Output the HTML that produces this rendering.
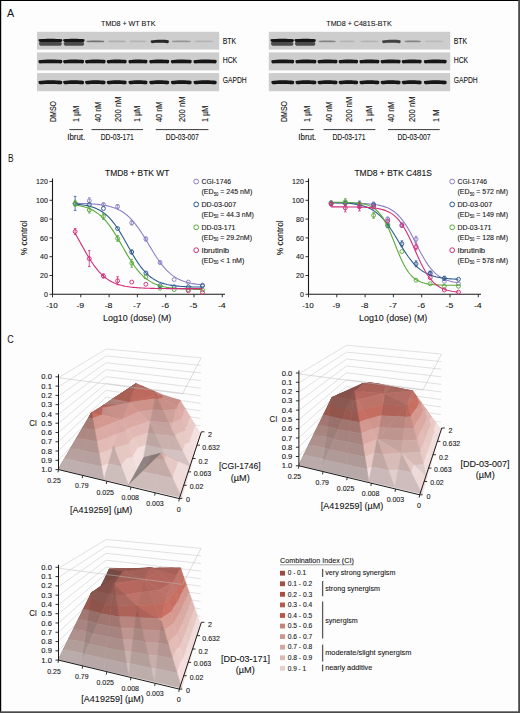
<!DOCTYPE html>
<html><head><meta charset="utf-8"><style>
html,body{margin:0;padding:0;background:#fff;}
svg{display:block;font-family:"Liberation Sans",sans-serif;}
text{fill:#151515;stroke:#151515;stroke-width:0.1px;}
</style></head><body>
<svg width="520" height="713" viewBox="0 0 520 713">
<defs><filter id="bl" x="-20%" y="-100%" width="140%" height="300%"><feGaussianBlur stdDeviation="0.6"/></filter><filter id="bl2" x="-20%" y="-100%" width="140%" height="300%"><feGaussianBlur stdDeviation="1.0"/></filter></defs>
<rect x="0" y="0" width="520" height="713" fill="#fdfdfd"/>
<text x="7.00" y="16.70" font-size="11.8" textLength="7.20" lengthAdjust="spacingAndGlyphs" style="stroke-width:0">A</text>
<text x="7.90" y="161.70" font-size="11.8" textLength="5.60" lengthAdjust="spacingAndGlyphs" style="stroke-width:0">B</text>
<text x="7.30" y="343.20" font-size="11.8" textLength="6.50" lengthAdjust="spacingAndGlyphs" style="stroke-width:0">C</text>
<g>
<rect x="37" y="31.8" width="182.2" height="17.8" fill="#cdcdcd"/>
<rect x="37" y="52.4" width="182.2" height="18.0" fill="#cdcdcd"/>
<rect x="37" y="73.1" width="182.2" height="18.1" fill="#cdcdcd"/>
<path d="M39.30 42.34C44.82 41.50 55.88 41.50 61.40 42.34C62.20 43.60 61.70 45.70 60.40 45.70C54.77 45.70 45.93 45.70 40.30 45.70C38.80 44.86 38.70 43.18 39.30 42.34Z" fill="#3c3c3c" opacity="0.90" filter="url(#bl)"/>
<path d="M38.80 39.18C44.57 38.50 56.12 38.50 61.90 39.18C62.70 40.20 62.20 41.90 60.90 41.90C54.97 41.90 45.73 41.90 39.80 41.90C38.30 41.22 38.20 39.86 38.80 39.18Z" fill="#141414" opacity="1.00" filter="url(#bl)"/>
<path d="M64.00 42.34C68.92 41.50 78.78 41.50 83.70 42.34C84.50 43.60 84.00 45.70 82.70 45.70C77.79 45.70 69.91 45.70 65.00 45.70C63.50 44.86 63.40 43.18 64.00 42.34Z" fill="#3c3c3c" opacity="0.90" filter="url(#bl)"/>
<path d="M63.50 39.18C68.67 38.50 79.03 38.50 84.20 39.18C85.00 40.20 84.50 41.90 83.20 41.90C77.99 41.90 69.71 41.90 64.50 41.90C63.00 41.22 62.90 39.86 63.50 39.18Z" fill="#141414" opacity="1.00" filter="url(#bl)"/>
<path d="M86.80 40.76C91.10 40.40 99.70 40.40 104.00 40.76C104.80 41.30 104.30 42.20 103.00 42.20C98.84 42.20 91.96 42.20 87.80 42.20C86.30 41.84 86.20 41.12 86.80 40.76Z" fill="#555555" opacity="0.75" filter="url(#bl)"/>
<path d="M108.10 40.76C112.40 40.40 121.00 40.40 125.30 40.76C126.10 41.30 125.60 42.20 124.30 42.20C120.14 42.20 113.26 42.20 109.10 42.20C107.60 41.84 107.50 41.12 108.10 40.76Z" fill="#555555" opacity="0.25" filter="url(#bl)"/>
<path d="M129.80 40.76C133.88 40.40 142.03 40.40 146.10 40.76C146.90 41.30 146.40 42.20 145.10 42.20C141.21 42.20 134.69 42.20 130.80 42.20C129.30 41.84 129.20 41.12 129.80 40.76Z" fill="#555555" opacity="0.20" filter="url(#bl)"/>
<path d="M151.00 40.47C155.38 39.60 164.12 39.60 168.50 40.22C169.30 41.40 168.80 43.20 167.50 43.20C163.25 42.70 156.25 42.70 152.00 43.20C150.50 42.48 150.40 41.04 151.00 40.47Z" fill="#161616" opacity="0.90" filter="url(#bl)"/>
<path d="M172.20 40.76C176.72 40.40 185.78 40.40 190.30 40.76C191.10 41.30 190.60 42.20 189.30 42.20C184.87 42.20 177.63 42.20 173.20 42.20C171.70 41.84 171.60 41.12 172.20 40.76Z" fill="#555555" opacity="0.45" filter="url(#bl)"/>
<path d="M194.80 40.76C199.35 40.40 208.45 40.40 213.00 40.76C213.80 41.30 213.30 42.20 212.00 42.20C207.54 42.20 200.26 42.20 195.80 42.20C194.30 41.84 194.20 41.12 194.80 40.76Z" fill="#555555" opacity="0.20" filter="url(#bl)"/>
<path d="M38.80 60.20C44.57 59.30 56.12 59.30 61.90 60.10C62.70 61.40 62.20 63.50 60.90 63.50C54.97 63.30 45.73 63.30 39.80 63.50C38.30 62.66 38.20 60.98 38.80 60.20Z" fill="#121212" opacity="1.00" filter="url(#bl)"/>
<path d="M38.80 81.03C44.57 80.10 56.12 80.10 61.90 80.88C62.70 82.20 62.20 84.30 60.90 84.30C54.97 84.00 45.73 84.00 39.80 84.30C38.30 83.46 38.20 81.78 38.80 81.03Z" fill="#151515" opacity="1.00" filter="url(#bl)"/>
<path d="M63.50 60.20C68.55 59.30 78.65 59.30 83.70 60.10C84.50 61.40 84.00 63.50 82.70 63.50C77.64 63.30 69.56 63.30 64.50 63.50C63.00 62.66 62.90 60.98 63.50 60.20Z" fill="#121212" opacity="1.00" filter="url(#bl)"/>
<path d="M63.50 81.03C68.55 80.10 78.65 80.10 83.70 80.88C84.50 82.20 84.00 84.30 82.70 84.30C77.64 84.00 69.56 84.00 64.50 84.30C63.00 83.46 62.90 81.78 63.50 81.03Z" fill="#151515" opacity="1.00" filter="url(#bl)"/>
<path d="M85.40 60.20C90.35 59.30 100.25 59.30 105.20 60.10C106.00 61.40 105.50 63.50 104.20 63.50C99.26 63.30 91.34 63.30 86.40 63.50C84.90 62.66 84.80 60.98 85.40 60.20Z" fill="#121212" opacity="1.00" filter="url(#bl)"/>
<path d="M85.40 81.03C90.35 80.10 100.25 80.10 105.20 80.88C106.00 82.20 105.50 84.30 104.20 84.30C99.26 84.00 91.34 84.00 86.40 84.30C84.90 83.46 84.80 81.78 85.40 81.03Z" fill="#151515" opacity="1.00" filter="url(#bl)"/>
<path d="M107.10 60.20C111.90 59.30 121.50 59.30 126.30 60.10C127.10 61.40 126.60 63.50 125.30 63.50C120.54 63.30 112.86 63.30 108.10 63.50C106.60 62.66 106.50 60.98 107.10 60.20Z" fill="#121212" opacity="1.00" filter="url(#bl)"/>
<path d="M107.10 81.03C111.90 80.10 121.50 80.10 126.30 80.88C127.10 82.20 126.60 84.30 125.30 84.30C120.54 84.00 112.86 84.00 108.10 84.30C106.60 83.46 106.50 81.78 107.10 81.03Z" fill="#151515" opacity="1.00" filter="url(#bl)"/>
<path d="M128.80 60.20C133.38 59.30 142.53 59.30 147.10 60.10C147.90 61.40 147.40 63.50 146.10 63.50C141.61 63.30 134.29 63.30 129.80 63.50C128.30 62.66 128.20 60.98 128.80 60.20Z" fill="#121212" opacity="1.00" filter="url(#bl)"/>
<path d="M128.80 81.03C133.38 80.10 142.53 80.10 147.10 80.88C147.90 82.20 147.40 84.30 146.10 84.30C141.61 84.00 134.29 84.00 129.80 84.30C128.30 83.46 128.20 81.78 128.80 81.03Z" fill="#151515" opacity="1.00" filter="url(#bl)"/>
<path d="M149.60 60.20C154.40 59.30 164.00 59.30 168.80 60.10C169.60 61.40 169.10 63.50 167.80 63.50C163.04 63.30 155.36 63.30 150.60 63.50C149.10 62.66 149.00 60.98 149.60 60.20Z" fill="#121212" opacity="1.00" filter="url(#bl)"/>
<path d="M149.60 81.03C154.40 80.10 164.00 80.10 168.80 80.88C169.60 82.20 169.10 84.30 167.80 84.30C163.04 84.00 155.36 84.00 150.60 84.30C149.10 83.46 149.00 81.78 149.60 81.03Z" fill="#151515" opacity="1.00" filter="url(#bl)"/>
<path d="M171.20 60.20C176.22 59.30 186.28 59.30 191.30 60.10C192.10 61.40 191.60 63.50 190.30 63.50C185.27 63.30 177.23 63.30 172.20 63.50C170.70 62.66 170.60 60.98 171.20 60.20Z" fill="#121212" opacity="1.00" filter="url(#bl)"/>
<path d="M171.20 81.03C176.22 80.10 186.28 80.10 191.30 80.88C192.10 82.20 191.60 84.30 190.30 84.30C185.27 84.00 177.23 84.00 172.20 84.30C170.70 83.46 170.60 81.78 171.20 81.03Z" fill="#151515" opacity="1.00" filter="url(#bl)"/>
<path d="M193.80 60.20C199.43 59.30 210.68 59.30 216.30 60.10C217.10 61.40 216.60 63.50 215.30 63.50C209.55 63.30 200.55 63.30 194.80 63.50C193.30 62.66 193.20 60.98 193.80 60.20Z" fill="#121212" opacity="1.00" filter="url(#bl)"/>
<path d="M193.80 81.03C199.43 80.10 210.68 80.10 216.30 80.88C217.10 82.20 216.60 84.30 215.30 84.30C209.55 84.00 200.55 84.00 194.80 84.30C193.30 83.46 193.20 81.78 193.80 81.03Z" fill="#151515" opacity="1.00" filter="url(#bl)"/>
<text x="222.70" y="43.60" font-size="8.2" textLength="13.50" lengthAdjust="spacingAndGlyphs" >BTK</text>
<text x="222.70" y="63.40" font-size="8.2" textLength="14.50" lengthAdjust="spacingAndGlyphs" >HCK</text>
<text x="222.70" y="83.40" font-size="8.2" textLength="24.00" lengthAdjust="spacingAndGlyphs" >GAPDH</text>
<text x="101.10" y="26.30" font-size="8.0" textLength="54.30" lengthAdjust="spacingAndGlyphs" >TMD8 + WT BTK</text>
<text x="55.70" y="122.00" font-size="8.4" textLength="21.00" lengthAdjust="spacingAndGlyphs" transform="rotate(-90 55.70 122.00)" >DMSO</text>
<text x="79.00" y="122.00" font-size="8.4" textLength="16.30" lengthAdjust="spacingAndGlyphs" transform="rotate(-90 79.00 122.00)" >1 µM</text>
<text x="100.70" y="122.00" font-size="8.4" textLength="20.50" lengthAdjust="spacingAndGlyphs" transform="rotate(-90 100.70 122.00)" >40 nM</text>
<text x="121.00" y="122.00" font-size="8.4" textLength="25.50" lengthAdjust="spacingAndGlyphs" transform="rotate(-90 121.00 122.00)" >200 nM</text>
<text x="140.30" y="122.00" font-size="8.4" textLength="16.30" lengthAdjust="spacingAndGlyphs" transform="rotate(-90 140.30 122.00)" >1 µM</text>
<text x="162.20" y="122.00" font-size="8.4" textLength="20.50" lengthAdjust="spacingAndGlyphs" transform="rotate(-90 162.20 122.00)" >40 nM</text>
<text x="184.80" y="122.00" font-size="8.4" textLength="25.50" lengthAdjust="spacingAndGlyphs" transform="rotate(-90 184.80 122.00)" >200 nM</text>
<text x="208.00" y="122.00" font-size="8.4" textLength="16.30" lengthAdjust="spacingAndGlyphs" transform="rotate(-90 208.00 122.00)" >1 µM</text>
<rect x="268.8" y="31.8" width="181.4" height="17.8" fill="#cdcdcd"/>
<rect x="268.8" y="52.4" width="181.4" height="18.0" fill="#cdcdcd"/>
<rect x="268.8" y="73.1" width="181.4" height="18.1" fill="#cdcdcd"/>
<path d="M271.30 42.34C276.73 41.50 287.57 41.50 293.00 42.34C293.80 43.60 293.30 45.70 292.00 45.70C286.49 45.70 277.81 45.70 272.30 45.70C270.80 44.86 270.70 43.18 271.30 42.34Z" fill="#3c3c3c" opacity="0.90" filter="url(#bl)"/>
<path d="M270.80 39.18C276.48 38.50 287.82 38.50 293.50 39.18C294.30 40.20 293.80 41.90 292.50 41.90C286.69 41.90 277.61 41.90 271.80 41.90C270.30 41.22 270.20 39.86 270.80 39.18Z" fill="#141414" opacity="1.00" filter="url(#bl)"/>
<path d="M295.30 42.34C300.20 41.50 310.00 41.50 314.90 42.34C315.70 43.60 315.20 45.70 313.90 45.70C309.02 45.70 301.18 45.70 296.30 45.70C294.80 44.86 294.70 43.18 295.30 42.34Z" fill="#3c3c3c" opacity="0.90" filter="url(#bl)"/>
<path d="M294.80 39.18C299.95 38.50 310.25 38.50 315.40 39.18C316.20 40.20 315.70 41.90 314.40 41.90C309.22 41.90 300.98 41.90 295.80 41.90C294.30 41.22 294.20 39.86 294.80 39.18Z" fill="#141414" opacity="1.00" filter="url(#bl)"/>
<path d="M318.90 40.76C322.97 40.40 331.12 40.40 335.20 40.76C336.00 41.30 335.50 42.20 334.20 42.20C330.31 42.20 323.79 42.20 319.90 42.20C318.40 41.84 318.30 41.12 318.90 40.76Z" fill="#555555" opacity="0.60" filter="url(#bl)"/>
<path d="M340.00 40.76C343.60 40.40 350.80 40.40 354.40 40.76C355.20 41.30 354.70 42.20 353.40 42.20C350.08 42.20 344.32 42.20 341.00 42.20C339.50 41.84 339.40 41.12 340.00 40.76Z" fill="#555555" opacity="0.20" filter="url(#bl)"/>
<path d="M360.80 40.76C365.10 40.40 373.70 40.40 378.00 40.76C378.80 41.30 378.30 42.20 377.00 42.20C372.84 42.20 365.96 42.20 361.80 42.20C360.30 41.84 360.20 41.12 360.80 40.76Z" fill="#555555" opacity="0.20" filter="url(#bl)"/>
<path d="M382.40 40.47C386.88 39.60 395.82 39.60 400.30 40.22C401.10 41.40 400.60 43.20 399.30 43.20C394.93 42.70 387.77 42.70 383.40 43.20C381.90 42.48 381.80 41.04 382.40 40.47Z" fill="#161616" opacity="0.75" filter="url(#bl)"/>
<path d="M405.00 40.76C408.82 40.40 416.48 40.40 420.30 40.76C421.10 41.30 420.60 42.20 419.30 42.20C415.71 42.20 409.59 42.20 406.00 42.20C404.50 41.84 404.40 41.12 405.00 40.76Z" fill="#555555" opacity="0.60" filter="url(#bl)"/>
<path d="M425.20 40.76C429.65 40.40 438.55 40.40 443.00 40.76C443.80 41.30 443.30 42.20 442.00 42.20C437.66 42.20 430.54 42.20 426.20 42.20C424.70 41.84 424.60 41.12 425.20 40.76Z" fill="#555555" opacity="0.15" filter="url(#bl)"/>
<path d="M271.70 60.20C277.23 59.30 288.27 59.30 293.80 60.10C294.60 61.40 294.10 63.50 292.80 63.50C287.17 63.30 278.33 63.30 272.70 63.50C271.20 62.66 271.10 60.98 271.70 60.20Z" fill="#121212" opacity="1.00" filter="url(#bl)"/>
<path d="M271.70 81.03C277.23 80.10 288.27 80.10 293.80 80.88C294.60 82.20 294.10 84.30 292.80 84.30C287.17 84.00 278.33 84.00 272.70 84.30C271.20 83.46 271.10 81.78 271.70 81.03Z" fill="#151515" opacity="1.00" filter="url(#bl)"/>
<path d="M295.80 60.20C300.85 59.30 310.95 59.30 316.00 60.10C316.80 61.40 316.30 63.50 315.00 63.50C309.94 63.30 301.86 63.30 296.80 63.50C295.30 62.66 295.20 60.98 295.80 60.20Z" fill="#121212" opacity="1.00" filter="url(#bl)"/>
<path d="M295.80 81.03C300.85 80.10 310.95 80.10 316.00 80.88C316.80 82.20 316.30 84.30 315.00 84.30C309.94 84.00 301.86 84.00 296.80 84.30C295.30 83.46 295.20 81.78 295.80 81.03Z" fill="#151515" opacity="1.00" filter="url(#bl)"/>
<path d="M317.90 60.20C322.70 59.30 332.30 59.30 337.10 60.10C337.90 61.40 337.40 63.50 336.10 63.50C331.34 63.30 323.66 63.30 318.90 63.50C317.40 62.66 317.30 60.98 317.90 60.20Z" fill="#121212" opacity="1.00" filter="url(#bl)"/>
<path d="M317.90 81.03C322.70 80.10 332.30 80.10 337.10 80.88C337.90 82.20 337.40 84.30 336.10 84.30C331.34 84.00 323.66 84.00 318.90 84.30C317.40 83.46 317.30 81.78 317.90 81.03Z" fill="#151515" opacity="1.00" filter="url(#bl)"/>
<path d="M339.00 60.20C343.68 59.30 353.02 59.30 357.70 60.10C358.50 61.40 358.00 63.50 356.70 63.50C352.09 63.30 344.61 63.30 340.00 63.50C338.50 62.66 338.40 60.98 339.00 60.20Z" fill="#121212" opacity="1.00" filter="url(#bl)"/>
<path d="M339.00 81.03C343.68 80.10 353.02 80.10 357.70 80.88C358.50 82.20 358.00 84.30 356.70 84.30C352.09 84.00 344.61 84.00 340.00 84.30C338.50 83.46 338.40 81.78 339.00 81.03Z" fill="#151515" opacity="1.00" filter="url(#bl)"/>
<path d="M359.80 60.20C364.60 59.30 374.20 59.30 379.00 60.10C379.80 61.40 379.30 63.50 378.00 63.50C373.24 63.30 365.56 63.30 360.80 63.50C359.30 62.66 359.20 60.98 359.80 60.20Z" fill="#121212" opacity="1.00" filter="url(#bl)"/>
<path d="M359.80 81.03C364.60 80.10 374.20 80.10 379.00 80.88C379.80 82.20 379.30 84.30 378.00 84.30C373.24 84.00 365.56 84.00 360.80 84.30C359.30 83.46 359.20 81.78 359.80 81.03Z" fill="#151515" opacity="1.00" filter="url(#bl)"/>
<path d="M381.00 60.20C385.80 59.30 395.40 59.30 400.20 60.10C401.00 61.40 400.50 63.50 399.20 63.50C394.44 63.30 386.76 63.30 382.00 63.50C380.50 62.66 380.40 60.98 381.00 60.20Z" fill="#121212" opacity="1.00" filter="url(#bl)"/>
<path d="M381.00 81.03C385.80 80.10 395.40 80.10 400.20 80.88C401.00 82.20 400.50 84.30 399.20 84.30C394.44 84.00 386.76 84.00 382.00 84.30C380.50 83.46 380.40 81.78 381.00 81.03Z" fill="#151515" opacity="1.00" filter="url(#bl)"/>
<path d="M402.10 60.20C406.90 59.30 416.50 59.30 421.30 60.10C422.10 61.40 421.60 63.50 420.30 63.50C415.54 63.30 407.86 63.30 403.10 63.50C401.60 62.66 401.50 60.98 402.10 60.20Z" fill="#121212" opacity="1.00" filter="url(#bl)"/>
<path d="M402.10 81.03C406.90 80.10 416.50 80.10 421.30 80.88C422.10 82.20 421.60 84.30 420.30 84.30C415.54 84.00 407.86 84.00 403.10 84.30C401.60 83.46 401.50 81.78 402.10 81.03Z" fill="#151515" opacity="1.00" filter="url(#bl)"/>
<path d="M424.20 60.20C429.73 59.30 440.77 59.30 446.30 60.10C447.10 61.40 446.60 63.50 445.30 63.50C439.67 63.30 430.83 63.30 425.20 63.50C423.70 62.66 423.60 60.98 424.20 60.20Z" fill="#121212" opacity="1.00" filter="url(#bl)"/>
<path d="M424.20 81.03C429.73 80.10 440.77 80.10 446.30 80.88C447.10 82.20 446.60 84.30 445.30 84.30C439.67 84.00 430.83 84.00 425.20 84.30C423.70 83.46 423.60 81.78 424.20 81.03Z" fill="#151515" opacity="1.00" filter="url(#bl)"/>
<text x="453.70" y="43.60" font-size="8.2" textLength="13.50" lengthAdjust="spacingAndGlyphs" >BTK</text>
<text x="453.70" y="63.40" font-size="8.2" textLength="14.50" lengthAdjust="spacingAndGlyphs" >HCK</text>
<text x="453.70" y="83.40" font-size="8.2" textLength="24.00" lengthAdjust="spacingAndGlyphs" >GAPDH</text>
<text x="326.30" y="26.30" font-size="8.0" textLength="65.40" lengthAdjust="spacingAndGlyphs" >TMD8 + C481S-BTK</text>
<text x="286.80" y="122.00" font-size="8.4" textLength="21.00" lengthAdjust="spacingAndGlyphs" transform="rotate(-90 286.80 122.00)" >DMSO</text>
<text x="310.30" y="122.00" font-size="8.4" textLength="16.30" lengthAdjust="spacingAndGlyphs" transform="rotate(-90 310.30 122.00)" >1 µM</text>
<text x="332.20" y="122.00" font-size="8.4" textLength="20.50" lengthAdjust="spacingAndGlyphs" transform="rotate(-90 332.20 122.00)" >40 nM</text>
<text x="351.90" y="122.00" font-size="8.4" textLength="25.50" lengthAdjust="spacingAndGlyphs" transform="rotate(-90 351.90 122.00)" >200 nM</text>
<text x="371.50" y="122.00" font-size="8.4" textLength="16.30" lengthAdjust="spacingAndGlyphs" transform="rotate(-90 371.50 122.00)" >1 µM</text>
<text x="394.20" y="122.00" font-size="8.4" textLength="20.50" lengthAdjust="spacingAndGlyphs" transform="rotate(-90 394.20 122.00)" >40 nM</text>
<text x="415.30" y="122.00" font-size="8.4" textLength="25.50" lengthAdjust="spacingAndGlyphs" transform="rotate(-90 415.30 122.00)" >200 nM</text>
<text x="438.80" y="122.00" font-size="8.4" textLength="12.50" lengthAdjust="spacingAndGlyphs" transform="rotate(-90 438.80 122.00)" >1 M</text>
<line x1="69.4" y1="129.6" x2="82.9" y2="129.6" stroke="#222" stroke-width="0.9"/>
<text x="76.20" y="140.30" font-size="8.2" text-anchor="middle" textLength="18.00" lengthAdjust="spacingAndGlyphs" >Ibrut.</text>
<line x1="91.5" y1="129.6" x2="143.0" y2="129.6" stroke="#222" stroke-width="0.9"/>
<text x="117.20" y="140.30" font-size="8.2" text-anchor="middle" textLength="33.00" lengthAdjust="spacingAndGlyphs" >DD-03-171</text>
<line x1="155.8" y1="129.6" x2="208.4" y2="129.6" stroke="#222" stroke-width="0.9"/>
<text x="182.30" y="140.30" font-size="8.2" text-anchor="middle" textLength="33.00" lengthAdjust="spacingAndGlyphs" >DD-03-007</text>
<line x1="300.4" y1="129.6" x2="313.6" y2="129.6" stroke="#222" stroke-width="0.9"/>
<text x="307.30" y="140.30" font-size="8.2" text-anchor="middle" textLength="18.00" lengthAdjust="spacingAndGlyphs" >Ibrut.</text>
<line x1="323.5" y1="129.6" x2="375.4" y2="129.6" stroke="#222" stroke-width="0.9"/>
<text x="348.90" y="140.30" font-size="8.2" text-anchor="middle" textLength="33.00" lengthAdjust="spacingAndGlyphs" >DD-03-171</text>
<line x1="388.0" y1="129.6" x2="439.7" y2="129.6" stroke="#222" stroke-width="0.9"/>
<text x="413.90" y="140.30" font-size="8.2" text-anchor="middle" textLength="33.00" lengthAdjust="spacingAndGlyphs" >DD-03-007</text>
</g>
<path d="M52.5 178.6 V294.3 H225.0" fill="none" stroke="#1a1a1a" stroke-width="1.1"/>
<line x1="49.5" y1="294.3" x2="52.5" y2="294.3" stroke="#1a1a1a" stroke-width="0.9"/>
<text x="47.80" y="297.00" font-size="7.4" text-anchor="end" textLength="3.90" lengthAdjust="spacingAndGlyphs" >0</text>
<line x1="49.5" y1="275.5" x2="52.5" y2="275.5" stroke="#1a1a1a" stroke-width="0.9"/>
<text x="47.80" y="278.20" font-size="7.4" text-anchor="end" textLength="7.80" lengthAdjust="spacingAndGlyphs" >20</text>
<line x1="49.5" y1="256.7" x2="52.5" y2="256.7" stroke="#1a1a1a" stroke-width="0.9"/>
<text x="47.80" y="259.40" font-size="7.4" text-anchor="end" textLength="7.80" lengthAdjust="spacingAndGlyphs" >40</text>
<line x1="49.5" y1="237.9" x2="52.5" y2="237.9" stroke="#1a1a1a" stroke-width="0.9"/>
<text x="47.80" y="240.60" font-size="7.4" text-anchor="end" textLength="7.80" lengthAdjust="spacingAndGlyphs" >60</text>
<line x1="49.5" y1="219.1" x2="52.5" y2="219.1" stroke="#1a1a1a" stroke-width="0.9"/>
<text x="47.80" y="221.80" font-size="7.4" text-anchor="end" textLength="7.80" lengthAdjust="spacingAndGlyphs" >80</text>
<line x1="49.5" y1="200.3" x2="52.5" y2="200.3" stroke="#1a1a1a" stroke-width="0.9"/>
<text x="47.80" y="203.00" font-size="7.4" text-anchor="end" textLength="11.70" lengthAdjust="spacingAndGlyphs" >100</text>
<line x1="49.5" y1="181.5" x2="52.5" y2="181.5" stroke="#1a1a1a" stroke-width="0.9"/>
<text x="47.80" y="184.20" font-size="7.4" text-anchor="end" textLength="11.70" lengthAdjust="spacingAndGlyphs" >120</text>
<line x1="52.5" y1="294.3" x2="52.5" y2="297.3" stroke="#1a1a1a" stroke-width="0.9"/>
<text x="52.00" y="308.00" font-size="7.4" text-anchor="middle" textLength="11.70" lengthAdjust="spacingAndGlyphs" >-10</text>
<line x1="80.8" y1="294.3" x2="80.8" y2="297.3" stroke="#1a1a1a" stroke-width="0.9"/>
<text x="80.30" y="308.00" font-size="7.4" text-anchor="middle" textLength="7.80" lengthAdjust="spacingAndGlyphs" >-9</text>
<line x1="109.1" y1="294.3" x2="109.1" y2="297.3" stroke="#1a1a1a" stroke-width="0.9"/>
<text x="108.60" y="308.00" font-size="7.4" text-anchor="middle" textLength="7.80" lengthAdjust="spacingAndGlyphs" >-8</text>
<line x1="137.4" y1="294.3" x2="137.4" y2="297.3" stroke="#1a1a1a" stroke-width="0.9"/>
<text x="136.90" y="308.00" font-size="7.4" text-anchor="middle" textLength="7.80" lengthAdjust="spacingAndGlyphs" >-7</text>
<line x1="165.7" y1="294.3" x2="165.7" y2="297.3" stroke="#1a1a1a" stroke-width="0.9"/>
<text x="165.20" y="308.00" font-size="7.4" text-anchor="middle" textLength="7.80" lengthAdjust="spacingAndGlyphs" >-6</text>
<line x1="194.0" y1="294.3" x2="194.0" y2="297.3" stroke="#1a1a1a" stroke-width="0.9"/>
<text x="193.50" y="308.00" font-size="7.4" text-anchor="middle" textLength="7.80" lengthAdjust="spacingAndGlyphs" >-5</text>
<line x1="222.3" y1="294.3" x2="222.3" y2="297.3" stroke="#1a1a1a" stroke-width="0.9"/>
<text x="221.80" y="308.00" font-size="7.4" text-anchor="middle" textLength="7.80" lengthAdjust="spacingAndGlyphs" >-4</text>
<text x="103.00" y="320.90" font-size="8.6" textLength="68.30" lengthAdjust="spacingAndGlyphs" >Log10 (dose) (M)</text>
<text x="26.80" y="237.80" font-size="8.6" text-anchor="middle" textLength="35.00" lengthAdjust="spacingAndGlyphs" transform="rotate(-90 26.80 237.80)" >% control</text>
<text x="137.20" y="175.60" font-size="8.6" text-anchor="middle" textLength="64.40" lengthAdjust="spacingAndGlyphs" >TMD8 + BTK WT</text>
<path d="M75.14 203.33L76.75 203.36L78.36 203.39L79.98 203.43L81.59 203.47L83.20 203.52L84.81 203.57L86.42 203.64L88.04 203.71L89.65 203.79L91.26 203.88L92.87 203.99L94.48 204.11L96.10 204.25L97.71 204.40L99.32 204.58L100.93 204.78L102.54 205.01L104.16 205.27L105.77 205.56L107.38 205.89L108.99 206.26L110.60 206.68L112.22 207.16L113.83 207.69L115.44 208.29L117.05 208.97L118.66 209.72L120.28 210.56L121.89 211.50L123.50 212.54L125.11 213.69L126.72 214.96L128.34 216.35L129.95 217.88L131.56 219.53L133.17 221.33L134.78 223.26L136.40 225.32L138.01 227.52L139.62 229.83L141.23 232.26L142.85 234.78L144.46 237.38L146.07 240.04L147.68 242.73L149.29 245.44L150.91 248.15L152.52 250.82L154.13 253.44L155.74 255.98L157.35 258.44L158.97 260.79L160.58 263.02L162.19 265.12L163.80 267.09L165.41 268.92L167.03 270.62L168.64 272.18L170.25 273.61L171.86 274.92L173.47 276.10L175.09 277.17L176.70 278.14L178.31 279.01L179.92 279.79L181.53 280.48L183.15 281.10L184.76 281.66L186.37 282.15L187.98 282.58L189.59 282.97L191.21 283.31L192.82 283.61L194.43 283.88L196.04 284.12L197.65 284.32L199.27 284.51L200.88 284.67L202.49 284.81" fill="none" stroke="#8b7fc4" stroke-width="1.1"/>
<circle cx="75.14" cy="204.06" r="1.95" fill="none" stroke="#8b7fc4" stroke-width="0.95"/>
<path d="M89.29 197.77V203.77M87.99 197.77h2.6M87.99 203.77h2.6" stroke="#8b7fc4" stroke-width="0.8" fill="none"/>
<circle cx="89.29" cy="200.77" r="1.95" fill="none" stroke="#8b7fc4" stroke-width="0.95"/>
<path d="M103.44 203.12V206.12M102.14 203.12h2.6M102.14 206.12h2.6" stroke="#8b7fc4" stroke-width="0.8" fill="none"/>
<circle cx="103.44" cy="204.62" r="1.95" fill="none" stroke="#8b7fc4" stroke-width="0.95"/>
<path d="M117.59 204.50V208.50M116.29 204.50h2.6M116.29 208.50h2.6" stroke="#8b7fc4" stroke-width="0.8" fill="none"/>
<circle cx="117.59" cy="206.50" r="1.95" fill="none" stroke="#8b7fc4" stroke-width="0.95"/>
<path d="M131.74 220.86V224.86M130.44 220.86h2.6M130.44 224.86h2.6" stroke="#8b7fc4" stroke-width="0.8" fill="none"/>
<circle cx="131.74" cy="222.86" r="1.95" fill="none" stroke="#8b7fc4" stroke-width="0.95"/>
<path d="M145.89 237.03V241.03M144.59 237.03h2.6M144.59 241.03h2.6" stroke="#8b7fc4" stroke-width="0.8" fill="none"/>
<circle cx="145.89" cy="239.03" r="1.95" fill="none" stroke="#8b7fc4" stroke-width="0.95"/>
<path d="M160.04 261.03V264.03M158.74 261.03h2.6M158.74 264.03h2.6" stroke="#8b7fc4" stroke-width="0.8" fill="none"/>
<circle cx="160.04" cy="262.53" r="1.95" fill="none" stroke="#8b7fc4" stroke-width="0.95"/>
<circle cx="174.19" cy="279.54" r="1.95" fill="none" stroke="#8b7fc4" stroke-width="0.95"/>
<circle cx="188.34" cy="282.08" r="1.95" fill="none" stroke="#8b7fc4" stroke-width="0.95"/>
<circle cx="202.49" cy="284.99" r="1.95" fill="none" stroke="#8b7fc4" stroke-width="0.95"/>
<path d="M75.14 204.07L76.75 204.21L78.36 204.37L79.98 204.55L81.59 204.75L83.20 204.99L84.81 205.26L86.42 205.57L88.04 205.91L89.65 206.31L91.26 206.76L92.87 207.27L94.48 207.85L96.10 208.51L97.71 209.24L99.32 210.07L100.93 211.00L102.54 212.04L104.16 213.20L105.77 214.49L107.38 215.91L108.99 217.48L110.60 219.20L112.22 221.06L113.83 223.08L115.44 225.26L117.05 227.57L118.66 230.03L120.28 232.61L121.89 235.30L123.50 238.08L125.11 240.92L126.72 243.80L128.34 246.70L129.95 249.58L131.56 252.42L133.17 255.19L134.78 257.88L136.40 260.45L138.01 262.90L139.62 265.21L141.23 267.38L142.85 269.39L144.46 271.25L146.07 272.96L147.68 274.52L149.29 275.94L150.91 277.22L152.52 278.38L154.13 279.41L155.74 280.34L157.35 281.16L158.97 281.89L160.58 282.55L162.19 283.12L163.80 283.63L165.41 284.08L167.03 284.47L168.64 284.82L170.25 285.12L171.86 285.39L173.47 285.63L175.09 285.83L176.70 286.01L178.31 286.17L179.92 286.31L181.53 286.43L183.15 286.53L184.76 286.62L186.37 286.70L187.98 286.77L189.59 286.83L191.21 286.89L192.82 286.93L194.43 286.97L196.04 287.01L197.65 287.04L199.27 287.07L200.88 287.09L202.49 287.11" fill="none" stroke="#2d5a8e" stroke-width="1.1"/>
<path d="M75.14 196.40V210.40M73.84 196.40h2.6M73.84 210.40h2.6" stroke="#2d5a8e" stroke-width="0.8" fill="none"/>
<circle cx="75.14" cy="203.40" r="1.95" fill="none" stroke="#2d5a8e" stroke-width="0.95"/>
<circle cx="89.29" cy="204.62" r="1.95" fill="none" stroke="#2d5a8e" stroke-width="0.95"/>
<circle cx="103.44" cy="208.48" r="1.95" fill="none" stroke="#2d5a8e" stroke-width="0.95"/>
<circle cx="117.59" cy="228.50" r="1.95" fill="none" stroke="#2d5a8e" stroke-width="0.95"/>
<path d="M131.74 250.00V254.00M130.44 250.00h2.6M130.44 254.00h2.6" stroke="#2d5a8e" stroke-width="0.8" fill="none"/>
<circle cx="131.74" cy="252.00" r="1.95" fill="none" stroke="#2d5a8e" stroke-width="0.95"/>
<circle cx="145.89" cy="272.96" r="1.95" fill="none" stroke="#2d5a8e" stroke-width="0.95"/>
<circle cx="160.04" cy="285.75" r="1.95" fill="none" stroke="#2d5a8e" stroke-width="0.95"/>
<circle cx="174.19" cy="286.78" r="1.95" fill="none" stroke="#2d5a8e" stroke-width="0.95"/>
<circle cx="188.34" cy="286.78" r="1.95" fill="none" stroke="#2d5a8e" stroke-width="0.95"/>
<circle cx="202.49" cy="285.84" r="1.95" fill="none" stroke="#2d5a8e" stroke-width="0.95"/>
<path d="M75.14 204.93L76.75 205.18L78.36 205.46L79.98 205.78L81.59 206.14L83.20 206.54L84.81 207.00L86.42 207.52L88.04 208.10L89.65 208.75L91.26 209.48L92.87 210.30L94.48 211.21L96.10 212.22L97.71 213.35L99.32 214.59L100.93 215.96L102.54 217.46L104.16 219.10L105.77 220.88L107.38 222.80L108.99 224.86L110.60 227.07L112.22 229.40L113.83 231.86L115.44 234.43L117.05 237.10L118.66 239.84L120.28 242.63L121.89 245.46L123.50 248.29L125.11 251.11L126.72 253.89L128.34 256.60L129.95 259.24L131.56 261.77L133.17 264.18L134.78 266.47L136.40 268.62L138.01 270.64L139.62 272.51L141.23 274.24L142.85 275.82L144.46 277.28L146.07 278.60L147.68 279.80L149.29 280.88L150.91 281.86L152.52 282.73L154.13 283.52L155.74 284.22L157.35 284.84L158.97 285.40L160.58 285.89L162.19 286.33L163.80 286.72L165.41 287.06L167.03 287.37L168.64 287.64L170.25 287.87L171.86 288.08L173.47 288.27L175.09 288.43L176.70 288.57L178.31 288.69L179.92 288.80L181.53 288.90L183.15 288.99L184.76 289.06L186.37 289.13L187.98 289.19L189.59 289.24L191.21 289.28L192.82 289.32L194.43 289.35L196.04 289.38L197.65 289.41L199.27 289.43L200.88 289.45L202.49 289.47" fill="none" stroke="#5aaa3c" stroke-width="1.1"/>
<path d="M75.14 200.40V206.40M73.84 200.40h2.6M73.84 206.40h2.6" stroke="#5aaa3c" stroke-width="0.8" fill="none"/>
<circle cx="75.14" cy="203.40" r="1.95" fill="none" stroke="#5aaa3c" stroke-width="0.95"/>
<path d="M89.29 206.98V212.98M87.99 206.98h2.6M87.99 212.98h2.6" stroke="#5aaa3c" stroke-width="0.8" fill="none"/>
<circle cx="89.29" cy="209.98" r="1.95" fill="none" stroke="#5aaa3c" stroke-width="0.95"/>
<path d="M103.44 213.47V219.47M102.14 213.47h2.6M102.14 219.47h2.6" stroke="#5aaa3c" stroke-width="0.8" fill="none"/>
<circle cx="103.44" cy="216.47" r="1.95" fill="none" stroke="#5aaa3c" stroke-width="0.95"/>
<path d="M117.59 235.46V241.46M116.29 235.46h2.6M116.29 241.46h2.6" stroke="#5aaa3c" stroke-width="0.8" fill="none"/>
<circle cx="117.59" cy="238.46" r="1.95" fill="none" stroke="#5aaa3c" stroke-width="0.95"/>
<path d="M131.74 259.28V267.28M130.44 259.28h2.6M130.44 267.28h2.6" stroke="#5aaa3c" stroke-width="0.8" fill="none"/>
<circle cx="131.74" cy="263.28" r="1.95" fill="none" stroke="#5aaa3c" stroke-width="0.95"/>
<circle cx="145.89" cy="277.00" r="1.95" fill="none" stroke="#5aaa3c" stroke-width="0.95"/>
<circle cx="160.04" cy="288.28" r="1.95" fill="none" stroke="#5aaa3c" stroke-width="0.95"/>
<circle cx="174.19" cy="289.60" r="1.95" fill="none" stroke="#5aaa3c" stroke-width="0.95"/>
<circle cx="188.34" cy="289.60" r="1.95" fill="none" stroke="#5aaa3c" stroke-width="0.95"/>
<circle cx="202.49" cy="289.98" r="1.95" fill="none" stroke="#5aaa3c" stroke-width="0.95"/>
<path d="M75.14 233.52L76.75 236.28L78.36 239.11L79.98 241.98L81.59 244.88L83.20 247.77L84.81 250.63L86.42 253.44L88.04 256.18L89.65 258.83L91.26 261.36L92.87 263.77L94.48 266.05L96.10 268.18L97.71 270.17L99.32 272.02L100.93 273.72L102.54 275.28L104.16 276.70L105.77 277.99L107.38 279.16L108.99 280.22L110.60 281.17L112.22 282.02L113.83 282.78L115.44 283.46L117.05 284.07L118.66 284.61L120.28 285.08L121.89 285.51L123.50 285.88L125.11 286.22L126.72 286.51L128.34 286.77L129.95 287.00L131.56 287.20L133.17 287.37L134.78 287.53L136.40 287.67L138.01 287.79L139.62 287.89L141.23 287.99L142.85 288.07L144.46 288.14L146.07 288.21L147.68 288.26L149.29 288.31L150.91 288.35L152.52 288.39L154.13 288.42L155.74 288.45L157.35 288.48L158.97 288.50L160.58 288.52L162.19 288.54L163.80 288.55L165.41 288.57L167.03 288.58L168.64 288.59L170.25 288.60L171.86 288.60L173.47 288.61L175.09 288.62L176.70 288.62L178.31 288.63L179.92 288.63L181.53 288.63L183.15 288.64L184.76 288.64L186.37 288.64L187.98 288.64L189.59 288.65L191.21 288.65L192.82 288.65L194.43 288.65L196.04 288.65L197.65 288.65L199.27 288.65L200.88 288.65L202.49 288.66" fill="none" stroke="#cf2d7a" stroke-width="1.1"/>
<path d="M75.14 228.51V234.51M73.84 228.51h2.6M73.84 234.51h2.6" stroke="#cf2d7a" stroke-width="0.8" fill="none"/>
<circle cx="75.14" cy="231.51" r="1.95" fill="none" stroke="#cf2d7a" stroke-width="0.95"/>
<path d="M89.29 250.58V266.58M87.99 250.58h2.6M87.99 266.58h2.6" stroke="#cf2d7a" stroke-width="0.8" fill="none"/>
<circle cx="89.29" cy="258.58" r="1.95" fill="none" stroke="#cf2d7a" stroke-width="0.95"/>
<path d="M103.44 273.97V277.97M102.14 273.97h2.6M102.14 277.97h2.6" stroke="#cf2d7a" stroke-width="0.8" fill="none"/>
<circle cx="103.44" cy="275.97" r="1.95" fill="none" stroke="#cf2d7a" stroke-width="0.95"/>
<path d="M117.59 276.76V284.76M116.29 276.76h2.6M116.29 284.76h2.6" stroke="#cf2d7a" stroke-width="0.8" fill="none"/>
<circle cx="117.59" cy="280.76" r="1.95" fill="none" stroke="#cf2d7a" stroke-width="0.95"/>
<circle cx="131.74" cy="282.08" r="1.95" fill="none" stroke="#cf2d7a" stroke-width="0.95"/>
<circle cx="145.89" cy="284.24" r="1.95" fill="none" stroke="#cf2d7a" stroke-width="0.95"/>
<circle cx="188.34" cy="290.73" r="1.95" fill="none" stroke="#cf2d7a" stroke-width="0.95"/>
<circle cx="202.49" cy="292.42" r="1.95" fill="none" stroke="#cf2d7a" stroke-width="0.95"/>
<circle cx="196.2" cy="181.5" r="2.4" fill="none" stroke="#8b7fc4" stroke-width="1"/>
<text x="201.50" y="184.10" font-size="7.3" textLength="29.50" lengthAdjust="spacingAndGlyphs" >CGI-1746</text>
<text x="201.50" y="193.80" font-size="7.3" textLength="12.10" lengthAdjust="spacingAndGlyphs" >(ED</text>
<text x="213.70" y="195.50" font-size="5.0" textLength="4.60" lengthAdjust="spacingAndGlyphs" >50</text>
<text x="220.20" y="193.80" font-size="7.3" textLength="32.10" lengthAdjust="spacingAndGlyphs" >= 245 nM)</text>
<circle cx="196.2" cy="204.4" r="2.4" fill="none" stroke="#2d5a8e" stroke-width="1"/>
<text x="201.50" y="207.00" font-size="7.3" textLength="34.70" lengthAdjust="spacingAndGlyphs" >DD-03-007</text>
<text x="201.50" y="216.70" font-size="7.3" textLength="12.10" lengthAdjust="spacingAndGlyphs" >(ED</text>
<text x="213.70" y="218.40" font-size="5.0" textLength="4.60" lengthAdjust="spacingAndGlyphs" >50</text>
<text x="220.20" y="216.70" font-size="7.3" textLength="33.60" lengthAdjust="spacingAndGlyphs" >= 44.3 nM)</text>
<circle cx="196.2" cy="227.3" r="2.4" fill="none" stroke="#5aaa3c" stroke-width="1"/>
<text x="201.50" y="229.90" font-size="7.3" textLength="33.90" lengthAdjust="spacingAndGlyphs" >DD-03-171</text>
<text x="201.50" y="239.60" font-size="7.3" textLength="12.10" lengthAdjust="spacingAndGlyphs" >(ED</text>
<text x="213.70" y="241.30" font-size="5.0" textLength="4.60" lengthAdjust="spacingAndGlyphs" >50</text>
<text x="220.20" y="239.60" font-size="7.3" textLength="31.80" lengthAdjust="spacingAndGlyphs" >= 29.2nM)</text>
<circle cx="196.2" cy="250.2" r="2.4" fill="none" stroke="#cf2d7a" stroke-width="1"/>
<text x="201.50" y="252.80" font-size="7.3" textLength="27.70" lengthAdjust="spacingAndGlyphs" >Ibrutinib</text>
<text x="201.50" y="262.50" font-size="7.3" textLength="12.10" lengthAdjust="spacingAndGlyphs" >(ED</text>
<text x="213.70" y="264.20" font-size="5.0" textLength="4.60" lengthAdjust="spacingAndGlyphs" >50</text>
<text x="220.20" y="262.50" font-size="7.3" textLength="24.10" lengthAdjust="spacingAndGlyphs" >&lt; 1 nM)</text>
<path d="M308.5 178.6 V294.3 H481.0" fill="none" stroke="#1a1a1a" stroke-width="1.1"/>
<line x1="305.5" y1="294.3" x2="308.5" y2="294.3" stroke="#1a1a1a" stroke-width="0.9"/>
<text x="303.80" y="297.00" font-size="7.4" text-anchor="end" textLength="3.90" lengthAdjust="spacingAndGlyphs" >0</text>
<line x1="305.5" y1="275.5" x2="308.5" y2="275.5" stroke="#1a1a1a" stroke-width="0.9"/>
<text x="303.80" y="278.20" font-size="7.4" text-anchor="end" textLength="7.80" lengthAdjust="spacingAndGlyphs" >20</text>
<line x1="305.5" y1="256.7" x2="308.5" y2="256.7" stroke="#1a1a1a" stroke-width="0.9"/>
<text x="303.80" y="259.40" font-size="7.4" text-anchor="end" textLength="7.80" lengthAdjust="spacingAndGlyphs" >40</text>
<line x1="305.5" y1="237.9" x2="308.5" y2="237.9" stroke="#1a1a1a" stroke-width="0.9"/>
<text x="303.80" y="240.60" font-size="7.4" text-anchor="end" textLength="7.80" lengthAdjust="spacingAndGlyphs" >60</text>
<line x1="305.5" y1="219.1" x2="308.5" y2="219.1" stroke="#1a1a1a" stroke-width="0.9"/>
<text x="303.80" y="221.80" font-size="7.4" text-anchor="end" textLength="7.80" lengthAdjust="spacingAndGlyphs" >80</text>
<line x1="305.5" y1="200.3" x2="308.5" y2="200.3" stroke="#1a1a1a" stroke-width="0.9"/>
<text x="303.80" y="203.00" font-size="7.4" text-anchor="end" textLength="11.70" lengthAdjust="spacingAndGlyphs" >100</text>
<line x1="305.5" y1="181.5" x2="308.5" y2="181.5" stroke="#1a1a1a" stroke-width="0.9"/>
<text x="303.80" y="184.20" font-size="7.4" text-anchor="end" textLength="11.70" lengthAdjust="spacingAndGlyphs" >120</text>
<line x1="308.5" y1="294.3" x2="308.5" y2="297.3" stroke="#1a1a1a" stroke-width="0.9"/>
<text x="308.00" y="308.00" font-size="7.4" text-anchor="middle" textLength="11.70" lengthAdjust="spacingAndGlyphs" >-10</text>
<line x1="336.8" y1="294.3" x2="336.8" y2="297.3" stroke="#1a1a1a" stroke-width="0.9"/>
<text x="336.30" y="308.00" font-size="7.4" text-anchor="middle" textLength="7.80" lengthAdjust="spacingAndGlyphs" >-9</text>
<line x1="365.1" y1="294.3" x2="365.1" y2="297.3" stroke="#1a1a1a" stroke-width="0.9"/>
<text x="364.60" y="308.00" font-size="7.4" text-anchor="middle" textLength="7.80" lengthAdjust="spacingAndGlyphs" >-8</text>
<line x1="393.4" y1="294.3" x2="393.4" y2="297.3" stroke="#1a1a1a" stroke-width="0.9"/>
<text x="392.90" y="308.00" font-size="7.4" text-anchor="middle" textLength="7.80" lengthAdjust="spacingAndGlyphs" >-7</text>
<line x1="421.7" y1="294.3" x2="421.7" y2="297.3" stroke="#1a1a1a" stroke-width="0.9"/>
<text x="421.20" y="308.00" font-size="7.4" text-anchor="middle" textLength="7.80" lengthAdjust="spacingAndGlyphs" >-6</text>
<line x1="450.0" y1="294.3" x2="450.0" y2="297.3" stroke="#1a1a1a" stroke-width="0.9"/>
<text x="449.50" y="308.00" font-size="7.4" text-anchor="middle" textLength="7.80" lengthAdjust="spacingAndGlyphs" >-5</text>
<line x1="478.3" y1="294.3" x2="478.3" y2="297.3" stroke="#1a1a1a" stroke-width="0.9"/>
<text x="477.80" y="308.00" font-size="7.4" text-anchor="middle" textLength="7.80" lengthAdjust="spacingAndGlyphs" >-4</text>
<text x="359.00" y="320.90" font-size="8.6" textLength="68.30" lengthAdjust="spacingAndGlyphs" >Log10 (dose) (M)</text>
<text x="282.80" y="237.80" font-size="8.6" text-anchor="middle" textLength="35.00" lengthAdjust="spacingAndGlyphs" transform="rotate(-90 282.80 237.80)" >% control</text>
<text x="393.20" y="175.60" font-size="8.6" text-anchor="middle" textLength="77.50" lengthAdjust="spacingAndGlyphs" >TMD8 + BTK C481S</text>
<path d="M331.14 203.14L332.75 203.14L334.36 203.15L335.98 203.15L337.59 203.16L339.20 203.16L340.81 203.17L342.42 203.18L344.04 203.19L345.65 203.20L347.26 203.22L348.87 203.23L350.48 203.25L352.10 203.28L353.71 203.30L355.32 203.33L356.93 203.37L358.54 203.41L360.16 203.46L361.77 203.52L363.38 203.59L364.99 203.67L366.60 203.76L368.22 203.87L369.83 204.00L371.44 204.15L373.05 204.32L374.66 204.52L376.28 204.75L377.89 205.02L379.50 205.34L381.11 205.71L382.72 206.13L384.34 206.62L385.95 207.19L387.56 207.84L389.17 208.59L390.78 209.45L392.40 210.43L394.01 211.55L395.62 212.81L397.23 214.24L398.85 215.83L400.46 217.61L402.07 219.58L403.68 221.74L405.29 224.09L406.91 226.62L408.52 229.33L410.13 232.19L411.74 235.18L413.35 238.27L414.97 241.42L416.58 244.60L418.19 247.77L419.80 250.88L421.41 253.91L423.03 256.81L424.64 259.57L426.25 262.17L427.86 264.58L429.47 266.80L431.09 268.84L432.70 270.68L434.31 272.33L435.92 273.81L437.53 275.13L439.15 276.29L440.76 277.32L442.37 278.22L443.98 279.00L445.59 279.69L447.21 280.28L448.82 280.79L450.43 281.24L452.04 281.62L453.65 281.96L455.27 282.24L456.88 282.49L458.49 282.70" fill="none" stroke="#8b7fc4" stroke-width="1.1"/>
<path d="M331.14 201.12V205.12M329.84 201.12h2.6M329.84 205.12h2.6" stroke="#8b7fc4" stroke-width="0.8" fill="none"/>
<circle cx="331.14" cy="203.12" r="1.95" fill="none" stroke="#8b7fc4" stroke-width="0.95"/>
<path d="M345.29 201.12V205.12M343.99 201.12h2.6M343.99 205.12h2.6" stroke="#8b7fc4" stroke-width="0.8" fill="none"/>
<circle cx="345.29" cy="203.12" r="1.95" fill="none" stroke="#8b7fc4" stroke-width="0.95"/>
<path d="M359.44 202.06V206.06M358.14 202.06h2.6M358.14 206.06h2.6" stroke="#8b7fc4" stroke-width="0.8" fill="none"/>
<circle cx="359.44" cy="204.06" r="1.95" fill="none" stroke="#8b7fc4" stroke-width="0.95"/>
<path d="M373.59 202.06V206.06M372.29 202.06h2.6M372.29 206.06h2.6" stroke="#8b7fc4" stroke-width="0.8" fill="none"/>
<circle cx="373.59" cy="204.06" r="1.95" fill="none" stroke="#8b7fc4" stroke-width="0.95"/>
<path d="M387.74 217.10V221.10M386.44 217.10h2.6M386.44 221.10h2.6" stroke="#8b7fc4" stroke-width="0.8" fill="none"/>
<circle cx="387.74" cy="219.10" r="1.95" fill="none" stroke="#8b7fc4" stroke-width="0.95"/>
<path d="M401.89 222.74V226.74M400.59 222.74h2.6M400.59 226.74h2.6" stroke="#8b7fc4" stroke-width="0.8" fill="none"/>
<circle cx="401.89" cy="224.74" r="1.95" fill="none" stroke="#8b7fc4" stroke-width="0.95"/>
<path d="M416.04 236.22V242.22M414.74 236.22h2.6M414.74 242.22h2.6" stroke="#8b7fc4" stroke-width="0.8" fill="none"/>
<circle cx="416.04" cy="239.22" r="1.95" fill="none" stroke="#8b7fc4" stroke-width="0.95"/>
<path d="M430.19 270.96V274.96M428.89 270.96h2.6M428.89 274.96h2.6" stroke="#8b7fc4" stroke-width="0.8" fill="none"/>
<circle cx="430.19" cy="272.96" r="1.95" fill="none" stroke="#8b7fc4" stroke-width="0.95"/>
<circle cx="444.34" cy="281.33" r="1.95" fill="none" stroke="#8b7fc4" stroke-width="0.95"/>
<circle cx="458.49" cy="283.77" r="1.95" fill="none" stroke="#8b7fc4" stroke-width="0.95"/>
<path d="M331.14 202.43L332.75 202.47L334.36 202.51L335.98 202.56L337.59 202.61L339.20 202.68L340.81 202.75L342.42 202.83L344.04 202.93L345.65 203.04L347.26 203.17L348.87 203.31L350.48 203.47L352.10 203.66L353.71 203.87L355.32 204.12L356.93 204.40L358.54 204.71L360.16 205.07L361.77 205.48L363.38 205.94L364.99 206.47L366.60 207.06L368.22 207.73L369.83 208.49L371.44 209.33L373.05 210.28L374.66 211.33L376.28 212.50L377.89 213.80L379.50 215.22L381.11 216.79L382.72 218.49L384.34 220.33L385.95 222.32L387.56 224.44L389.17 226.69L390.78 229.05L392.40 231.52L394.01 234.07L395.62 236.68L397.23 239.34L398.85 242.00L400.46 244.66L402.07 247.29L403.68 249.85L405.29 252.34L406.91 254.73L408.52 257.00L410.13 259.15L411.74 261.16L413.35 263.04L414.97 264.77L416.58 266.36L418.19 267.82L419.80 269.14L421.41 270.34L423.03 271.42L424.64 272.39L426.25 273.25L427.86 274.02L429.47 274.71L431.09 275.32L432.70 275.86L434.31 276.34L435.92 276.76L437.53 277.13L439.15 277.45L440.76 277.74L442.37 277.99L443.98 278.21L445.59 278.40L447.21 278.57L448.82 278.72L450.43 278.84L452.04 278.96L453.65 279.06L455.27 279.14L456.88 279.22L458.49 279.28" fill="none" stroke="#2d5a8e" stroke-width="1.1"/>
<path d="M331.14 201.12V205.12M329.84 201.12h2.6M329.84 205.12h2.6" stroke="#2d5a8e" stroke-width="0.8" fill="none"/>
<circle cx="331.14" cy="203.12" r="1.95" fill="none" stroke="#2d5a8e" stroke-width="0.95"/>
<path d="M345.29 201.12V205.12M343.99 201.12h2.6M343.99 205.12h2.6" stroke="#2d5a8e" stroke-width="0.8" fill="none"/>
<circle cx="345.29" cy="203.12" r="1.95" fill="none" stroke="#2d5a8e" stroke-width="0.95"/>
<path d="M359.44 201.06V207.06M358.14 201.06h2.6M358.14 207.06h2.6" stroke="#2d5a8e" stroke-width="0.8" fill="none"/>
<circle cx="359.44" cy="204.06" r="1.95" fill="none" stroke="#2d5a8e" stroke-width="0.95"/>
<circle cx="373.59" cy="205.00" r="1.95" fill="none" stroke="#2d5a8e" stroke-width="0.95"/>
<path d="M387.74 223.68V227.68M386.44 223.68h2.6M386.44 227.68h2.6" stroke="#2d5a8e" stroke-width="0.8" fill="none"/>
<circle cx="387.74" cy="225.68" r="1.95" fill="none" stroke="#2d5a8e" stroke-width="0.95"/>
<path d="M401.89 240.82V246.82M400.59 240.82h2.6M400.59 246.82h2.6" stroke="#2d5a8e" stroke-width="0.8" fill="none"/>
<circle cx="401.89" cy="243.82" r="1.95" fill="none" stroke="#2d5a8e" stroke-width="0.95"/>
<path d="M416.04 260.84V266.84M414.74 260.84h2.6M414.74 266.84h2.6" stroke="#2d5a8e" stroke-width="0.8" fill="none"/>
<circle cx="416.04" cy="263.84" r="1.95" fill="none" stroke="#2d5a8e" stroke-width="0.95"/>
<path d="M430.19 271.62V275.62M428.89 271.62h2.6M428.89 275.62h2.6" stroke="#2d5a8e" stroke-width="0.8" fill="none"/>
<circle cx="430.19" cy="273.62" r="1.95" fill="none" stroke="#2d5a8e" stroke-width="0.95"/>
<path d="M444.34 276.32V280.32M443.04 276.32h2.6M443.04 280.32h2.6" stroke="#2d5a8e" stroke-width="0.8" fill="none"/>
<circle cx="444.34" cy="278.32" r="1.95" fill="none" stroke="#2d5a8e" stroke-width="0.95"/>
<circle cx="458.49" cy="279.26" r="1.95" fill="none" stroke="#2d5a8e" stroke-width="0.95"/>
<path d="M331.14 202.22L332.75 202.22L334.36 202.23L335.98 202.24L337.59 202.26L339.20 202.27L340.81 202.29L342.42 202.32L344.04 202.35L345.65 202.39L347.26 202.43L348.87 202.48L350.48 202.55L352.10 202.63L353.71 202.73L355.32 202.85L356.93 202.99L358.54 203.16L360.16 203.37L361.77 203.63L363.38 203.94L364.99 204.31L366.60 204.76L368.22 205.30L369.83 205.94L371.44 206.72L373.05 207.64L374.66 208.73L376.28 210.02L377.89 211.54L379.50 213.30L381.11 215.33L382.72 217.66L384.34 220.29L385.95 223.24L387.56 226.48L389.17 229.99L390.78 233.75L392.40 237.68L394.01 241.73L395.62 245.82L397.23 249.87L398.85 253.80L400.46 257.56L402.07 261.07L403.68 264.31L405.29 267.26L406.91 269.89L408.52 272.22L410.13 274.25L411.74 276.01L413.35 277.53L414.97 278.82L416.58 279.91L418.19 280.83L419.80 281.61L421.41 282.25L423.03 282.79L424.64 283.24L426.25 283.61L427.86 283.92L429.47 284.18L431.09 284.39L432.70 284.56L434.31 284.70L435.92 284.82L437.53 284.92L439.15 285.00L440.76 285.07L442.37 285.12L443.98 285.16L445.59 285.20L447.21 285.23L448.82 285.26L450.43 285.28L452.04 285.29L453.65 285.31L455.27 285.32L456.88 285.33L458.49 285.33" fill="none" stroke="#5aaa3c" stroke-width="1.1"/>
<circle cx="331.14" cy="203.12" r="1.95" fill="none" stroke="#5aaa3c" stroke-width="0.95"/>
<path d="M345.29 198.71V204.71M343.99 198.71h2.6M343.99 204.71h2.6" stroke="#5aaa3c" stroke-width="0.8" fill="none"/>
<circle cx="345.29" cy="201.71" r="1.95" fill="none" stroke="#5aaa3c" stroke-width="0.95"/>
<circle cx="359.44" cy="204.06" r="1.95" fill="none" stroke="#5aaa3c" stroke-width="0.95"/>
<path d="M373.59 212.34V218.34M372.29 212.34h2.6M372.29 218.34h2.6" stroke="#5aaa3c" stroke-width="0.8" fill="none"/>
<circle cx="373.59" cy="215.34" r="1.95" fill="none" stroke="#5aaa3c" stroke-width="0.95"/>
<circle cx="387.74" cy="224.74" r="1.95" fill="none" stroke="#5aaa3c" stroke-width="0.95"/>
<circle cx="401.89" cy="251.53" r="1.95" fill="none" stroke="#5aaa3c" stroke-width="0.95"/>
<circle cx="416.04" cy="280.20" r="1.95" fill="none" stroke="#5aaa3c" stroke-width="0.95"/>
<circle cx="430.19" cy="283.77" r="1.95" fill="none" stroke="#5aaa3c" stroke-width="0.95"/>
<circle cx="444.34" cy="286.31" r="1.95" fill="none" stroke="#5aaa3c" stroke-width="0.95"/>
<circle cx="458.49" cy="286.31" r="1.95" fill="none" stroke="#5aaa3c" stroke-width="0.95"/>
<path d="M331.14 206.89L332.75 206.89L334.36 206.90L335.98 206.90L337.59 206.90L339.20 206.91L340.81 206.91L342.42 206.92L344.04 206.93L345.65 206.94L347.26 206.95L348.87 206.96L350.48 206.97L352.10 206.99L353.71 207.01L355.32 207.04L356.93 207.07L358.54 207.10L360.16 207.14L361.77 207.19L363.38 207.25L364.99 207.32L366.60 207.40L368.22 207.49L369.83 207.60L371.44 207.74L373.05 207.90L374.66 208.08L376.28 208.30L377.89 208.56L379.50 208.87L381.11 209.22L382.72 209.65L384.34 210.14L385.95 210.72L387.56 211.40L389.17 212.19L390.78 213.10L392.40 214.16L394.01 215.38L395.62 216.78L397.23 218.37L398.85 220.18L400.46 222.21L402.07 224.47L403.68 226.98L405.29 229.73L406.91 232.70L408.52 235.88L410.13 239.24L411.74 242.75L413.35 246.36L414.97 250.02L416.58 253.67L418.19 257.27L419.80 260.77L421.41 264.12L423.03 267.29L424.64 270.25L426.25 272.97L427.86 275.46L429.47 277.71L431.09 279.73L432.70 281.52L434.31 283.10L435.92 284.48L437.53 285.69L439.15 286.74L440.76 287.64L442.37 288.42L443.98 289.09L445.59 289.67L447.21 290.16L448.82 290.57L450.43 290.93L452.04 291.23L453.65 291.49L455.27 291.70L456.88 291.89L458.49 292.04" fill="none" stroke="#cf2d7a" stroke-width="1.1"/>
<path d="M331.14 202.06V206.06M329.84 202.06h2.6M329.84 206.06h2.6" stroke="#cf2d7a" stroke-width="0.8" fill="none"/>
<circle cx="331.14" cy="204.06" r="1.95" fill="none" stroke="#cf2d7a" stroke-width="0.95"/>
<path d="M345.29 203.82V211.82M343.99 203.82h2.6M343.99 211.82h2.6" stroke="#cf2d7a" stroke-width="0.8" fill="none"/>
<circle cx="345.29" cy="207.82" r="1.95" fill="none" stroke="#cf2d7a" stroke-width="0.95"/>
<path d="M359.44 202.88V210.88M358.14 202.88h2.6M358.14 210.88h2.6" stroke="#cf2d7a" stroke-width="0.8" fill="none"/>
<circle cx="359.44" cy="206.88" r="1.95" fill="none" stroke="#cf2d7a" stroke-width="0.95"/>
<circle cx="373.59" cy="206.88" r="1.95" fill="none" stroke="#cf2d7a" stroke-width="0.95"/>
<circle cx="387.74" cy="220.98" r="1.95" fill="none" stroke="#cf2d7a" stroke-width="0.95"/>
<circle cx="401.89" cy="225.68" r="1.95" fill="none" stroke="#cf2d7a" stroke-width="0.95"/>
<path d="M416.04 243.92V249.92M414.74 243.92h2.6M414.74 249.92h2.6" stroke="#cf2d7a" stroke-width="0.8" fill="none"/>
<circle cx="416.04" cy="246.92" r="1.95" fill="none" stroke="#cf2d7a" stroke-width="0.95"/>
<circle cx="430.19" cy="277.66" r="1.95" fill="none" stroke="#cf2d7a" stroke-width="0.95"/>
<circle cx="444.34" cy="289.98" r="1.95" fill="none" stroke="#cf2d7a" stroke-width="0.95"/>
<circle cx="458.49" cy="292.14" r="1.95" fill="none" stroke="#cf2d7a" stroke-width="0.95"/>
<circle cx="452.2" cy="181.5" r="2.4" fill="none" stroke="#8b7fc4" stroke-width="1"/>
<text x="457.50" y="184.10" font-size="7.3" textLength="29.50" lengthAdjust="spacingAndGlyphs" >CGI-1746</text>
<text x="457.50" y="193.80" font-size="7.3" textLength="12.10" lengthAdjust="spacingAndGlyphs" >(ED</text>
<text x="469.70" y="195.50" font-size="5.0" textLength="4.60" lengthAdjust="spacingAndGlyphs" >50</text>
<text x="476.20" y="193.80" font-size="7.3" textLength="31.80" lengthAdjust="spacingAndGlyphs" >= 572 nM)</text>
<circle cx="452.2" cy="204.4" r="2.4" fill="none" stroke="#2d5a8e" stroke-width="1"/>
<text x="457.50" y="207.00" font-size="7.3" textLength="34.70" lengthAdjust="spacingAndGlyphs" >DD-03-007</text>
<text x="457.50" y="216.70" font-size="7.3" textLength="12.10" lengthAdjust="spacingAndGlyphs" >(ED</text>
<text x="469.70" y="218.40" font-size="5.0" textLength="4.60" lengthAdjust="spacingAndGlyphs" >50</text>
<text x="476.20" y="216.70" font-size="7.3" textLength="31.80" lengthAdjust="spacingAndGlyphs" >= 149 nM)</text>
<circle cx="452.2" cy="227.3" r="2.4" fill="none" stroke="#5aaa3c" stroke-width="1"/>
<text x="457.50" y="229.90" font-size="7.3" textLength="33.90" lengthAdjust="spacingAndGlyphs" >DD-03-171</text>
<text x="457.50" y="239.60" font-size="7.3" textLength="12.10" lengthAdjust="spacingAndGlyphs" >(ED</text>
<text x="469.70" y="241.30" font-size="5.0" textLength="4.60" lengthAdjust="spacingAndGlyphs" >50</text>
<text x="476.20" y="239.60" font-size="7.3" textLength="31.80" lengthAdjust="spacingAndGlyphs" >= 128 nM)</text>
<circle cx="452.2" cy="250.2" r="2.4" fill="none" stroke="#cf2d7a" stroke-width="1"/>
<text x="457.50" y="252.80" font-size="7.3" textLength="27.70" lengthAdjust="spacingAndGlyphs" >Ibrutinib</text>
<text x="457.50" y="262.50" font-size="7.3" textLength="12.10" lengthAdjust="spacingAndGlyphs" >(ED</text>
<text x="469.70" y="264.20" font-size="5.0" textLength="4.60" lengthAdjust="spacingAndGlyphs" >50</text>
<text x="476.20" y="262.50" font-size="7.3" textLength="31.80" lengthAdjust="spacingAndGlyphs" >= 578 nM)</text>
<path d="M58.55 377.75L106.25 349.01L201.10 357.83M58.53 386.92L106.22 355.91L201.03 365.42M58.52 396.08L106.19 362.81L200.96 373.01M58.50 405.23L106.16 369.70L200.89 380.59M58.48 414.38L106.13 376.58L200.82 388.16M58.46 423.52L106.10 383.46L200.75 395.73M58.45 432.64L106.07 390.34L200.68 403.29M58.43 441.76L106.04 397.21L200.61 410.84M58.41 450.87L106.01 404.07L200.54 418.39M58.39 459.98L105.98 410.93L200.47 425.93M58.38 469.07L105.95 417.79L200.40 433.47" fill="none" stroke="#c4c4c4" stroke-width="0.5"/>
<polygon points="116.85,396.74 123.58,392.73 123.58,392.73 115.49,398.52" fill="#785a56" stroke="#785a56" stroke-width="0.6" stroke-linejoin="round"/>
<polygon points="123.58,392.73 123.58,392.73 117.64,398.88 112.18,402.83 115.49,398.52" fill="#7b6360" stroke="#7b6360" stroke-width="0.6" stroke-linejoin="round"/>
<polygon points="117.64,398.88 111.77,404.95 109.01,406.97 112.18,402.83" fill="#7f6b68" stroke="#7f6b68" stroke-width="0.6" stroke-linejoin="round"/>
<polygon points="111.77,404.95 105.98,410.93 109.01,406.97" fill="#827371" stroke="#827371" stroke-width="0.6" stroke-linejoin="round"/>
<polygon points="105.98,410.93 105.98,410.93 105.98,410.93" fill="#877d7c" stroke="#877d7c" stroke-width="0.6" stroke-linejoin="round"/>
<polygon points="114.64,399.37 116.85,396.74 115.49,398.52" fill="#785a56" stroke="#785a56" stroke-width="0.6" stroke-linejoin="round"/>
<polygon points="109.18,405.89 114.64,399.37 115.49,398.52 112.18,402.83" fill="#7b6360" stroke="#7b6360" stroke-width="0.6" stroke-linejoin="round"/>
<polygon points="103.78,412.33 109.18,405.89 112.18,402.83 109.01,406.97" fill="#7f6b68" stroke="#7f6b68" stroke-width="0.6" stroke-linejoin="round"/>
<polygon points="98.45,418.69 103.78,412.33 109.01,406.97 105.98,410.93" fill="#827371" stroke="#827371" stroke-width="0.6" stroke-linejoin="round"/>
<polygon points="98.45,418.69 98.45,418.69 105.98,410.93 105.98,410.93" fill="#877d7c" stroke="#877d7c" stroke-width="0.6" stroke-linejoin="round"/>
<polygon points="135.98,383.64 137.99,385.18 133.35,385.57" fill="#85554f" stroke="#85554f" stroke-width="0.6" stroke-linejoin="round"/>
<polygon points="137.99,385.18 141.81,388.09 141.81,388.09 128.33,389.25 133.35,385.57" fill="#8a5149" stroke="#8a5149" stroke-width="0.6" stroke-linejoin="round"/>
<polygon points="141.81,388.09 141.81,388.09 123.58,392.73 128.33,389.25" fill="#916b66" stroke="#916b66" stroke-width="0.6" stroke-linejoin="round"/>
<polygon points="123.58,392.73 123.58,392.73 123.58,392.73" fill="#957773" stroke="#957773" stroke-width="0.6" stroke-linejoin="round"/>
<polygon points="131.35,386.81 135.98,383.64 133.35,385.57" fill="#774e48" stroke="#774e48" stroke-width="0.6" stroke-linejoin="round"/>
<polygon points="122.23,393.05 131.35,386.81 133.35,385.57 128.33,389.25" fill="#7b4a43" stroke="#7b4a43" stroke-width="0.6" stroke-linejoin="round"/>
<polygon points="116.85,396.74 122.23,393.05 128.33,389.25 123.58,392.73" fill="#81615c" stroke="#81615c" stroke-width="0.6" stroke-linejoin="round"/>
<polygon points="123.58,392.73 123.58,392.73 123.58,392.73" fill="#856b67" stroke="#856b67" stroke-width="0.6" stroke-linejoin="round"/>
<polygon points="135.98,383.64 142.31,386.34 137.99,385.18" fill="#a0635b" stroke="#a0635b" stroke-width="0.6" stroke-linejoin="round"/>
<polygon points="142.31,386.34 154.66,391.61 141.81,388.09 141.81,388.09 137.99,385.18" fill="#a65e54" stroke="#a65e54" stroke-width="0.6" stroke-linejoin="round"/>
<polygon points="154.66,391.61 160.67,394.17 141.81,388.09 141.81,388.09" fill="#af7f79" stroke="#af7f79" stroke-width="0.6" stroke-linejoin="round"/>
<polygon points="155.75,394.58 162.93,396.31 158.00,394.39" fill="#ac6156" stroke="#ac6156" stroke-width="0.6" stroke-linejoin="round"/>
<polygon points="162.93,396.31 180.27,400.49 160.67,394.17 158.00,394.39" fill="#b6837d" stroke="#b6837d" stroke-width="0.6" stroke-linejoin="round"/>
<polygon points="180.27,400.49 180.27,400.49 180.27,400.49" fill="#bb938d" stroke="#bb938d" stroke-width="0.6" stroke-linejoin="round"/>
<polygon points="109.36,401.19 116.85,396.74 114.64,399.37 106.92,405.10" fill="#785a56" stroke="#785a56" stroke-width="0.6" stroke-linejoin="round"/>
<polygon points="114.64,399.37 109.18,405.89 103.98,409.81 106.92,405.10" fill="#7b6360" stroke="#7b6360" stroke-width="0.6" stroke-linejoin="round"/>
<polygon points="109.18,405.89 103.78,412.33 101.16,414.34 103.98,409.81" fill="#7f6b68" stroke="#7f6b68" stroke-width="0.6" stroke-linejoin="round"/>
<polygon points="103.78,412.33 98.45,418.69 101.16,414.34" fill="#827371" stroke="#827371" stroke-width="0.6" stroke-linejoin="round"/>
<polygon points="98.45,418.69 98.45,418.69 98.45,418.69" fill="#877d7c" stroke="#877d7c" stroke-width="0.6" stroke-linejoin="round"/>
<polygon points="135.98,383.64 144.87,388.56 142.31,386.34" fill="#ae6b62" stroke="#ae6b62" stroke-width="0.6" stroke-linejoin="round"/>
<polygon points="144.87,388.56 155.75,394.58 158.00,394.39 154.66,391.61 142.31,386.34" fill="#b5655a" stroke="#b5655a" stroke-width="0.6" stroke-linejoin="round"/>
<polygon points="158.00,394.39 160.67,394.17 154.66,391.61" fill="#c08a83" stroke="#c08a83" stroke-width="0.6" stroke-linejoin="round"/>
<polygon points="105.23,406.79 109.36,401.19 106.92,405.10" fill="#785a56" stroke="#785a56" stroke-width="0.6" stroke-linejoin="round"/>
<polygon points="100.12,413.71 105.23,406.79 106.92,405.10 103.98,409.81" fill="#7b6360" stroke="#7b6360" stroke-width="0.6" stroke-linejoin="round"/>
<polygon points="95.08,420.55 100.12,413.71 103.98,409.81 101.16,414.34" fill="#7f6b68" stroke="#7f6b68" stroke-width="0.6" stroke-linejoin="round"/>
<polygon points="90.09,427.31 95.08,420.55 101.16,414.34 98.45,418.69" fill="#827371" stroke="#827371" stroke-width="0.6" stroke-linejoin="round"/>
<polygon points="90.09,427.31 90.09,427.31 98.45,418.69 98.45,418.69" fill="#877d7c" stroke="#877d7c" stroke-width="0.6" stroke-linejoin="round"/>
<polygon points="128.34,388.68 135.98,383.64 131.35,386.81" fill="#774e48" stroke="#774e48" stroke-width="0.6" stroke-linejoin="round"/>
<polygon points="112.58,399.06 128.34,388.68 131.35,386.81 122.23,393.05" fill="#7b4a43" stroke="#7b4a43" stroke-width="0.6" stroke-linejoin="round"/>
<polygon points="109.36,401.19 112.58,399.06 122.23,393.05 116.85,396.74" fill="#81615c" stroke="#81615c" stroke-width="0.6" stroke-linejoin="round"/>
<polygon points="176.32,406.75 177.51,408.07 180.27,400.49 180.27,400.49" fill="#d59890" stroke="#d59890" stroke-width="0.6" stroke-linejoin="round"/>
<polygon points="177.51,408.07 183.39,414.59 185.23,408.62 180.27,400.49 180.27,400.49" fill="#dbaaa4" stroke="#dbaaa4" stroke-width="0.6" stroke-linejoin="round"/>
<polygon points="183.39,414.59 189.16,420.99 190.24,416.83 185.23,408.62" fill="#e3bab5" stroke="#e3bab5" stroke-width="0.6" stroke-linejoin="round"/>
<polygon points="189.16,420.99 194.83,427.29 195.30,425.11 190.24,416.83" fill="#e9cbc6" stroke="#e9cbc6" stroke-width="0.6" stroke-linejoin="round"/>
<polygon points="194.83,427.29 200.40,433.47 195.30,425.11" fill="#f3dfdd" stroke="#f3dfdd" stroke-width="0.6" stroke-linejoin="round"/>
<polygon points="155.75,394.58 162.52,398.58 162.93,396.31" fill="#bc695d" stroke="#bc695d" stroke-width="0.6" stroke-linejoin="round"/>
<polygon points="162.52,398.58 176.32,406.75 180.27,400.49 162.93,396.31" fill="#c78f87" stroke="#c78f87" stroke-width="0.6" stroke-linejoin="round"/>
<polygon points="180.27,400.49 180.27,400.49 180.27,400.49" fill="#cda09a" stroke="#cda09a" stroke-width="0.6" stroke-linejoin="round"/>
<polygon points="144.87,388.56 135.98,383.64 133.85,389.71" fill="#b66f66" stroke="#b66f66" stroke-width="0.6" stroke-linejoin="round"/>
<polygon points="129.34,402.56 155.75,394.58 144.87,388.56 133.85,389.71" fill="#bd695d" stroke="#bd695d" stroke-width="0.6" stroke-linejoin="round"/>
<polygon points="129.34,402.56 129.34,402.56 129.34,402.56" fill="#c89088" stroke="#c89088" stroke-width="0.6" stroke-linejoin="round"/>
<polygon points="133.85,389.71 135.98,383.64 128.34,388.68" fill="#a2655d" stroke="#a2655d" stroke-width="0.6" stroke-linejoin="round"/>
<polygon points="129.34,402.56 129.34,402.56 133.85,389.71 128.34,388.68 112.58,399.06" fill="#a86055" stroke="#a86055" stroke-width="0.6" stroke-linejoin="round"/>
<polygon points="109.36,401.19 129.34,402.56 129.34,402.56 112.58,399.06" fill="#b2817a" stroke="#b2817a" stroke-width="0.6" stroke-linejoin="round"/>
<polygon points="176.32,406.75 177.31,408.46 177.51,408.07" fill="#d69990" stroke="#d69990" stroke-width="0.6" stroke-linejoin="round"/>
<polygon points="177.31,408.46 182.30,417.07 183.39,414.59 177.51,408.07" fill="#dcaba5" stroke="#dcaba5" stroke-width="0.6" stroke-linejoin="round"/>
<polygon points="182.30,417.07 187.33,425.75 189.16,420.99 183.39,414.59" fill="#e3bbb5" stroke="#e3bbb5" stroke-width="0.6" stroke-linejoin="round"/>
<polygon points="187.33,425.75 192.40,434.51 194.83,427.29 189.16,420.99" fill="#eacbc7" stroke="#eacbc7" stroke-width="0.6" stroke-linejoin="round"/>
<polygon points="192.40,434.51 197.53,443.35 200.40,433.47 194.83,427.29" fill="#f4e0de" stroke="#f4e0de" stroke-width="0.6" stroke-linejoin="round"/>
<polygon points="100.96,407.01 103.87,404.99 100.68,407.54" fill="#724640" stroke="#724640" stroke-width="0.6" stroke-linejoin="round"/>
<polygon points="103.87,404.99 109.36,401.19 105.23,406.79 97.87,412.78 100.68,407.54" fill="#785a56" stroke="#785a56" stroke-width="0.6" stroke-linejoin="round"/>
<polygon points="105.23,406.79 100.12,413.71 95.18,417.81 97.87,412.78" fill="#7b6360" stroke="#7b6360" stroke-width="0.6" stroke-linejoin="round"/>
<polygon points="100.12,413.71 95.08,420.55 92.58,422.65 95.18,417.81" fill="#7f6b68" stroke="#7f6b68" stroke-width="0.6" stroke-linejoin="round"/>
<polygon points="95.08,420.55 90.09,427.31 92.58,422.65" fill="#827371" stroke="#827371" stroke-width="0.6" stroke-linejoin="round"/>
<polygon points="90.09,427.31 90.09,427.31 90.09,427.31" fill="#877d7c" stroke="#877d7c" stroke-width="0.6" stroke-linejoin="round"/>
<polygon points="129.34,402.56 129.34,402.56 154.92,398.82 155.75,394.58" fill="#c26c5f" stroke="#c26c5f" stroke-width="0.6" stroke-linejoin="round"/>
<polygon points="129.34,402.56 138.65,411.95 152.77,409.73 154.92,398.82 129.34,402.56" fill="#ce938b" stroke="#ce938b" stroke-width="0.6" stroke-linejoin="round"/>
<polygon points="138.65,411.95 148.14,421.52 150.52,421.12 152.77,409.73" fill="#d4a59f" stroke="#d4a59f" stroke-width="0.6" stroke-linejoin="round"/>
<polygon points="148.14,421.52 150.06,423.45 150.52,421.12" fill="#dbb4af" stroke="#dbb4af" stroke-width="0.6" stroke-linejoin="round"/>
<polygon points="162.52,398.58 155.75,394.58 157.82,399.09" fill="#be695d" stroke="#be695d" stroke-width="0.6" stroke-linejoin="round"/>
<polygon points="175.81,409.30 176.32,406.75 162.52,398.58 157.82,399.09 163.18,410.77" fill="#c99088" stroke="#c99088" stroke-width="0.6" stroke-linejoin="round"/>
<polygon points="173.17,422.54 175.81,409.30 163.18,410.77 168.83,423.09" fill="#cfa19b" stroke="#cfa19b" stroke-width="0.6" stroke-linejoin="round"/>
<polygon points="171.78,429.51 173.17,422.54 168.83,423.09" fill="#d6b0ab" stroke="#d6b0ab" stroke-width="0.6" stroke-linejoin="round"/>
<polygon points="100.51,407.76 100.96,407.01 100.68,407.54" fill="#724640" stroke="#724640" stroke-width="0.6" stroke-linejoin="round"/>
<polygon points="96.04,415.27 100.51,407.76 100.68,407.54 97.87,412.78" fill="#785a56" stroke="#785a56" stroke-width="0.6" stroke-linejoin="round"/>
<polygon points="91.61,422.70 96.04,415.27 97.87,412.78 95.18,417.81" fill="#7b6360" stroke="#7b6360" stroke-width="0.6" stroke-linejoin="round"/>
<polygon points="87.23,430.06 91.61,422.70 95.18,417.81 92.58,422.65" fill="#7f6b68" stroke="#7f6b68" stroke-width="0.6" stroke-linejoin="round"/>
<polygon points="82.89,437.34 87.23,430.06 92.58,422.65 90.09,427.31 90.09,427.31" fill="#827371" stroke="#827371" stroke-width="0.6" stroke-linejoin="round"/>
<polygon points="80.74,440.95 82.89,437.34 90.09,427.31 90.09,427.31" fill="#877d7c" stroke="#877d7c" stroke-width="0.6" stroke-linejoin="round"/>
<polygon points="100.96,407.01 129.34,402.56 129.34,402.56 103.87,404.99" fill="#a35d53" stroke="#a35d53" stroke-width="0.6" stroke-linejoin="round"/>
<polygon points="129.34,402.56 129.34,402.56 109.36,401.19 103.87,404.99" fill="#ad7d77" stroke="#ad7d77" stroke-width="0.6" stroke-linejoin="round"/>
<polygon points="157.82,399.09 155.75,394.58 154.92,398.82" fill="#ae6257" stroke="#ae6257" stroke-width="0.6" stroke-linejoin="round"/>
<polygon points="163.18,410.77 157.82,399.09 154.92,398.82 152.77,409.73" fill="#b8857e" stroke="#b8857e" stroke-width="0.6" stroke-linejoin="round"/>
<polygon points="168.83,423.09 163.18,410.77 152.77,409.73 150.52,421.12" fill="#bd948f" stroke="#bd948f" stroke-width="0.6" stroke-linejoin="round"/>
<polygon points="150.06,423.45 171.78,429.51 168.83,423.09 150.52,421.12" fill="#c4a19d" stroke="#c4a19d" stroke-width="0.6" stroke-linejoin="round"/>
<polygon points="177.31,408.46 176.32,406.75 177.12,408.86" fill="#d69990" stroke="#d69990" stroke-width="0.6" stroke-linejoin="round"/>
<polygon points="182.30,417.07 177.31,408.46 177.12,408.86 181.18,419.62" fill="#dcaba5" stroke="#dcaba5" stroke-width="0.6" stroke-linejoin="round"/>
<polygon points="187.33,425.75 182.30,417.07 181.18,419.62 185.39,430.79" fill="#e3bbb5" stroke="#e3bbb5" stroke-width="0.6" stroke-linejoin="round"/>
<polygon points="192.40,434.51 187.33,425.75 185.39,430.79 189.76,442.39" fill="#eacbc7" stroke="#eacbc7" stroke-width="0.6" stroke-linejoin="round"/>
<polygon points="194.30,454.44 197.53,443.35 192.40,434.51 189.76,442.39" fill="#f4e0de" stroke="#f4e0de" stroke-width="0.6" stroke-linejoin="round"/>
<polygon points="129.34,402.56 129.34,402.56 129.34,402.56" fill="#c86e61" stroke="#c86e61" stroke-width="0.6" stroke-linejoin="round"/>
<polygon points="121.92,419.54 121.92,419.54 138.65,411.95 129.34,402.56" fill="#d3978f" stroke="#d3978f" stroke-width="0.6" stroke-linejoin="round"/>
<polygon points="121.92,419.54 145.52,422.82 148.14,421.52 138.65,411.95 121.92,419.54" fill="#daa9a3" stroke="#daa9a3" stroke-width="0.6" stroke-linejoin="round"/>
<polygon points="145.52,422.82 150.06,423.45 148.14,421.52" fill="#e1b9b4" stroke="#e1b9b4" stroke-width="0.6" stroke-linejoin="round"/>
<polygon points="177.12,408.86 176.32,406.75 175.81,409.30" fill="#d4978f" stroke="#d4978f" stroke-width="0.6" stroke-linejoin="round"/>
<polygon points="181.18,419.62 177.12,408.86 175.81,409.30 173.17,422.54" fill="#daaaa3" stroke="#daaaa3" stroke-width="0.6" stroke-linejoin="round"/>
<polygon points="171.78,429.51 176.21,434.41 185.39,430.79 181.18,419.62 173.17,422.54" fill="#e1b9b4" stroke="#e1b9b4" stroke-width="0.6" stroke-linejoin="round"/>
<polygon points="176.21,434.41 185.18,444.34 189.76,442.39 185.39,430.79" fill="#e8cac5" stroke="#e8cac5" stroke-width="0.6" stroke-linejoin="round"/>
<polygon points="185.18,444.34 194.30,454.44 189.76,442.39" fill="#f2dedc" stroke="#f2dedc" stroke-width="0.6" stroke-linejoin="round"/>
<polygon points="100.96,407.01 102.83,408.12 129.34,402.56 129.34,402.56" fill="#be6a5e" stroke="#be6a5e" stroke-width="0.6" stroke-linejoin="round"/>
<polygon points="102.83,408.12 121.92,419.54 129.34,402.56 129.34,402.56" fill="#c99089" stroke="#c99089" stroke-width="0.6" stroke-linejoin="round"/>
<polygon points="121.92,419.54 121.92,419.54 121.92,419.54" fill="#cfa29c" stroke="#cfa29c" stroke-width="0.6" stroke-linejoin="round"/>
<polygon points="91.51,412.68 100.96,407.01 100.51,407.76 90.34,415.73" fill="#724640" stroke="#724640" stroke-width="0.6" stroke-linejoin="round"/>
<polygon points="100.51,407.76 96.04,415.27 88.08,421.68 90.34,415.73" fill="#785a56" stroke="#785a56" stroke-width="0.6" stroke-linejoin="round"/>
<polygon points="96.04,415.27 91.61,422.70 85.89,427.42 88.08,421.68" fill="#7b6360" stroke="#7b6360" stroke-width="0.6" stroke-linejoin="round"/>
<polygon points="91.61,422.70 87.23,430.06 83.78,432.97 85.89,427.42" fill="#7f6b68" stroke="#7f6b68" stroke-width="0.6" stroke-linejoin="round"/>
<polygon points="87.23,430.06 82.89,437.34 81.74,438.33 83.78,432.97" fill="#827371" stroke="#827371" stroke-width="0.6" stroke-linejoin="round"/>
<polygon points="82.89,437.34 80.74,440.95 81.74,438.33" fill="#877d7c" stroke="#877d7c" stroke-width="0.6" stroke-linejoin="round"/>
<polygon points="121.92,419.54 121.92,419.54 121.92,419.54" fill="#d4978f" stroke="#d4978f" stroke-width="0.6" stroke-linejoin="round"/>
<polygon points="121.92,419.54 127.27,428.90 145.52,422.82" fill="#daaaa3" stroke="#daaaa3" stroke-width="0.6" stroke-linejoin="round"/>
<polygon points="127.27,428.90 132.68,438.36 148.31,432.80 150.06,423.45 145.52,422.82" fill="#e2b9b4" stroke="#e2b9b4" stroke-width="0.6" stroke-linejoin="round"/>
<polygon points="132.68,438.36 138.15,447.92 146.04,444.92 148.31,432.80" fill="#e8cac5" stroke="#e8cac5" stroke-width="0.6" stroke-linejoin="round"/>
<polygon points="138.15,447.92 143.67,457.57 146.04,444.92" fill="#f2dedc" stroke="#f2dedc" stroke-width="0.6" stroke-linejoin="round"/>
<polygon points="170.66,436.02 171.78,429.51 150.06,423.45 155.07,434.36" fill="#c5a39e" stroke="#c5a39e" stroke-width="0.6" stroke-linejoin="round"/>
<polygon points="168.34,449.58 170.66,436.02 155.07,434.36 161.71,448.82" fill="#cbb1ad" stroke="#cbb1ad" stroke-width="0.6" stroke-linejoin="round"/>
<polygon points="166.63,459.53 168.34,449.58 161.71,448.82" fill="#d3c2c1" stroke="#d3c2c1" stroke-width="0.6" stroke-linejoin="round"/>
<polygon points="89.53,416.74 91.51,412.68 90.34,415.73" fill="#724640" stroke="#724640" stroke-width="0.6" stroke-linejoin="round"/>
<polygon points="85.60,424.79 89.53,416.74 90.34,415.73 88.08,421.68" fill="#785a56" stroke="#785a56" stroke-width="0.6" stroke-linejoin="round"/>
<polygon points="81.71,432.77 85.60,424.79 88.08,421.68 85.89,427.42" fill="#7b6360" stroke="#7b6360" stroke-width="0.6" stroke-linejoin="round"/>
<polygon points="77.85,440.68 81.71,432.77 85.89,427.42 83.78,432.97" fill="#7f6b68" stroke="#7f6b68" stroke-width="0.6" stroke-linejoin="round"/>
<polygon points="74.03,448.51 77.85,440.68 83.78,432.97 81.74,438.33" fill="#827371" stroke="#827371" stroke-width="0.6" stroke-linejoin="round"/>
<polygon points="70.24,456.28 74.03,448.51 81.74,438.33 80.74,440.95" fill="#877d7c" stroke="#877d7c" stroke-width="0.6" stroke-linejoin="round"/>
<polygon points="91.51,412.68 101.92,415.03 102.83,408.12 100.96,407.01" fill="#b9675c" stroke="#b9675c" stroke-width="0.6" stroke-linejoin="round"/>
<polygon points="101.92,415.03 121.92,419.54 102.83,408.12" fill="#c48d85" stroke="#c48d85" stroke-width="0.6" stroke-linejoin="round"/>
<polygon points="121.92,419.54 121.92,419.54 121.92,419.54" fill="#ca9e98" stroke="#ca9e98" stroke-width="0.6" stroke-linejoin="round"/>
<polygon points="155.07,434.36 150.06,423.45 148.31,432.80" fill="#b89894" stroke="#b89894" stroke-width="0.6" stroke-linejoin="round"/>
<polygon points="161.71,448.82 155.07,434.36 148.31,432.80 146.04,444.92" fill="#bda5a2" stroke="#bda5a2" stroke-width="0.6" stroke-linejoin="round"/>
<polygon points="143.67,457.57 166.63,459.53 161.71,448.82 146.04,444.92" fill="#c5b5b3" stroke="#c5b5b3" stroke-width="0.6" stroke-linejoin="round"/>
<polygon points="176.21,434.41 171.78,429.51 175.31,436.51" fill="#e1b8b3" stroke="#e1b8b3" stroke-width="0.6" stroke-linejoin="round"/>
<polygon points="185.18,444.34 176.21,434.41 175.31,436.51 182.72,451.23" fill="#e7c9c4" stroke="#e7c9c4" stroke-width="0.6" stroke-linejoin="round"/>
<polygon points="190.65,466.98 194.30,454.44 185.18,444.34 182.72,451.23" fill="#f1dddb" stroke="#f1dddb" stroke-width="0.6" stroke-linejoin="round"/>
<polygon points="175.31,436.51 171.78,429.51 170.66,436.02" fill="#c5a39e" stroke="#c5a39e" stroke-width="0.6" stroke-linejoin="round"/>
<polygon points="182.72,451.23 175.31,436.51 170.66,436.02 168.34,449.58" fill="#cbb1ad" stroke="#cbb1ad" stroke-width="0.6" stroke-linejoin="round"/>
<polygon points="166.63,459.53 190.65,466.98 182.72,451.23 168.34,449.58" fill="#d3c2c1" stroke="#d3c2c1" stroke-width="0.6" stroke-linejoin="round"/>
<polygon points="91.51,412.68 94.78,417.62 101.92,415.03" fill="#ca6f62" stroke="#ca6f62" stroke-width="0.6" stroke-linejoin="round"/>
<polygon points="94.78,417.62 101.39,427.59 121.92,419.54 121.92,419.54 101.92,415.03" fill="#d69991" stroke="#d69991" stroke-width="0.6" stroke-linejoin="round"/>
<polygon points="101.39,427.59 108.09,437.70 117.38,433.77 121.92,419.54 121.92,419.54" fill="#ddaba5" stroke="#ddaba5" stroke-width="0.6" stroke-linejoin="round"/>
<polygon points="108.09,437.70 113.52,445.88 117.38,433.77" fill="#e4bbb6" stroke="#e4bbb6" stroke-width="0.6" stroke-linejoin="round"/>
<polygon points="121.92,419.54 121.92,419.54 121.92,419.54" fill="#d69990" stroke="#d69990" stroke-width="0.6" stroke-linejoin="round"/>
<polygon points="127.27,428.90 121.92,419.54 125.36,431.49" fill="#dcaba5" stroke="#dcaba5" stroke-width="0.6" stroke-linejoin="round"/>
<polygon points="132.68,438.36 127.27,428.90 125.36,431.49 128.95,443.96" fill="#e3bbb5" stroke="#e3bbb5" stroke-width="0.6" stroke-linejoin="round"/>
<polygon points="138.15,447.92 132.68,438.36 128.95,443.96 132.69,456.96" fill="#eacbc7" stroke="#eacbc7" stroke-width="0.6" stroke-linejoin="round"/>
<polygon points="136.59,470.54 143.67,457.57 138.15,447.92 132.69,456.96" fill="#f4e0de" stroke="#f4e0de" stroke-width="0.6" stroke-linejoin="round"/>
<polygon points="88.60,417.63 91.51,412.68 89.53,416.74" fill="#724640" stroke="#724640" stroke-width="0.6" stroke-linejoin="round"/>
<polygon points="82.72,427.63 88.60,417.63 89.53,416.74 85.60,424.79" fill="#785a56" stroke="#785a56" stroke-width="0.6" stroke-linejoin="round"/>
<polygon points="76.76,437.78 82.72,427.63 85.60,424.79 81.71,432.77" fill="#7b6360" stroke="#7b6360" stroke-width="0.6" stroke-linejoin="round"/>
<polygon points="70.72,448.06 76.76,437.78 81.71,432.77 77.85,440.68" fill="#7f6b68" stroke="#7f6b68" stroke-width="0.6" stroke-linejoin="round"/>
<polygon points="64.59,458.49 70.72,448.06 77.85,440.68 74.03,448.51" fill="#827371" stroke="#827371" stroke-width="0.6" stroke-linejoin="round"/>
<polygon points="58.38,469.07 64.59,458.49 74.03,448.51 70.24,456.28" fill="#877d7c" stroke="#877d7c" stroke-width="0.6" stroke-linejoin="round"/>
<polygon points="121.92,419.54 121.92,419.54 121.92,419.54" fill="#d2968e" stroke="#d2968e" stroke-width="0.6" stroke-linejoin="round"/>
<polygon points="125.36,431.49 121.92,419.54 117.38,433.77" fill="#d8a8a2" stroke="#d8a8a2" stroke-width="0.6" stroke-linejoin="round"/>
<polygon points="113.52,445.88 115.57,448.08 128.95,443.96 125.36,431.49 117.38,433.77" fill="#dfb7b2" stroke="#dfb7b2" stroke-width="0.6" stroke-linejoin="round"/>
<polygon points="115.57,448.08 125.97,459.19 132.69,456.96 128.95,443.96" fill="#e6c8c3" stroke="#e6c8c3" stroke-width="0.6" stroke-linejoin="round"/>
<polygon points="125.97,459.19 136.59,470.54 132.69,456.96" fill="#efdcda" stroke="#efdcda" stroke-width="0.6" stroke-linejoin="round"/>
<polygon points="161.08,453.24 162.20,454.51 157.96,454.02" fill="#a38884" stroke="#a38884" stroke-width="0.6" stroke-linejoin="round"/>
<polygon points="162.20,454.51 164.86,457.53 150.54,455.86 157.96,454.02" fill="#a89390" stroke="#a89390" stroke-width="0.6" stroke-linejoin="round"/>
<polygon points="164.86,457.53 166.63,459.53 143.67,457.57 150.54,455.86" fill="#aea1a0" stroke="#aea1a0" stroke-width="0.6" stroke-linejoin="round"/>
<polygon points="156.91,456.19 161.08,453.24 157.96,454.02" fill="#85706d" stroke="#85706d" stroke-width="0.6" stroke-linejoin="round"/>
<polygon points="146.64,463.44 156.91,456.19 157.96,454.02 150.54,455.86" fill="#887976" stroke="#887976" stroke-width="0.6" stroke-linejoin="round"/>
<polygon points="136.59,470.54 146.64,463.44 150.54,455.86 143.67,457.57" fill="#8e8382" stroke="#8e8382" stroke-width="0.6" stroke-linejoin="round"/>
<polygon points="90.57,417.96 91.51,412.68 88.60,417.63" fill="#9f5b51" stroke="#9f5b51" stroke-width="0.6" stroke-linejoin="round"/>
<polygon points="88.66,428.71 90.57,417.96 88.60,417.63 82.72,427.63" fill="#a87a74" stroke="#a87a74" stroke-width="0.6" stroke-linejoin="round"/>
<polygon points="86.72,439.70 88.66,428.71 82.72,427.63 76.76,437.78" fill="#ad8883" stroke="#ad8883" stroke-width="0.6" stroke-linejoin="round"/>
<polygon points="84.72,450.94 86.72,439.70 76.76,437.78 70.72,448.06" fill="#b29490" stroke="#b29490" stroke-width="0.6" stroke-linejoin="round"/>
<polygon points="82.68,462.45 84.72,450.94 70.72,448.06 64.59,458.49" fill="#b7a09d" stroke="#b7a09d" stroke-width="0.6" stroke-linejoin="round"/>
<polygon points="58.38,469.07 80.59,474.23 82.68,462.45 64.59,458.49" fill="#bfafae" stroke="#bfafae" stroke-width="0.6" stroke-linejoin="round"/>
<polygon points="161.08,453.24 166.19,455.61 162.20,454.51" fill="#af918d" stroke="#af918d" stroke-width="0.6" stroke-linejoin="round"/>
<polygon points="166.19,455.61 178.64,461.40 164.86,457.53 162.20,454.51" fill="#b49d9a" stroke="#b49d9a" stroke-width="0.6" stroke-linejoin="round"/>
<polygon points="178.64,461.40 190.65,466.98 166.63,459.53 164.86,457.53" fill="#bbacab" stroke="#bbacab" stroke-width="0.6" stroke-linejoin="round"/>
<polygon points="94.78,417.62 91.51,412.68 92.55,418.30" fill="#c96f62" stroke="#c96f62" stroke-width="0.6" stroke-linejoin="round"/>
<polygon points="101.39,427.59 94.78,417.62 92.55,418.30 94.69,429.80" fill="#d59890" stroke="#d59890" stroke-width="0.6" stroke-linejoin="round"/>
<polygon points="108.09,437.70 101.39,427.59 94.69,429.80 96.89,441.66" fill="#dbaaa4" stroke="#dbaaa4" stroke-width="0.6" stroke-linejoin="round"/>
<polygon points="112.70,448.77 113.52,445.88 108.09,437.70 96.89,441.66 99.16,453.92" fill="#e3bab5" stroke="#e3bab5" stroke-width="0.6" stroke-linejoin="round"/>
<polygon points="108.45,463.75 112.70,448.77 99.16,453.92 101.51,466.57" fill="#e9cbc6" stroke="#e9cbc6" stroke-width="0.6" stroke-linejoin="round"/>
<polygon points="103.94,479.65 108.45,463.75 101.51,466.57" fill="#f3dfdd" stroke="#f3dfdd" stroke-width="0.6" stroke-linejoin="round"/>
<polygon points="92.55,418.30 91.51,412.68 90.57,417.96" fill="#9f5b51" stroke="#9f5b51" stroke-width="0.6" stroke-linejoin="round"/>
<polygon points="94.69,429.80 92.55,418.30 90.57,417.96 88.66,428.71" fill="#a87a74" stroke="#a87a74" stroke-width="0.6" stroke-linejoin="round"/>
<polygon points="96.89,441.66 94.69,429.80 88.66,428.71 86.72,439.70" fill="#ad8883" stroke="#ad8883" stroke-width="0.6" stroke-linejoin="round"/>
<polygon points="99.16,453.92 96.89,441.66 86.72,439.70 84.72,450.94" fill="#b29490" stroke="#b29490" stroke-width="0.6" stroke-linejoin="round"/>
<polygon points="101.51,466.57 99.16,453.92 84.72,450.94 82.68,462.45" fill="#b7a09d" stroke="#b7a09d" stroke-width="0.6" stroke-linejoin="round"/>
<polygon points="80.59,474.23 103.94,479.65 101.51,466.57 82.68,462.45" fill="#bfafae" stroke="#bfafae" stroke-width="0.6" stroke-linejoin="round"/>
<polygon points="115.57,448.08 113.52,445.88 114.77,449.18" fill="#dfb7b2" stroke="#dfb7b2" stroke-width="0.6" stroke-linejoin="round"/>
<polygon points="125.97,459.19 115.57,448.08 114.77,449.18 121.35,466.51" fill="#e5c7c3" stroke="#e5c7c3" stroke-width="0.6" stroke-linejoin="round"/>
<polygon points="128.51,485.35 136.59,470.54 125.97,459.19 121.35,466.51" fill="#efdbd9" stroke="#efdbd9" stroke-width="0.6" stroke-linejoin="round"/>
<polygon points="161.08,453.24 165.23,457.82 166.19,455.61" fill="#e0b8b3" stroke="#e0b8b3" stroke-width="0.6" stroke-linejoin="round"/>
<polygon points="165.23,457.82 175.76,469.43 178.64,461.40 166.19,455.61" fill="#e6c8c4" stroke="#e6c8c4" stroke-width="0.6" stroke-linejoin="round"/>
<polygon points="175.76,469.43 186.50,481.27 190.65,466.98 178.64,461.40" fill="#f0dcdb" stroke="#f0dcdb" stroke-width="0.6" stroke-linejoin="round"/>
<polygon points="114.77,449.18 113.52,445.88 112.70,448.77" fill="#c09e9a" stroke="#c09e9a" stroke-width="0.6" stroke-linejoin="round"/>
<polygon points="121.35,466.51 114.77,449.18 112.70,448.77 108.45,463.75" fill="#c5aca8" stroke="#c5aca8" stroke-width="0.6" stroke-linejoin="round"/>
<polygon points="103.94,479.65 128.51,485.35 121.35,466.51 108.45,463.75" fill="#cdbdbb" stroke="#cdbdbb" stroke-width="0.6" stroke-linejoin="round"/>
<polygon points="155.85,458.40 161.08,453.24 156.91,456.19" fill="#85706d" stroke="#85706d" stroke-width="0.6" stroke-linejoin="round"/>
<polygon points="142.42,471.64 155.85,458.40 156.91,456.19 146.64,463.44" fill="#887976" stroke="#887976" stroke-width="0.6" stroke-linejoin="round"/>
<polygon points="128.51,485.35 142.42,471.64 146.64,463.44 136.59,470.54" fill="#8e8382" stroke="#8e8382" stroke-width="0.6" stroke-linejoin="round"/>
<polygon points="160.03,459.24 161.08,453.24 155.85,458.40" fill="#bf9e99" stroke="#bf9e99" stroke-width="0.6" stroke-linejoin="round"/>
<polygon points="157.30,474.83 160.03,459.24 155.85,458.40 142.42,471.64" fill="#c4aba8" stroke="#c4aba8" stroke-width="0.6" stroke-linejoin="round"/>
<polygon points="128.51,485.35 154.40,491.36 157.30,474.83 142.42,471.64" fill="#cdbcba" stroke="#cdbcba" stroke-width="0.6" stroke-linejoin="round"/>
<polygon points="165.23,457.82 161.08,453.24 164.25,460.07" fill="#e0b8b3" stroke="#e0b8b3" stroke-width="0.6" stroke-linejoin="round"/>
<polygon points="175.76,469.43 165.23,457.82 164.25,460.07 172.63,478.13" fill="#e6c8c4" stroke="#e6c8c4" stroke-width="0.6" stroke-linejoin="round"/>
<polygon points="181.71,497.70 186.50,481.27 175.76,469.43 172.63,478.13" fill="#f0dcdb" stroke="#f0dcdb" stroke-width="0.6" stroke-linejoin="round"/>
<polygon points="164.25,460.07 161.08,453.24 160.03,459.24" fill="#bf9e99" stroke="#bf9e99" stroke-width="0.6" stroke-linejoin="round"/>
<polygon points="172.63,478.13 164.25,460.07 160.03,459.24 157.30,474.83" fill="#c4aba8" stroke="#c4aba8" stroke-width="0.6" stroke-linejoin="round"/>
<polygon points="154.40,491.36 181.71,497.70 172.63,478.13 157.30,474.83" fill="#cdbcba" stroke="#cdbcba" stroke-width="0.6" stroke-linejoin="round"/>
<path d="M58.55 377.75L182.58 393.88L201.10 357.83" fill="none" stroke="#bdbdbd" stroke-width="0.5"/>
<path d="M58.50 374.30L58.50 469.60L179.30 498.60L201.40 431.80" fill="none" stroke="#1a1a1a" stroke-width="1.0"/>
<line x1="55.50" y1="376.80" x2="58.50" y2="376.80" stroke="#1a1a1a" stroke-width="0.9"/>
<text x="51.90" y="379.40" font-size="7.3" text-anchor="end" textLength="10.60" lengthAdjust="spacingAndGlyphs" >0.0</text>
<line x1="55.50" y1="386.08" x2="58.50" y2="386.08" stroke="#1a1a1a" stroke-width="0.9"/>
<text x="51.90" y="388.68" font-size="7.3" text-anchor="end" textLength="10.60" lengthAdjust="spacingAndGlyphs" >0.1</text>
<line x1="55.50" y1="395.36" x2="58.50" y2="395.36" stroke="#1a1a1a" stroke-width="0.9"/>
<text x="51.90" y="397.96" font-size="7.3" text-anchor="end" textLength="10.60" lengthAdjust="spacingAndGlyphs" >0.2</text>
<line x1="55.50" y1="404.64" x2="58.50" y2="404.64" stroke="#1a1a1a" stroke-width="0.9"/>
<text x="51.90" y="407.24" font-size="7.3" text-anchor="end" textLength="10.60" lengthAdjust="spacingAndGlyphs" >0.3</text>
<line x1="55.50" y1="413.92" x2="58.50" y2="413.92" stroke="#1a1a1a" stroke-width="0.9"/>
<text x="51.90" y="416.52" font-size="7.3" text-anchor="end" textLength="10.60" lengthAdjust="spacingAndGlyphs" >0.4</text>
<line x1="55.50" y1="423.20" x2="58.50" y2="423.20" stroke="#1a1a1a" stroke-width="0.9"/>
<text x="51.90" y="425.80" font-size="7.3" text-anchor="end" textLength="10.60" lengthAdjust="spacingAndGlyphs" >0.5</text>
<line x1="55.50" y1="432.48" x2="58.50" y2="432.48" stroke="#1a1a1a" stroke-width="0.9"/>
<text x="51.90" y="435.08" font-size="7.3" text-anchor="end" textLength="10.60" lengthAdjust="spacingAndGlyphs" >0.6</text>
<line x1="55.50" y1="441.76" x2="58.50" y2="441.76" stroke="#1a1a1a" stroke-width="0.9"/>
<text x="51.90" y="444.36" font-size="7.3" text-anchor="end" textLength="10.60" lengthAdjust="spacingAndGlyphs" >0.7</text>
<line x1="55.50" y1="451.04" x2="58.50" y2="451.04" stroke="#1a1a1a" stroke-width="0.9"/>
<text x="51.90" y="453.64" font-size="7.3" text-anchor="end" textLength="10.60" lengthAdjust="spacingAndGlyphs" >0.8</text>
<line x1="55.50" y1="460.32" x2="58.50" y2="460.32" stroke="#1a1a1a" stroke-width="0.9"/>
<text x="51.90" y="462.92" font-size="7.3" text-anchor="end" textLength="10.60" lengthAdjust="spacingAndGlyphs" >0.9</text>
<line x1="55.50" y1="469.60" x2="58.50" y2="469.60" stroke="#1a1a1a" stroke-width="0.9"/>
<text x="51.90" y="472.20" font-size="7.3" text-anchor="end" textLength="10.60" lengthAdjust="spacingAndGlyphs" >1.0</text>
<text x="33.10" y="425.80" font-size="8.6" text-anchor="middle" textLength="7.80" lengthAdjust="spacingAndGlyphs" >CI</text>
<line x1="58.50" y1="469.60" x2="58.00" y2="472.40" stroke="#1a1a1a" stroke-width="0.9"/>
<text x="54.00" y="483.00" font-size="7.8" text-anchor="middle" textLength="13.50" lengthAdjust="spacingAndGlyphs" >0.25</text>
<line x1="82.66" y1="475.40" x2="82.16" y2="478.20" stroke="#1a1a1a" stroke-width="0.9"/>
<text x="81.80" y="488.40" font-size="7.8" text-anchor="middle" textLength="13.50" lengthAdjust="spacingAndGlyphs" >0.79</text>
<line x1="106.82" y1="481.20" x2="106.32" y2="484.00" stroke="#1a1a1a" stroke-width="0.9"/>
<text x="105.20" y="494.60" font-size="7.8" text-anchor="middle" textLength="17.50" lengthAdjust="spacingAndGlyphs" >0.025</text>
<line x1="130.98" y1="487.00" x2="130.48" y2="489.80" stroke="#1a1a1a" stroke-width="0.9"/>
<text x="130.20" y="500.00" font-size="7.8" text-anchor="middle" textLength="17.50" lengthAdjust="spacingAndGlyphs" >0.008</text>
<line x1="155.14" y1="492.80" x2="154.64" y2="495.60" stroke="#1a1a1a" stroke-width="0.9"/>
<text x="155.00" y="505.90" font-size="7.8" text-anchor="middle" textLength="17.50" lengthAdjust="spacingAndGlyphs" >0.003</text>
<line x1="179.30" y1="498.60" x2="178.80" y2="501.40" stroke="#1a1a1a" stroke-width="0.9"/>
<text x="178.70" y="511.80" font-size="7.8" text-anchor="middle" textLength="4.00" lengthAdjust="spacingAndGlyphs" >0</text>
<line x1="179.30" y1="498.60" x2="182.30" y2="498.60" stroke="#1a1a1a" stroke-width="0.9"/>
<text x="186.00" y="502.40" font-size="7.8" textLength="4.00" lengthAdjust="spacingAndGlyphs" >0</text>
<line x1="183.72" y1="485.24" x2="186.72" y2="485.24" stroke="#1a1a1a" stroke-width="0.9"/>
<text x="189.80" y="489.00" font-size="7.8" textLength="13.50" lengthAdjust="spacingAndGlyphs" >0.02</text>
<line x1="188.14" y1="471.88" x2="191.14" y2="471.88" stroke="#1a1a1a" stroke-width="0.9"/>
<text x="193.70" y="475.80" font-size="7.8" textLength="17.50" lengthAdjust="spacingAndGlyphs" >0.063</text>
<line x1="192.56" y1="458.52" x2="195.56" y2="458.52" stroke="#1a1a1a" stroke-width="0.9"/>
<text x="198.50" y="463.60" font-size="7.8" textLength="9.50" lengthAdjust="spacingAndGlyphs" >0.2</text>
<line x1="196.98" y1="445.16" x2="199.98" y2="445.16" stroke="#1a1a1a" stroke-width="0.9"/>
<text x="202.30" y="450.10" font-size="7.8" textLength="17.50" lengthAdjust="spacingAndGlyphs" >0.632</text>
<line x1="201.40" y1="431.80" x2="204.40" y2="431.80" stroke="#1a1a1a" stroke-width="0.9"/>
<text x="208.00" y="436.60" font-size="7.8" textLength="4.00" lengthAdjust="spacingAndGlyphs" >2</text>
<text x="101.20" y="513.10" font-size="8.8" text-anchor="middle" textLength="62.30" lengthAdjust="spacingAndGlyphs" >[A419259] (µM)</text>
<text x="239.85" y="469.40" font-size="8.8" text-anchor="middle" textLength="41.70" lengthAdjust="spacingAndGlyphs" >[CGI-1746]</text>
<text x="240.30" y="481.00" font-size="8.8" text-anchor="middle" textLength="19.00" lengthAdjust="spacingAndGlyphs" >(µM)</text>
<path d="M298.95 373.95L346.65 345.21L441.50 354.03M298.93 383.12L346.62 352.11L441.43 361.62M298.92 392.28L346.59 359.01L441.36 369.21M298.90 401.43L346.56 365.90L441.29 376.79M298.88 410.58L346.53 372.78L441.22 384.36M298.86 419.72L346.50 379.66L441.15 391.93M298.85 428.84L346.47 386.54L441.08 399.49M298.83 437.96L346.44 393.41L441.01 407.04M298.81 447.07L346.41 400.27L440.94 414.59M298.79 456.18L346.38 407.13L440.87 422.13M298.78 465.27L346.35 413.99L440.80 429.67" fill="none" stroke="#c4c4c4" stroke-width="0.5"/>
<polygon points="357.27,388.51 357.27,388.51 357.27,388.51" fill="#724640" stroke="#724640" stroke-width="0.6" stroke-linejoin="round"/>
<polygon points="357.27,388.51 363.98,388.93 363.98,388.93 354.40,393.42" fill="#785a56" stroke="#785a56" stroke-width="0.6" stroke-linejoin="round"/>
<polygon points="363.98,388.93 363.98,388.93 358.04,395.08 351.63,398.16 354.40,393.42" fill="#7b6360" stroke="#7b6360" stroke-width="0.6" stroke-linejoin="round"/>
<polygon points="358.04,395.08 352.17,401.15 348.96,402.72 351.63,398.16" fill="#7f6b68" stroke="#7f6b68" stroke-width="0.6" stroke-linejoin="round"/>
<polygon points="352.17,401.15 346.38,407.13 348.96,402.72" fill="#827371" stroke="#827371" stroke-width="0.6" stroke-linejoin="round"/>
<polygon points="346.38,407.13 346.38,407.13 346.38,407.13" fill="#877d7c" stroke="#877d7c" stroke-width="0.6" stroke-linejoin="round"/>
<polygon points="357.27,388.51 357.27,388.51 357.27,388.51" fill="#724640" stroke="#724640" stroke-width="0.6" stroke-linejoin="round"/>
<polygon points="352.59,395.21 357.27,388.51 354.40,393.42" fill="#785a56" stroke="#785a56" stroke-width="0.6" stroke-linejoin="round"/>
<polygon points="347.96,401.84 352.59,395.21 354.40,393.42 351.63,398.16" fill="#7b6360" stroke="#7b6360" stroke-width="0.6" stroke-linejoin="round"/>
<polygon points="343.38,408.40 347.96,401.84 351.63,398.16 348.96,402.72" fill="#7f6b68" stroke="#7f6b68" stroke-width="0.6" stroke-linejoin="round"/>
<polygon points="338.85,414.89 343.38,408.40 348.96,402.72 346.38,407.13" fill="#827371" stroke="#827371" stroke-width="0.6" stroke-linejoin="round"/>
<polygon points="338.85,414.89 338.85,414.89 346.38,407.13 346.38,407.13" fill="#877d7c" stroke="#877d7c" stroke-width="0.6" stroke-linejoin="round"/>
<polygon points="376.36,383.60 376.36,383.60 376.36,383.60" fill="#8e5a53" stroke="#8e5a53" stroke-width="0.6" stroke-linejoin="round"/>
<polygon points="376.36,383.60 380.31,386.49 369.95,386.37" fill="#93564d" stroke="#93564d" stroke-width="0.6" stroke-linejoin="round"/>
<polygon points="380.31,386.49 382.18,387.86 363.98,388.93 369.95,386.37" fill="#9c726c" stroke="#9c726c" stroke-width="0.6" stroke-linejoin="round"/>
<polygon points="363.98,388.93 363.98,388.93 363.98,388.93" fill="#a07f7a" stroke="#a07f7a" stroke-width="0.6" stroke-linejoin="round"/>
<polygon points="376.36,383.60 376.36,383.60 376.36,383.60" fill="#895750" stroke="#895750" stroke-width="0.6" stroke-linejoin="round"/>
<polygon points="357.27,388.51 376.36,383.60 369.95,386.37 357.27,388.51" fill="#8d534a" stroke="#8d534a" stroke-width="0.6" stroke-linejoin="round"/>
<polygon points="357.27,388.51 357.27,388.51 369.95,386.37 363.98,388.93" fill="#956e68" stroke="#956e68" stroke-width="0.6" stroke-linejoin="round"/>
<polygon points="363.98,388.93 363.98,388.93 363.98,388.93" fill="#997a75" stroke="#997a75" stroke-width="0.6" stroke-linejoin="round"/>
<polygon points="376.36,383.60 376.36,383.60 376.36,383.60" fill="#985f57" stroke="#985f57" stroke-width="0.6" stroke-linejoin="round"/>
<polygon points="376.36,383.60 393.02,388.17 380.31,386.49" fill="#9d5a51" stroke="#9d5a51" stroke-width="0.6" stroke-linejoin="round"/>
<polygon points="393.02,388.17 401.07,390.37 382.18,387.86 380.31,386.49" fill="#a67973" stroke="#a67973" stroke-width="0.6" stroke-linejoin="round"/>
<polygon points="349.78,391.94 357.27,388.51 357.27,388.51 348.48,394.67" fill="#724640" stroke="#724640" stroke-width="0.6" stroke-linejoin="round"/>
<polygon points="357.27,388.51 357.27,388.51 352.59,395.21 345.95,399.98 348.48,394.67" fill="#785a56" stroke="#785a56" stroke-width="0.6" stroke-linejoin="round"/>
<polygon points="352.59,395.21 347.96,401.84 343.50,405.12 345.95,399.98" fill="#7b6360" stroke="#7b6360" stroke-width="0.6" stroke-linejoin="round"/>
<polygon points="347.96,401.84 343.38,408.40 341.14,410.09 343.50,405.12" fill="#7f6b68" stroke="#7f6b68" stroke-width="0.6" stroke-linejoin="round"/>
<polygon points="343.38,408.40 338.85,414.89 341.14,410.09" fill="#827371" stroke="#827371" stroke-width="0.6" stroke-linejoin="round"/>
<polygon points="338.85,414.89 338.85,414.89 338.85,414.89" fill="#877d7c" stroke="#877d7c" stroke-width="0.6" stroke-linejoin="round"/>
<polygon points="376.36,383.60 376.36,383.60 376.36,383.60" fill="#9d625a" stroke="#9d625a" stroke-width="0.6" stroke-linejoin="round"/>
<polygon points="376.36,383.60 396.17,387.71 399.25,389.38 393.02,388.17" fill="#a35d53" stroke="#a35d53" stroke-width="0.6" stroke-linejoin="round"/>
<polygon points="399.25,389.38 401.07,390.37 393.02,388.17" fill="#ac7d76" stroke="#ac7d76" stroke-width="0.6" stroke-linejoin="round"/>
<polygon points="416.77,396.69 416.77,396.69 416.77,396.69" fill="#ae6257" stroke="#ae6257" stroke-width="0.6" stroke-linejoin="round"/>
<polygon points="416.77,396.69 418.74,400.50 407.50,394.89 401.07,390.37" fill="#b8857e" stroke="#b8857e" stroke-width="0.6" stroke-linejoin="round"/>
<polygon points="418.74,400.50 420.61,404.10 407.50,394.89" fill="#bd948f" stroke="#bd948f" stroke-width="0.6" stroke-linejoin="round"/>
<polygon points="420.61,404.10 420.61,404.10 420.61,404.10" fill="#c4a29d" stroke="#c4a29d" stroke-width="0.6" stroke-linejoin="round"/>
<polygon points="347.59,395.52 349.78,391.94 348.48,394.67" fill="#724640" stroke="#724640" stroke-width="0.6" stroke-linejoin="round"/>
<polygon points="343.25,402.62 347.59,395.52 348.48,394.67 345.95,399.98" fill="#785a56" stroke="#785a56" stroke-width="0.6" stroke-linejoin="round"/>
<polygon points="338.96,409.65 343.25,402.62 345.95,399.98 343.50,405.12" fill="#7b6360" stroke="#7b6360" stroke-width="0.6" stroke-linejoin="round"/>
<polygon points="334.70,416.61 338.96,409.65 343.50,405.12 341.14,410.09" fill="#7f6b68" stroke="#7f6b68" stroke-width="0.6" stroke-linejoin="round"/>
<polygon points="330.49,423.51 334.70,416.61 341.14,410.09 338.85,414.89" fill="#827371" stroke="#827371" stroke-width="0.6" stroke-linejoin="round"/>
<polygon points="330.49,423.51 330.49,423.51 338.85,414.89 338.85,414.89" fill="#877d7c" stroke="#877d7c" stroke-width="0.6" stroke-linejoin="round"/>
<polygon points="396.17,387.71 416.77,396.69 416.77,396.69 399.25,389.38" fill="#ad6157" stroke="#ad6157" stroke-width="0.6" stroke-linejoin="round"/>
<polygon points="416.77,396.69 416.77,396.69 401.07,390.37 399.25,389.38" fill="#b7847d" stroke="#b7847d" stroke-width="0.6" stroke-linejoin="round"/>
<polygon points="416.77,396.69 416.77,396.69 416.77,396.69" fill="#ba675c" stroke="#ba675c" stroke-width="0.6" stroke-linejoin="round"/>
<polygon points="416.77,396.69 421.72,403.48 418.74,400.50" fill="#c48d86" stroke="#c48d86" stroke-width="0.6" stroke-linejoin="round"/>
<polygon points="421.72,403.48 426.60,410.18 420.61,404.10 420.61,404.10 418.74,400.50" fill="#ca9e98" stroke="#ca9e98" stroke-width="0.6" stroke-linejoin="round"/>
<polygon points="426.60,410.18 431.40,416.77 427.26,412.52 420.61,404.10 420.61,404.10" fill="#d1aca7" stroke="#d1aca7" stroke-width="0.6" stroke-linejoin="round"/>
<polygon points="431.40,416.77 436.14,423.27 433.99,421.04 427.26,412.52" fill="#d7bbb7" stroke="#d7bbb7" stroke-width="0.6" stroke-linejoin="round"/>
<polygon points="436.14,423.27 440.80,429.67 433.99,421.04" fill="#e0cecc" stroke="#e0cecc" stroke-width="0.6" stroke-linejoin="round"/>
<polygon points="369.83,382.84 369.83,382.84 369.83,382.84" fill="#844f49" stroke="#844f49" stroke-width="0.6" stroke-linejoin="round"/>
<polygon points="369.83,382.84 376.36,383.60 376.36,383.60 363.31,385.78" fill="#895750" stroke="#895750" stroke-width="0.6" stroke-linejoin="round"/>
<polygon points="376.36,383.60 376.36,383.60 357.27,388.51 363.31,385.78" fill="#8d534a" stroke="#8d534a" stroke-width="0.6" stroke-linejoin="round"/>
<polygon points="357.27,388.51 357.27,388.51 357.27,388.51" fill="#956e68" stroke="#956e68" stroke-width="0.6" stroke-linejoin="round"/>
<polygon points="369.83,382.84 369.83,382.84 369.83,382.84" fill="#7d4c47" stroke="#7d4c47" stroke-width="0.6" stroke-linejoin="round"/>
<polygon points="356.37,388.95 369.83,382.84 363.31,385.78" fill="#82534d" stroke="#82534d" stroke-width="0.6" stroke-linejoin="round"/>
<polygon points="349.78,391.94 356.37,388.95 363.31,385.78 357.27,388.51" fill="#864f48" stroke="#864f48" stroke-width="0.6" stroke-linejoin="round"/>
<polygon points="357.27,388.51 357.27,388.51 357.27,388.51" fill="#8d6964" stroke="#8d6964" stroke-width="0.6" stroke-linejoin="round"/>
<polygon points="369.83,382.84 369.83,382.84 369.83,382.84" fill="#9a5a53" stroke="#9a5a53" stroke-width="0.6" stroke-linejoin="round"/>
<polygon points="369.83,382.84 391.91,386.92 376.36,383.60 376.36,383.60" fill="#a0635b" stroke="#a0635b" stroke-width="0.6" stroke-linejoin="round"/>
<polygon points="391.91,386.92 396.17,387.71 376.36,383.60 376.36,383.60" fill="#a65e54" stroke="#a65e54" stroke-width="0.6" stroke-linejoin="round"/>
<polygon points="416.77,396.69 416.77,396.69 416.77,396.69" fill="#c96f62" stroke="#c96f62" stroke-width="0.6" stroke-linejoin="round"/>
<polygon points="416.77,396.69 420.94,405.13 421.72,403.48" fill="#d59890" stroke="#d59890" stroke-width="0.6" stroke-linejoin="round"/>
<polygon points="420.94,405.13 425.14,413.64 426.60,410.18 421.72,403.48" fill="#dcaba4" stroke="#dcaba4" stroke-width="0.6" stroke-linejoin="round"/>
<polygon points="425.14,413.64 429.37,422.21 431.40,416.77 426.60,410.18" fill="#e3bab5" stroke="#e3bab5" stroke-width="0.6" stroke-linejoin="round"/>
<polygon points="429.37,422.21 433.63,430.85 436.14,423.27 431.40,416.77" fill="#e9cbc6" stroke="#e9cbc6" stroke-width="0.6" stroke-linejoin="round"/>
<polygon points="433.63,430.85 437.93,439.55 440.80,429.67 436.14,423.27" fill="#f4dfdd" stroke="#f4dfdd" stroke-width="0.6" stroke-linejoin="round"/>
<polygon points="341.39,395.78 341.39,395.78 341.39,395.78" fill="#6f4944" stroke="#6f4944" stroke-width="0.6" stroke-linejoin="round"/>
<polygon points="341.39,395.78 349.78,391.94 347.59,395.52 339.07,401.69" fill="#724640" stroke="#724640" stroke-width="0.6" stroke-linejoin="round"/>
<polygon points="347.59,395.52 343.25,402.62 336.82,407.41 339.07,401.69" fill="#785a56" stroke="#785a56" stroke-width="0.6" stroke-linejoin="round"/>
<polygon points="343.25,402.62 338.96,409.65 334.64,412.95 336.82,407.41" fill="#7b6360" stroke="#7b6360" stroke-width="0.6" stroke-linejoin="round"/>
<polygon points="338.96,409.65 334.70,416.61 332.53,418.31 334.64,412.95" fill="#7f6b68" stroke="#7f6b68" stroke-width="0.6" stroke-linejoin="round"/>
<polygon points="334.70,416.61 330.49,423.51 332.53,418.31" fill="#827371" stroke="#827371" stroke-width="0.6" stroke-linejoin="round"/>
<polygon points="330.49,423.51 330.49,423.51 330.49,423.51" fill="#877d7c" stroke="#877d7c" stroke-width="0.6" stroke-linejoin="round"/>
<polygon points="369.83,382.84 369.83,382.84 369.83,382.84" fill="#9a5a53" stroke="#9a5a53" stroke-width="0.6" stroke-linejoin="round"/>
<polygon points="369.83,382.84 390.68,387.17 395.12,387.61 391.91,386.92" fill="#a0635b" stroke="#a0635b" stroke-width="0.6" stroke-linejoin="round"/>
<polygon points="395.12,387.61 396.17,387.71 391.91,386.92" fill="#a65e54" stroke="#a65e54" stroke-width="0.6" stroke-linejoin="round"/>
<polygon points="412.45,390.86 414.29,393.35 399.57,388.37" fill="#a2655c" stroke="#a2655c" stroke-width="0.6" stroke-linejoin="round"/>
<polygon points="414.29,393.35 416.77,396.69 396.17,387.71 399.57,388.37" fill="#a85f55" stroke="#a85f55" stroke-width="0.6" stroke-linejoin="round"/>
<polygon points="416.77,396.69 416.77,396.69 416.77,396.69" fill="#b2817a" stroke="#b2817a" stroke-width="0.6" stroke-linejoin="round"/>
<polygon points="341.39,395.78 341.39,395.78 341.39,395.78" fill="#6f4944" stroke="#6f4944" stroke-width="0.6" stroke-linejoin="round"/>
<polygon points="337.27,403.39 341.39,395.78 339.07,401.69" fill="#724640" stroke="#724640" stroke-width="0.6" stroke-linejoin="round"/>
<polygon points="333.18,410.93 337.27,403.39 339.07,401.69 336.82,407.41" fill="#785a56" stroke="#785a56" stroke-width="0.6" stroke-linejoin="round"/>
<polygon points="329.13,418.40 333.18,410.93 336.82,407.41 334.64,412.95" fill="#7b6360" stroke="#7b6360" stroke-width="0.6" stroke-linejoin="round"/>
<polygon points="325.13,425.80 329.13,418.40 334.64,412.95 332.53,418.31" fill="#7f6b68" stroke="#7f6b68" stroke-width="0.6" stroke-linejoin="round"/>
<polygon points="321.15,433.13 325.13,425.80 332.53,418.31 330.49,423.51" fill="#827371" stroke="#827371" stroke-width="0.6" stroke-linejoin="round"/>
<polygon points="321.15,433.13 321.15,433.13 330.49,423.51 330.49,423.51" fill="#877d7c" stroke="#877d7c" stroke-width="0.6" stroke-linejoin="round"/>
<polygon points="390.68,387.17 412.45,390.86 399.57,388.37 395.12,387.61" fill="#9e625a" stroke="#9e625a" stroke-width="0.6" stroke-linejoin="round"/>
<polygon points="399.57,388.37 396.17,387.71 395.12,387.61" fill="#a45d53" stroke="#a45d53" stroke-width="0.6" stroke-linejoin="round"/>
<polygon points="412.45,390.86 415.21,396.14 414.29,393.35" fill="#ba7167" stroke="#ba7167" stroke-width="0.6" stroke-linejoin="round"/>
<polygon points="415.21,396.14 419.11,403.59 416.77,396.69 416.77,396.69 414.29,393.35" fill="#c16b5f" stroke="#c16b5f" stroke-width="0.6" stroke-linejoin="round"/>
<polygon points="419.11,403.59 422.96,410.96 420.94,405.13 416.77,396.69 416.77,396.69" fill="#cc928a" stroke="#cc928a" stroke-width="0.6" stroke-linejoin="round"/>
<polygon points="422.96,410.96 426.77,418.23 425.14,413.64 420.94,405.13" fill="#d2a49e" stroke="#d2a49e" stroke-width="0.6" stroke-linejoin="round"/>
<polygon points="426.77,418.23 430.53,425.42 429.37,422.21 425.14,413.64" fill="#d9b3ae" stroke="#d9b3ae" stroke-width="0.6" stroke-linejoin="round"/>
<polygon points="430.53,425.42 434.25,432.53 433.63,430.85 429.37,422.21" fill="#e0c3be" stroke="#e0c3be" stroke-width="0.6" stroke-linejoin="round"/>
<polygon points="434.25,432.53 437.93,439.55 433.63,430.85" fill="#e9d6d4" stroke="#e9d6d4" stroke-width="0.6" stroke-linejoin="round"/>
<polygon points="362.49,383.67 369.83,382.84 369.83,382.84 357.83,386.70" fill="#7c4b46" stroke="#7c4b46" stroke-width="0.6" stroke-linejoin="round"/>
<polygon points="369.83,382.84 369.83,382.84 356.37,388.95 352.37,390.25 357.83,386.70" fill="#80524c" stroke="#80524c" stroke-width="0.6" stroke-linejoin="round"/>
<polygon points="356.37,388.95 349.78,391.94 352.37,390.25" fill="#844f47" stroke="#844f47" stroke-width="0.6" stroke-linejoin="round"/>
<polygon points="352.99,389.12 362.49,383.67 357.83,386.70" fill="#784a44" stroke="#784a44" stroke-width="0.6" stroke-linejoin="round"/>
<polygon points="341.39,395.78 352.99,389.12 357.83,386.70 352.37,390.25 341.39,395.78" fill="#7c504b" stroke="#7c504b" stroke-width="0.6" stroke-linejoin="round"/>
<polygon points="341.39,395.78 341.39,395.78 352.37,390.25 349.78,391.94" fill="#804d45" stroke="#804d45" stroke-width="0.6" stroke-linejoin="round"/>
<polygon points="362.49,383.67 385.21,386.49 369.83,382.84 369.83,382.84" fill="#9c5b53" stroke="#9c5b53" stroke-width="0.6" stroke-linejoin="round"/>
<polygon points="385.21,386.49 390.68,387.17 369.83,382.84 369.83,382.84" fill="#a2645c" stroke="#a2645c" stroke-width="0.6" stroke-linejoin="round"/>
<polygon points="412.45,390.86 414.73,397.00 415.21,396.14" fill="#c0746a" stroke="#c0746a" stroke-width="0.6" stroke-linejoin="round"/>
<polygon points="414.73,397.00 418.01,405.81 419.11,403.59 415.21,396.14" fill="#c76e61" stroke="#c76e61" stroke-width="0.6" stroke-linejoin="round"/>
<polygon points="418.01,405.81 421.31,414.68 422.96,410.96 419.11,403.59" fill="#d3978f" stroke="#d3978f" stroke-width="0.6" stroke-linejoin="round"/>
<polygon points="421.31,414.68 424.63,423.59 426.77,418.23 422.96,410.96" fill="#daa9a3" stroke="#daa9a3" stroke-width="0.6" stroke-linejoin="round"/>
<polygon points="424.63,423.59 427.97,432.56 430.53,425.42 426.77,418.23" fill="#e1b9b3" stroke="#e1b9b3" stroke-width="0.6" stroke-linejoin="round"/>
<polygon points="427.97,432.56 431.33,441.57 434.25,432.53 430.53,425.42" fill="#e7c9c5" stroke="#e7c9c5" stroke-width="0.6" stroke-linejoin="round"/>
<polygon points="431.33,441.57 434.70,450.64 437.93,439.55 434.25,432.53" fill="#f1dddc" stroke="#f1dddc" stroke-width="0.6" stroke-linejoin="round"/>
<polygon points="384.45,393.48 384.45,393.48 384.45,393.48" fill="#9e5c54" stroke="#9e5c54" stroke-width="0.6" stroke-linejoin="round"/>
<polygon points="384.45,393.48 412.45,390.86 390.68,387.17" fill="#a4665d" stroke="#a4665d" stroke-width="0.6" stroke-linejoin="round"/>
<polygon points="331.95,397.47 341.39,395.78 341.39,395.78 330.35,402.76" fill="#6f4944" stroke="#6f4944" stroke-width="0.6" stroke-linejoin="round"/>
<polygon points="341.39,395.78 341.39,395.78 337.27,403.39 328.40,409.20 330.35,402.76" fill="#724640" stroke="#724640" stroke-width="0.6" stroke-linejoin="round"/>
<polygon points="337.27,403.39 333.18,410.93 326.51,415.45 328.40,409.20" fill="#785a56" stroke="#785a56" stroke-width="0.6" stroke-linejoin="round"/>
<polygon points="333.18,410.93 329.13,418.40 324.67,421.51 326.51,415.45" fill="#7b6360" stroke="#7b6360" stroke-width="0.6" stroke-linejoin="round"/>
<polygon points="329.13,418.40 325.13,425.80 322.89,427.40 324.67,421.51" fill="#7f6b68" stroke="#7f6b68" stroke-width="0.6" stroke-linejoin="round"/>
<polygon points="325.13,425.80 321.15,433.13 322.89,427.40" fill="#827371" stroke="#827371" stroke-width="0.6" stroke-linejoin="round"/>
<polygon points="321.15,433.13 321.15,433.13 321.15,433.13" fill="#877d7c" stroke="#877d7c" stroke-width="0.6" stroke-linejoin="round"/>
<polygon points="362.49,383.67 384.45,393.48 384.45,393.48 385.21,386.49" fill="#a96159" stroke="#a96159" stroke-width="0.6" stroke-linejoin="round"/>
<polygon points="384.45,393.48 384.45,393.48 390.68,387.17 385.21,386.49" fill="#b06c63" stroke="#b06c63" stroke-width="0.6" stroke-linejoin="round"/>
<polygon points="329.18,404.06 331.95,397.47 330.35,402.76" fill="#6f4944" stroke="#6f4944" stroke-width="0.6" stroke-linejoin="round"/>
<polygon points="325.75,412.24 329.18,404.06 330.35,402.76 328.40,409.20" fill="#724640" stroke="#724640" stroke-width="0.6" stroke-linejoin="round"/>
<polygon points="322.35,420.34 325.75,412.24 328.40,409.20 326.51,415.45" fill="#785a56" stroke="#785a56" stroke-width="0.6" stroke-linejoin="round"/>
<polygon points="318.97,428.39 322.35,420.34 326.51,415.45 324.67,421.51" fill="#7b6360" stroke="#7b6360" stroke-width="0.6" stroke-linejoin="round"/>
<polygon points="315.63,436.36 318.97,428.39 324.67,421.51 322.89,427.40" fill="#7f6b68" stroke="#7f6b68" stroke-width="0.6" stroke-linejoin="round"/>
<polygon points="312.31,444.28 315.63,436.36 322.89,427.40 321.15,433.13 321.15,433.13" fill="#827371" stroke="#827371" stroke-width="0.6" stroke-linejoin="round"/>
<polygon points="310.66,448.21 312.31,444.28 321.15,433.13 321.15,433.13" fill="#877d7c" stroke="#877d7c" stroke-width="0.6" stroke-linejoin="round"/>
<polygon points="338.25,394.62 362.49,383.67 352.99,389.12" fill="#764944" stroke="#764944" stroke-width="0.6" stroke-linejoin="round"/>
<polygon points="331.95,397.47 338.25,394.62 352.99,389.12 341.39,395.78" fill="#7a504a" stroke="#7a504a" stroke-width="0.6" stroke-linejoin="round"/>
<polygon points="341.39,395.78 341.39,395.78 341.39,395.78" fill="#7f4c45" stroke="#7f4c45" stroke-width="0.6" stroke-linejoin="round"/>
<polygon points="384.45,393.48 384.45,393.48 384.45,393.48" fill="#ae635b" stroke="#ae635b" stroke-width="0.6" stroke-linejoin="round"/>
<polygon points="384.45,393.48 407.41,404.63 412.45,390.86" fill="#b56e65" stroke="#b56e65" stroke-width="0.6" stroke-linejoin="round"/>
<polygon points="414.73,397.00 412.45,390.86 414.25,397.88" fill="#c0746a" stroke="#c0746a" stroke-width="0.6" stroke-linejoin="round"/>
<polygon points="418.01,405.81 414.73,397.00 414.25,397.88 416.88,408.11" fill="#c76e61" stroke="#c76e61" stroke-width="0.6" stroke-linejoin="round"/>
<polygon points="421.31,414.68 418.01,405.81 416.88,408.11 419.58,418.58" fill="#d3978f" stroke="#d3978f" stroke-width="0.6" stroke-linejoin="round"/>
<polygon points="424.63,423.59 421.31,414.68 419.58,418.58 422.34,429.32" fill="#daa9a3" stroke="#daa9a3" stroke-width="0.6" stroke-linejoin="round"/>
<polygon points="427.97,432.56 424.63,423.59 422.34,429.32 425.17,440.32" fill="#e1b9b3" stroke="#e1b9b3" stroke-width="0.6" stroke-linejoin="round"/>
<polygon points="431.33,441.57 427.97,432.56 425.17,440.32 428.08,451.61" fill="#e7c9c5" stroke="#e7c9c5" stroke-width="0.6" stroke-linejoin="round"/>
<polygon points="431.05,463.18 434.70,450.64 431.33,441.57 428.08,451.61" fill="#f1dddc" stroke="#f1dddc" stroke-width="0.6" stroke-linejoin="round"/>
<polygon points="354.16,390.92 384.45,393.48 362.49,383.67" fill="#aa6159" stroke="#aa6159" stroke-width="0.6" stroke-linejoin="round"/>
<polygon points="384.45,393.48 384.45,393.48 384.45,393.48" fill="#b16c63" stroke="#b16c63" stroke-width="0.6" stroke-linejoin="round"/>
<polygon points="407.41,404.63 407.79,405.57 414.25,397.88 412.45,390.86" fill="#c2756b" stroke="#c2756b" stroke-width="0.6" stroke-linejoin="round"/>
<polygon points="407.79,405.57 411.60,415.01 416.88,408.11 414.25,397.88" fill="#c96f62" stroke="#c96f62" stroke-width="0.6" stroke-linejoin="round"/>
<polygon points="411.60,415.01 415.44,424.51 419.58,418.58 416.88,408.11" fill="#d59890" stroke="#d59890" stroke-width="0.6" stroke-linejoin="round"/>
<polygon points="415.44,424.51 419.30,434.08 422.34,429.32 419.58,418.58" fill="#dcaba4" stroke="#dcaba4" stroke-width="0.6" stroke-linejoin="round"/>
<polygon points="419.30,434.08 423.19,443.71 425.17,440.32 422.34,429.32" fill="#e3bbb5" stroke="#e3bbb5" stroke-width="0.6" stroke-linejoin="round"/>
<polygon points="423.19,443.71 427.11,453.41 428.08,451.61 425.17,440.32" fill="#eacbc7" stroke="#eacbc7" stroke-width="0.6" stroke-linejoin="round"/>
<polygon points="427.11,453.41 431.05,463.18 428.08,451.61" fill="#f4e0de" stroke="#f4e0de" stroke-width="0.6" stroke-linejoin="round"/>
<polygon points="335.91,396.30 354.16,390.92 362.49,383.67 338.25,394.62" fill="#87514b" stroke="#87514b" stroke-width="0.6" stroke-linejoin="round"/>
<polygon points="331.95,397.47 335.91,396.30 338.25,394.62" fill="#8c5952" stroke="#8c5952" stroke-width="0.6" stroke-linejoin="round"/>
<polygon points="328.17,405.18 331.95,397.47 329.18,404.06" fill="#6f4944" stroke="#6f4944" stroke-width="0.6" stroke-linejoin="round"/>
<polygon points="323.41,414.92 328.17,405.18 329.18,404.06 325.75,412.24" fill="#724640" stroke="#724640" stroke-width="0.6" stroke-linejoin="round"/>
<polygon points="318.59,424.77 323.41,414.92 325.75,412.24 322.35,420.34" fill="#785a56" stroke="#785a56" stroke-width="0.6" stroke-linejoin="round"/>
<polygon points="313.72,434.72 318.59,424.77 322.35,420.34 318.97,428.39" fill="#7b6360" stroke="#7b6360" stroke-width="0.6" stroke-linejoin="round"/>
<polygon points="308.80,444.79 313.72,434.72 318.97,428.39 315.63,436.36" fill="#7f6b68" stroke="#7f6b68" stroke-width="0.6" stroke-linejoin="round"/>
<polygon points="303.81,454.97 308.80,444.79 315.63,436.36 312.31,444.28" fill="#827371" stroke="#827371" stroke-width="0.6" stroke-linejoin="round"/>
<polygon points="298.78,465.27 303.81,454.97 312.31,444.28 310.66,448.21" fill="#877d7c" stroke="#877d7c" stroke-width="0.6" stroke-linejoin="round"/>
<polygon points="384.45,393.48 384.45,393.48 384.45,393.48" fill="#a25e56" stroke="#a25e56" stroke-width="0.6" stroke-linejoin="round"/>
<polygon points="406.47,405.70 407.41,404.63 384.45,393.48 382.71,404.40" fill="#a8685f" stroke="#a8685f" stroke-width="0.6" stroke-linejoin="round"/>
<polygon points="396.95,416.60 406.47,405.70 382.71,404.40 380.92,415.65" fill="#af6258" stroke="#af6258" stroke-width="0.6" stroke-linejoin="round"/>
<polygon points="387.18,427.78 396.95,416.60 380.92,415.65 379.07,427.26" fill="#b9857e" stroke="#b9857e" stroke-width="0.6" stroke-linejoin="round"/>
<polygon points="377.16,439.25 387.18,427.78 379.07,427.26" fill="#be9590" stroke="#be9590" stroke-width="0.6" stroke-linejoin="round"/>
<polygon points="377.16,439.25 377.16,439.25 377.16,439.25" fill="#c4a29e" stroke="#c4a29e" stroke-width="0.6" stroke-linejoin="round"/>
<polygon points="354.16,390.92 358.31,399.64 384.45,393.48 384.45,393.48" fill="#b6675e" stroke="#b6675e" stroke-width="0.6" stroke-linejoin="round"/>
<polygon points="358.31,399.64 362.96,409.41 382.71,404.40 384.45,393.48 384.45,393.48" fill="#be7369" stroke="#be7369" stroke-width="0.6" stroke-linejoin="round"/>
<polygon points="362.96,409.41 367.65,419.27 380.92,415.65 382.71,404.40" fill="#c56d60" stroke="#c56d60" stroke-width="0.6" stroke-linejoin="round"/>
<polygon points="367.65,419.27 372.38,429.21 379.07,427.26 380.92,415.65" fill="#d0958d" stroke="#d0958d" stroke-width="0.6" stroke-linejoin="round"/>
<polygon points="372.38,429.21 377.16,439.25 379.07,427.26" fill="#d7a7a1" stroke="#d7a7a1" stroke-width="0.6" stroke-linejoin="round"/>
<polygon points="377.16,439.25 377.16,439.25 377.16,439.25" fill="#deb6b1" stroke="#deb6b1" stroke-width="0.6" stroke-linejoin="round"/>
<polygon points="350.51,399.67 354.16,390.92 335.91,396.30" fill="#87514b" stroke="#87514b" stroke-width="0.6" stroke-linejoin="round"/>
<polygon points="346.41,409.49 350.51,399.67 335.91,396.30 331.95,397.47 330.73,405.59" fill="#8c5952" stroke="#8c5952" stroke-width="0.6" stroke-linejoin="round"/>
<polygon points="342.28,419.40 346.41,409.49 330.73,405.59 329.18,415.91" fill="#91554c" stroke="#91554c" stroke-width="0.6" stroke-linejoin="round"/>
<polygon points="338.10,429.41 342.28,419.40 329.18,415.91 327.60,426.42" fill="#99706b" stroke="#99706b" stroke-width="0.6" stroke-linejoin="round"/>
<polygon points="333.89,439.51 338.10,429.41 327.60,426.42 326.00,437.12" fill="#9d7d78" stroke="#9d7d78" stroke-width="0.6" stroke-linejoin="round"/>
<polygon points="329.63,449.72 333.89,439.51 326.00,437.12 324.36,448.01" fill="#a28784" stroke="#a28784" stroke-width="0.6" stroke-linejoin="round"/>
<polygon points="325.33,460.02 329.63,449.72 324.36,448.01 322.69,459.11" fill="#a7928f" stroke="#a7928f" stroke-width="0.6" stroke-linejoin="round"/>
<polygon points="320.99,470.43 325.33,460.02 322.69,459.11" fill="#ada09f" stroke="#ada09f" stroke-width="0.6" stroke-linejoin="round"/>
<polygon points="330.73,405.59 331.95,397.47 328.17,405.18" fill="#965e57" stroke="#965e57" stroke-width="0.6" stroke-linejoin="round"/>
<polygon points="329.18,415.91 330.73,405.59 328.17,405.18 323.41,414.92" fill="#9b5950" stroke="#9b5950" stroke-width="0.6" stroke-linejoin="round"/>
<polygon points="327.60,426.42 329.18,415.91 323.41,414.92 318.59,424.77" fill="#a47872" stroke="#a47872" stroke-width="0.6" stroke-linejoin="round"/>
<polygon points="326.00,437.12 327.60,426.42 318.59,424.77 313.72,434.72" fill="#a98580" stroke="#a98580" stroke-width="0.6" stroke-linejoin="round"/>
<polygon points="324.36,448.01 326.00,437.12 313.72,434.72 308.80,444.79" fill="#ae908c" stroke="#ae908c" stroke-width="0.6" stroke-linejoin="round"/>
<polygon points="322.69,459.11 324.36,448.01 308.80,444.79 303.81,454.97" fill="#b39d99" stroke="#b39d99" stroke-width="0.6" stroke-linejoin="round"/>
<polygon points="298.78,465.27 320.99,470.43 322.69,459.11 303.81,454.97" fill="#baabaa" stroke="#baabaa" stroke-width="0.6" stroke-linejoin="round"/>
<polygon points="407.28,405.74 407.41,404.63 406.47,405.70" fill="#a96860" stroke="#a96860" stroke-width="0.6" stroke-linejoin="round"/>
<polygon points="405.89,417.06 407.28,405.74 406.47,405.70 396.95,416.60" fill="#af6358" stroke="#af6358" stroke-width="0.6" stroke-linejoin="round"/>
<polygon points="404.46,428.73 405.89,417.06 396.95,416.60 387.18,427.78" fill="#b9867f" stroke="#b9867f" stroke-width="0.6" stroke-linejoin="round"/>
<polygon points="377.16,439.25 377.16,439.25 402.98,440.77 404.46,428.73 387.18,427.78" fill="#bf9590" stroke="#bf9590" stroke-width="0.6" stroke-linejoin="round"/>
<polygon points="377.16,439.25 401.46,453.20 402.98,440.77 377.16,439.25" fill="#c5a39e" stroke="#c5a39e" stroke-width="0.6" stroke-linejoin="round"/>
<polygon points="401.46,453.20 401.46,453.20 401.46,453.20" fill="#cbb1ad" stroke="#cbb1ad" stroke-width="0.6" stroke-linejoin="round"/>
<polygon points="407.79,405.57 407.41,404.63 407.71,405.72" fill="#c1756b" stroke="#c1756b" stroke-width="0.6" stroke-linejoin="round"/>
<polygon points="411.60,415.01 407.79,405.57 407.71,405.72 410.68,416.84" fill="#c86e61" stroke="#c86e61" stroke-width="0.6" stroke-linejoin="round"/>
<polygon points="415.44,424.51 411.60,415.01 410.68,416.84 413.74,428.27" fill="#d4988f" stroke="#d4988f" stroke-width="0.6" stroke-linejoin="round"/>
<polygon points="419.30,434.08 415.44,424.51 413.74,428.27 416.88,440.04" fill="#daaaa3" stroke="#daaaa3" stroke-width="0.6" stroke-linejoin="round"/>
<polygon points="423.19,443.71 419.30,434.08 416.88,440.04 420.12,452.15" fill="#e2b9b4" stroke="#e2b9b4" stroke-width="0.6" stroke-linejoin="round"/>
<polygon points="427.11,453.41 423.19,443.71 420.12,452.15 423.46,464.62" fill="#e8cac5" stroke="#e8cac5" stroke-width="0.6" stroke-linejoin="round"/>
<polygon points="426.90,477.47 431.05,463.18 427.11,453.41 423.46,464.62" fill="#f2dedc" stroke="#f2dedc" stroke-width="0.6" stroke-linejoin="round"/>
<polygon points="407.71,405.72 407.41,404.63 407.28,405.74" fill="#b26d64" stroke="#b26d64" stroke-width="0.6" stroke-linejoin="round"/>
<polygon points="410.68,416.84 407.71,405.72 407.28,405.74 405.89,417.06" fill="#b8675b" stroke="#b8675b" stroke-width="0.6" stroke-linejoin="round"/>
<polygon points="413.74,428.27 410.68,416.84 405.89,417.06 404.46,428.73" fill="#c38c85" stroke="#c38c85" stroke-width="0.6" stroke-linejoin="round"/>
<polygon points="416.88,440.04 413.74,428.27 404.46,428.73 402.98,440.77" fill="#c99d97" stroke="#c99d97" stroke-width="0.6" stroke-linejoin="round"/>
<polygon points="401.46,453.20 401.46,453.20 420.12,452.15 416.88,440.04 402.98,440.77" fill="#cfaba6" stroke="#cfaba6" stroke-width="0.6" stroke-linejoin="round"/>
<polygon points="401.46,453.20 414.02,465.19 423.46,464.62 420.12,452.15 401.46,453.20" fill="#d5bab6" stroke="#d5bab6" stroke-width="0.6" stroke-linejoin="round"/>
<polygon points="414.02,465.19 426.90,477.47 423.46,464.62" fill="#decccb" stroke="#decccb" stroke-width="0.6" stroke-linejoin="round"/>
<polygon points="353.10,400.06 354.16,390.92 350.51,399.67" fill="#8e544e" stroke="#8e544e" stroke-width="0.6" stroke-linejoin="round"/>
<polygon points="351.91,410.38 353.10,400.06 350.51,399.67 346.41,409.49" fill="#945d56" stroke="#945d56" stroke-width="0.6" stroke-linejoin="round"/>
<polygon points="350.70,420.85 351.91,410.38 346.41,409.49 342.28,419.40" fill="#99584f" stroke="#99584f" stroke-width="0.6" stroke-linejoin="round"/>
<polygon points="349.47,431.50 350.70,420.85 342.28,419.40 338.10,429.41" fill="#a17670" stroke="#a17670" stroke-width="0.6" stroke-linejoin="round"/>
<polygon points="348.22,442.32 349.47,431.50 338.10,429.41 333.89,439.51" fill="#a6837e" stroke="#a6837e" stroke-width="0.6" stroke-linejoin="round"/>
<polygon points="346.95,453.31 348.22,442.32 333.89,439.51 329.63,449.72" fill="#ab8e8a" stroke="#ab8e8a" stroke-width="0.6" stroke-linejoin="round"/>
<polygon points="345.66,464.49 346.95,453.31 329.63,449.72 325.33,460.02" fill="#b09a97" stroke="#b09a97" stroke-width="0.6" stroke-linejoin="round"/>
<polygon points="320.99,470.43 344.34,475.85 345.66,464.49 325.33,460.02" fill="#b7a9a7" stroke="#b7a9a7" stroke-width="0.6" stroke-linejoin="round"/>
<polygon points="358.31,399.64 354.16,390.92 355.71,400.45" fill="#ba6960" stroke="#ba6960" stroke-width="0.6" stroke-linejoin="round"/>
<polygon points="362.96,409.41 358.31,399.64 355.71,400.45 357.47,411.27" fill="#c1756b" stroke="#c1756b" stroke-width="0.6" stroke-linejoin="round"/>
<polygon points="367.65,419.27 362.96,409.41 357.47,411.27 359.27,422.33" fill="#c86e62" stroke="#c86e62" stroke-width="0.6" stroke-linejoin="round"/>
<polygon points="372.38,429.21 367.65,419.27 359.27,422.33 361.11,433.64" fill="#d4988f" stroke="#d4988f" stroke-width="0.6" stroke-linejoin="round"/>
<polygon points="377.16,439.25 377.16,439.25 372.38,429.21 361.11,433.64 363.00,445.21" fill="#dbaaa4" stroke="#dbaaa4" stroke-width="0.6" stroke-linejoin="round"/>
<polygon points="374.53,452.73 377.16,439.25 377.16,439.25 363.00,445.21 364.92,457.04" fill="#e2bab4" stroke="#e2bab4" stroke-width="0.6" stroke-linejoin="round"/>
<polygon points="371.78,466.81 374.53,452.73 364.92,457.04 366.89,469.16" fill="#e8cac6" stroke="#e8cac6" stroke-width="0.6" stroke-linejoin="round"/>
<polygon points="368.91,481.55 371.78,466.81 366.89,469.16" fill="#f2dedc" stroke="#f2dedc" stroke-width="0.6" stroke-linejoin="round"/>
<polygon points="355.71,400.45 354.16,390.92 353.10,400.06" fill="#8e544e" stroke="#8e544e" stroke-width="0.6" stroke-linejoin="round"/>
<polygon points="357.47,411.27 355.71,400.45 353.10,400.06 351.91,410.38" fill="#945d56" stroke="#945d56" stroke-width="0.6" stroke-linejoin="round"/>
<polygon points="359.27,422.33 357.47,411.27 351.91,410.38 350.70,420.85" fill="#99584f" stroke="#99584f" stroke-width="0.6" stroke-linejoin="round"/>
<polygon points="361.11,433.64 359.27,422.33 350.70,420.85 349.47,431.50" fill="#a17670" stroke="#a17670" stroke-width="0.6" stroke-linejoin="round"/>
<polygon points="363.00,445.21 361.11,433.64 349.47,431.50 348.22,442.32" fill="#a6837e" stroke="#a6837e" stroke-width="0.6" stroke-linejoin="round"/>
<polygon points="364.92,457.04 363.00,445.21 348.22,442.32 346.95,453.31" fill="#ab8e8a" stroke="#ab8e8a" stroke-width="0.6" stroke-linejoin="round"/>
<polygon points="366.89,469.16 364.92,457.04 346.95,453.31 345.66,464.49" fill="#b09a97" stroke="#b09a97" stroke-width="0.6" stroke-linejoin="round"/>
<polygon points="344.34,475.85 368.91,481.55 366.89,469.16 345.66,464.49" fill="#b7a9a7" stroke="#b7a9a7" stroke-width="0.6" stroke-linejoin="round"/>
<polygon points="377.16,439.25 377.16,439.25 377.16,439.25" fill="#cb9e99" stroke="#cb9e99" stroke-width="0.6" stroke-linejoin="round"/>
<polygon points="401.46,453.20 401.46,453.20 377.16,439.25 382.68,454.36" fill="#d2ada8" stroke="#d2ada8" stroke-width="0.6" stroke-linejoin="round"/>
<polygon points="398.24,469.78 401.46,453.20 401.46,453.20 382.68,454.36 388.55,470.44" fill="#d8bcb8" stroke="#d8bcb8" stroke-width="0.6" stroke-linejoin="round"/>
<polygon points="394.80,487.56 398.24,469.78 388.55,470.44" fill="#e1cecd" stroke="#e1cecd" stroke-width="0.6" stroke-linejoin="round"/>
<polygon points="377.16,439.25 377.16,439.25 377.16,439.25" fill="#b78f8a" stroke="#b78f8a" stroke-width="0.6" stroke-linejoin="round"/>
<polygon points="382.68,454.36 377.16,439.25 374.53,452.73" fill="#bc9c97" stroke="#bc9c97" stroke-width="0.6" stroke-linejoin="round"/>
<polygon points="388.55,470.44 382.68,454.36 374.53,452.73 371.78,466.81" fill="#c2a9a5" stroke="#c2a9a5" stroke-width="0.6" stroke-linejoin="round"/>
<polygon points="368.91,481.55 394.80,487.56 388.55,470.44 371.78,466.81" fill="#cab9b8" stroke="#cab9b8" stroke-width="0.6" stroke-linejoin="round"/>
<polygon points="401.46,453.20 401.46,453.20 401.46,453.20" fill="#deb6b1" stroke="#deb6b1" stroke-width="0.6" stroke-linejoin="round"/>
<polygon points="414.02,465.19 401.46,453.20 411.29,472.57" fill="#e4c6c2" stroke="#e4c6c2" stroke-width="0.6" stroke-linejoin="round"/>
<polygon points="422.11,493.90 426.90,477.47 414.02,465.19 411.29,472.57" fill="#eedad8" stroke="#eedad8" stroke-width="0.6" stroke-linejoin="round"/>
<polygon points="401.46,453.20 401.46,453.20 401.46,453.20" fill="#c09f9a" stroke="#c09f9a" stroke-width="0.6" stroke-linejoin="round"/>
<polygon points="411.29,472.57 401.46,453.20 398.24,469.78" fill="#c6ada9" stroke="#c6ada9" stroke-width="0.6" stroke-linejoin="round"/>
<polygon points="394.80,487.56 422.11,493.90 411.29,472.57 398.24,469.78" fill="#cebdbc" stroke="#cebdbc" stroke-width="0.6" stroke-linejoin="round"/>
<path d="M298.95 373.95L422.98 390.08L441.50 354.03" fill="none" stroke="#bdbdbd" stroke-width="0.5"/>
<path d="M298.90 370.50L298.90 465.80L419.70 494.80L441.80 428.00" fill="none" stroke="#1a1a1a" stroke-width="1.0"/>
<line x1="295.90" y1="373.00" x2="298.90" y2="373.00" stroke="#1a1a1a" stroke-width="0.9"/>
<text x="292.30" y="375.60" font-size="7.3" text-anchor="end" textLength="10.60" lengthAdjust="spacingAndGlyphs" >0.0</text>
<line x1="295.90" y1="382.28" x2="298.90" y2="382.28" stroke="#1a1a1a" stroke-width="0.9"/>
<text x="292.30" y="384.88" font-size="7.3" text-anchor="end" textLength="10.60" lengthAdjust="spacingAndGlyphs" >0.1</text>
<line x1="295.90" y1="391.56" x2="298.90" y2="391.56" stroke="#1a1a1a" stroke-width="0.9"/>
<text x="292.30" y="394.16" font-size="7.3" text-anchor="end" textLength="10.60" lengthAdjust="spacingAndGlyphs" >0.2</text>
<line x1="295.90" y1="400.84" x2="298.90" y2="400.84" stroke="#1a1a1a" stroke-width="0.9"/>
<text x="292.30" y="403.44" font-size="7.3" text-anchor="end" textLength="10.60" lengthAdjust="spacingAndGlyphs" >0.3</text>
<line x1="295.90" y1="410.12" x2="298.90" y2="410.12" stroke="#1a1a1a" stroke-width="0.9"/>
<text x="292.30" y="412.72" font-size="7.3" text-anchor="end" textLength="10.60" lengthAdjust="spacingAndGlyphs" >0.4</text>
<line x1="295.90" y1="419.40" x2="298.90" y2="419.40" stroke="#1a1a1a" stroke-width="0.9"/>
<text x="292.30" y="422.00" font-size="7.3" text-anchor="end" textLength="10.60" lengthAdjust="spacingAndGlyphs" >0.5</text>
<line x1="295.90" y1="428.68" x2="298.90" y2="428.68" stroke="#1a1a1a" stroke-width="0.9"/>
<text x="292.30" y="431.28" font-size="7.3" text-anchor="end" textLength="10.60" lengthAdjust="spacingAndGlyphs" >0.6</text>
<line x1="295.90" y1="437.96" x2="298.90" y2="437.96" stroke="#1a1a1a" stroke-width="0.9"/>
<text x="292.30" y="440.56" font-size="7.3" text-anchor="end" textLength="10.60" lengthAdjust="spacingAndGlyphs" >0.7</text>
<line x1="295.90" y1="447.24" x2="298.90" y2="447.24" stroke="#1a1a1a" stroke-width="0.9"/>
<text x="292.30" y="449.84" font-size="7.3" text-anchor="end" textLength="10.60" lengthAdjust="spacingAndGlyphs" >0.8</text>
<line x1="295.90" y1="456.52" x2="298.90" y2="456.52" stroke="#1a1a1a" stroke-width="0.9"/>
<text x="292.30" y="459.12" font-size="7.3" text-anchor="end" textLength="10.60" lengthAdjust="spacingAndGlyphs" >0.9</text>
<line x1="295.90" y1="465.80" x2="298.90" y2="465.80" stroke="#1a1a1a" stroke-width="0.9"/>
<text x="292.30" y="468.40" font-size="7.3" text-anchor="end" textLength="10.60" lengthAdjust="spacingAndGlyphs" >1.0</text>
<text x="273.50" y="422.00" font-size="8.6" text-anchor="middle" textLength="7.80" lengthAdjust="spacingAndGlyphs" >CI</text>
<line x1="298.90" y1="465.80" x2="298.40" y2="468.60" stroke="#1a1a1a" stroke-width="0.9"/>
<text x="294.40" y="479.20" font-size="7.8" text-anchor="middle" textLength="13.50" lengthAdjust="spacingAndGlyphs" >0.25</text>
<line x1="323.06" y1="471.60" x2="322.56" y2="474.40" stroke="#1a1a1a" stroke-width="0.9"/>
<text x="322.20" y="484.60" font-size="7.8" text-anchor="middle" textLength="13.50" lengthAdjust="spacingAndGlyphs" >0.79</text>
<line x1="347.22" y1="477.40" x2="346.72" y2="480.20" stroke="#1a1a1a" stroke-width="0.9"/>
<text x="345.60" y="490.80" font-size="7.8" text-anchor="middle" textLength="17.50" lengthAdjust="spacingAndGlyphs" >0.025</text>
<line x1="371.38" y1="483.20" x2="370.88" y2="486.00" stroke="#1a1a1a" stroke-width="0.9"/>
<text x="370.60" y="496.20" font-size="7.8" text-anchor="middle" textLength="17.50" lengthAdjust="spacingAndGlyphs" >0.008</text>
<line x1="395.54" y1="489.00" x2="395.04" y2="491.80" stroke="#1a1a1a" stroke-width="0.9"/>
<text x="395.40" y="502.10" font-size="7.8" text-anchor="middle" textLength="17.50" lengthAdjust="spacingAndGlyphs" >0.003</text>
<line x1="419.70" y1="494.80" x2="419.20" y2="497.60" stroke="#1a1a1a" stroke-width="0.9"/>
<text x="419.10" y="508.00" font-size="7.8" text-anchor="middle" textLength="4.00" lengthAdjust="spacingAndGlyphs" >0</text>
<line x1="419.70" y1="494.80" x2="422.70" y2="494.80" stroke="#1a1a1a" stroke-width="0.9"/>
<text x="426.40" y="498.60" font-size="7.8" textLength="4.00" lengthAdjust="spacingAndGlyphs" >0</text>
<line x1="424.12" y1="481.44" x2="427.12" y2="481.44" stroke="#1a1a1a" stroke-width="0.9"/>
<text x="430.20" y="485.20" font-size="7.8" textLength="13.50" lengthAdjust="spacingAndGlyphs" >0.02</text>
<line x1="428.54" y1="468.08" x2="431.54" y2="468.08" stroke="#1a1a1a" stroke-width="0.9"/>
<text x="434.10" y="472.00" font-size="7.8" textLength="17.50" lengthAdjust="spacingAndGlyphs" >0.063</text>
<line x1="432.96" y1="454.72" x2="435.96" y2="454.72" stroke="#1a1a1a" stroke-width="0.9"/>
<text x="438.90" y="459.80" font-size="7.8" textLength="9.50" lengthAdjust="spacingAndGlyphs" >0.2</text>
<line x1="437.38" y1="441.36" x2="440.38" y2="441.36" stroke="#1a1a1a" stroke-width="0.9"/>
<text x="442.70" y="446.30" font-size="7.8" textLength="17.50" lengthAdjust="spacingAndGlyphs" >0.632</text>
<line x1="441.80" y1="428.00" x2="444.80" y2="428.00" stroke="#1a1a1a" stroke-width="0.9"/>
<text x="448.40" y="432.80" font-size="7.8" textLength="4.00" lengthAdjust="spacingAndGlyphs" >2</text>
<text x="352.00" y="508.60" font-size="8.8" text-anchor="middle" textLength="62.30" lengthAdjust="spacingAndGlyphs" >[A419259] (µM)</text>
<text x="484.90" y="467.30" font-size="8.8" text-anchor="middle" textLength="49.00" lengthAdjust="spacingAndGlyphs" >[DD-03-007]</text>
<text x="485.20" y="478.30" font-size="8.8" text-anchor="middle" textLength="19.00" lengthAdjust="spacingAndGlyphs" >(µM)</text>
<path d="M58.55 568.25L106.25 539.51L201.10 548.33M58.53 577.42L106.22 546.41L201.03 555.92M58.52 586.58L106.19 553.31L200.96 563.51M58.50 595.73L106.16 560.20L200.89 571.09M58.48 604.88L106.13 567.08L200.82 578.66M58.46 614.02L106.10 573.96L200.75 586.23M58.45 623.14L106.07 580.84L200.68 593.79M58.43 632.26L106.04 587.71L200.61 601.34M58.41 641.37L106.01 594.57L200.54 608.89M58.39 650.48L105.98 601.43L200.47 616.43M58.38 659.57L105.95 608.29L200.40 623.97" fill="none" stroke="#c4c4c4" stroke-width="0.5"/>
<polygon points="116.94,568.79 123.66,569.22 123.66,569.22 115.16,574.08" fill="#6f4944" stroke="#6f4944" stroke-width="0.6" stroke-linejoin="round"/>
<polygon points="123.66,569.22 123.66,569.22 120.06,575.77 113.23,579.82 115.16,574.08" fill="#724640" stroke="#724640" stroke-width="0.6" stroke-linejoin="round"/>
<polygon points="120.06,575.77 116.50,582.26 111.35,585.43 113.23,579.82" fill="#785a56" stroke="#785a56" stroke-width="0.6" stroke-linejoin="round"/>
<polygon points="116.50,582.26 112.96,588.71 109.52,590.89 111.35,585.43" fill="#7b6360" stroke="#7b6360" stroke-width="0.6" stroke-linejoin="round"/>
<polygon points="112.96,588.71 109.45,595.10 107.72,596.23 109.52,590.89" fill="#7f6b68" stroke="#7f6b68" stroke-width="0.6" stroke-linejoin="round"/>
<polygon points="109.45,595.10 105.98,601.43 107.72,596.23" fill="#827371" stroke="#827371" stroke-width="0.6" stroke-linejoin="round"/>
<polygon points="105.98,601.43 105.98,601.43 105.98,601.43" fill="#877d7c" stroke="#877d7c" stroke-width="0.6" stroke-linejoin="round"/>
<polygon points="114.07,575.07 116.94,568.79 115.16,574.08" fill="#6f4944" stroke="#6f4944" stroke-width="0.6" stroke-linejoin="round"/>
<polygon points="110.90,581.99 114.07,575.07 115.16,574.08 113.23,579.82" fill="#724640" stroke="#724640" stroke-width="0.6" stroke-linejoin="round"/>
<polygon points="107.75,588.87 110.90,581.99 113.23,579.82 111.35,585.43" fill="#785a56" stroke="#785a56" stroke-width="0.6" stroke-linejoin="round"/>
<polygon points="104.63,595.69 107.75,588.87 111.35,585.43 109.52,590.89" fill="#7b6360" stroke="#7b6360" stroke-width="0.6" stroke-linejoin="round"/>
<polygon points="101.52,602.47 104.63,595.69 109.52,590.89 107.72,596.23" fill="#7f6b68" stroke="#7f6b68" stroke-width="0.6" stroke-linejoin="round"/>
<polygon points="98.45,609.19 101.52,602.47 107.72,596.23 105.98,601.43" fill="#827371" stroke="#827371" stroke-width="0.6" stroke-linejoin="round"/>
<polygon points="98.45,609.19 98.45,609.19 105.98,601.43 105.98,601.43" fill="#877d7c" stroke="#877d7c" stroke-width="0.6" stroke-linejoin="round"/>
<polygon points="116.94,568.79 141.87,568.59 123.66,569.22" fill="#955e56" stroke="#955e56" stroke-width="0.6" stroke-linejoin="round"/>
<polygon points="123.66,569.22 123.66,569.22 123.66,569.22" fill="#9b5950" stroke="#9b5950" stroke-width="0.6" stroke-linejoin="round"/>
<polygon points="136.00,570.37 136.00,570.37 136.00,570.37" fill="#985952" stroke="#985952" stroke-width="0.6" stroke-linejoin="round"/>
<polygon points="116.94,568.79 136.00,570.37 141.87,568.59" fill="#9e625a" stroke="#9e625a" stroke-width="0.6" stroke-linejoin="round"/>
<polygon points="155.86,568.95 159.44,568.21 149.25,568.78" fill="#91564f" stroke="#91564f" stroke-width="0.6" stroke-linejoin="round"/>
<polygon points="159.44,568.21 160.79,567.93 141.87,568.59 149.25,568.78" fill="#975f57" stroke="#975f57" stroke-width="0.6" stroke-linejoin="round"/>
<polygon points="136.00,570.37 155.86,568.95 149.25,568.78 136.00,570.37" fill="#90554e" stroke="#90554e" stroke-width="0.6" stroke-linejoin="round"/>
<polygon points="136.00,570.37 136.00,570.37 149.25,568.78 141.87,568.59" fill="#965e56" stroke="#965e56" stroke-width="0.6" stroke-linejoin="round"/>
<polygon points="155.86,568.95 180.46,567.99 173.82,567.97 159.44,568.21" fill="#935750" stroke="#935750" stroke-width="0.6" stroke-linejoin="round"/>
<polygon points="173.82,567.97 160.79,567.93 159.44,568.21" fill="#996058" stroke="#996058" stroke-width="0.6" stroke-linejoin="round"/>
<polygon points="109.46,569.08 116.05,568.82 108.23,573.57" fill="#6b443f" stroke="#6b443f" stroke-width="0.6" stroke-linejoin="round"/>
<polygon points="116.05,568.82 116.94,568.79 114.07,575.07 106.50,579.85 108.23,573.57" fill="#6f4944" stroke="#6f4944" stroke-width="0.6" stroke-linejoin="round"/>
<polygon points="114.07,575.07 110.90,581.99 104.82,585.99 106.50,579.85" fill="#724640" stroke="#724640" stroke-width="0.6" stroke-linejoin="round"/>
<polygon points="110.90,581.99 107.75,588.87 103.17,591.99 104.82,585.99" fill="#785a56" stroke="#785a56" stroke-width="0.6" stroke-linejoin="round"/>
<polygon points="107.75,588.87 104.63,595.69 101.56,597.86 103.17,591.99" fill="#7b6360" stroke="#7b6360" stroke-width="0.6" stroke-linejoin="round"/>
<polygon points="104.63,595.69 101.52,602.47 99.99,603.59 101.56,597.86" fill="#7f6b68" stroke="#7f6b68" stroke-width="0.6" stroke-linejoin="round"/>
<polygon points="101.52,602.47 98.45,609.19 99.99,603.59" fill="#827371" stroke="#827371" stroke-width="0.6" stroke-linejoin="round"/>
<polygon points="98.45,609.19 98.45,609.19 98.45,609.19" fill="#877d7c" stroke="#877d7c" stroke-width="0.6" stroke-linejoin="round"/>
<polygon points="107.39,574.28 109.46,569.08 108.23,573.57" fill="#6b443f" stroke="#6b443f" stroke-width="0.6" stroke-linejoin="round"/>
<polygon points="104.46,581.66 107.39,574.28 108.23,573.57 106.50,579.85" fill="#6f4944" stroke="#6f4944" stroke-width="0.6" stroke-linejoin="round"/>
<polygon points="101.54,588.99 104.46,581.66 106.50,579.85 104.82,585.99" fill="#724640" stroke="#724640" stroke-width="0.6" stroke-linejoin="round"/>
<polygon points="98.65,596.27 101.54,588.99 104.82,585.99 103.17,591.99" fill="#785a56" stroke="#785a56" stroke-width="0.6" stroke-linejoin="round"/>
<polygon points="95.78,603.50 98.65,596.27 103.17,591.99 101.56,597.86" fill="#7b6360" stroke="#7b6360" stroke-width="0.6" stroke-linejoin="round"/>
<polygon points="92.92,610.68 95.78,603.50 101.56,597.86 99.99,603.59" fill="#7f6b68" stroke="#7f6b68" stroke-width="0.6" stroke-linejoin="round"/>
<polygon points="90.09,617.81 92.92,610.68 99.99,603.59 98.45,609.19" fill="#827371" stroke="#827371" stroke-width="0.6" stroke-linejoin="round"/>
<polygon points="90.09,617.81 90.09,617.81 98.45,609.19 98.45,609.19" fill="#877d7c" stroke="#877d7c" stroke-width="0.6" stroke-linejoin="round"/>
<polygon points="129.47,569.17 129.47,569.17 129.47,569.17" fill="#915750" stroke="#915750" stroke-width="0.6" stroke-linejoin="round"/>
<polygon points="129.47,569.17 136.00,570.37 136.00,570.37 118.00,568.82" fill="#955750" stroke="#955750" stroke-width="0.6" stroke-linejoin="round"/>
<polygon points="136.00,570.37 136.00,570.37 116.94,568.79 118.00,568.82" fill="#9a6059" stroke="#9a6059" stroke-width="0.6" stroke-linejoin="round"/>
<polygon points="180.73,568.77 180.46,567.99 180.68,568.86" fill="#b8685f" stroke="#b8685f" stroke-width="0.6" stroke-linejoin="round"/>
<polygon points="183.50,576.54 180.73,568.77 180.68,568.86 182.94,577.58" fill="#c0746a" stroke="#c0746a" stroke-width="0.6" stroke-linejoin="round"/>
<polygon points="186.29,584.35 183.50,576.54 182.94,577.58 185.25,586.48" fill="#c76e61" stroke="#c76e61" stroke-width="0.6" stroke-linejoin="round"/>
<polygon points="189.08,592.20 186.29,584.35 185.25,586.48 187.61,595.57" fill="#d3978f" stroke="#d3978f" stroke-width="0.6" stroke-linejoin="round"/>
<polygon points="191.89,600.08 189.08,592.20 187.61,595.57 190.01,604.84" fill="#d9a9a3" stroke="#d9a9a3" stroke-width="0.6" stroke-linejoin="round"/>
<polygon points="194.72,608.01 191.89,600.08 190.01,604.84 192.46,614.31" fill="#e0b8b3" stroke="#e0b8b3" stroke-width="0.6" stroke-linejoin="round"/>
<polygon points="197.55,615.97 194.72,608.01 192.46,614.31 194.97,623.98" fill="#e7c9c4" stroke="#e7c9c4" stroke-width="0.6" stroke-linejoin="round"/>
<polygon points="197.53,633.85 200.40,623.97 197.55,615.97 194.97,623.98" fill="#f1dddb" stroke="#f1dddb" stroke-width="0.6" stroke-linejoin="round"/>
<polygon points="155.86,568.95 176.50,575.31 180.46,567.99" fill="#a76058" stroke="#a76058" stroke-width="0.6" stroke-linejoin="round"/>
<polygon points="176.50,575.31 176.50,575.31 176.50,575.31" fill="#ad6a61" stroke="#ad6a61" stroke-width="0.6" stroke-linejoin="round"/>
<polygon points="129.47,569.17 129.47,569.17 129.47,569.17" fill="#8e564f" stroke="#8e564f" stroke-width="0.6" stroke-linejoin="round"/>
<polygon points="109.46,569.08 129.47,569.17 118.00,568.82 116.05,568.82" fill="#93564f" stroke="#93564f" stroke-width="0.6" stroke-linejoin="round"/>
<polygon points="118.00,568.82 116.94,568.79 116.05,568.82" fill="#985f58" stroke="#985f58" stroke-width="0.6" stroke-linejoin="round"/>
<polygon points="176.50,575.31 176.50,575.31 180.68,568.86 180.46,567.99" fill="#b9685f" stroke="#b9685f" stroke-width="0.6" stroke-linejoin="round"/>
<polygon points="176.50,575.31 179.46,583.54 182.94,577.58 180.68,568.86 176.50,575.31" fill="#c0746a" stroke="#c0746a" stroke-width="0.6" stroke-linejoin="round"/>
<polygon points="179.46,583.54 182.43,591.82 185.25,586.48 182.94,577.58" fill="#c76e61" stroke="#c76e61" stroke-width="0.6" stroke-linejoin="round"/>
<polygon points="182.43,591.82 185.42,600.14 187.61,595.57 185.25,586.48" fill="#d3978f" stroke="#d3978f" stroke-width="0.6" stroke-linejoin="round"/>
<polygon points="185.42,600.14 188.42,608.50 190.01,604.84 187.61,595.57" fill="#daa9a3" stroke="#daa9a3" stroke-width="0.6" stroke-linejoin="round"/>
<polygon points="188.42,608.50 191.44,616.91 192.46,614.31 190.01,604.84" fill="#e1b9b3" stroke="#e1b9b3" stroke-width="0.6" stroke-linejoin="round"/>
<polygon points="191.44,616.91 194.48,625.36 194.97,623.98 192.46,614.31" fill="#e7c9c5" stroke="#e7c9c5" stroke-width="0.6" stroke-linejoin="round"/>
<polygon points="194.48,625.36 197.53,633.85 194.97,623.98" fill="#f1dddb" stroke="#f1dddb" stroke-width="0.6" stroke-linejoin="round"/>
<polygon points="150.37,567.63 153.20,568.31 145.33,568.60" fill="#89534d" stroke="#89534d" stroke-width="0.6" stroke-linejoin="round"/>
<polygon points="153.20,568.31 155.86,568.95 136.00,570.37 145.33,568.60" fill="#8d544d" stroke="#8d544d" stroke-width="0.6" stroke-linejoin="round"/>
<polygon points="136.00,570.37 136.00,570.37 136.00,570.37" fill="#925c55" stroke="#925c55" stroke-width="0.6" stroke-linejoin="round"/>
<polygon points="106.55,575.00 109.46,569.08 107.39,574.28" fill="#6b443f" stroke="#6b443f" stroke-width="0.6" stroke-linejoin="round"/>
<polygon points="102.36,583.52 106.55,575.00 107.39,574.28 104.46,581.66" fill="#6f4944" stroke="#6f4944" stroke-width="0.6" stroke-linejoin="round"/>
<polygon points="98.12,592.13 102.36,583.52 104.46,581.66 101.54,588.99" fill="#724640" stroke="#724640" stroke-width="0.6" stroke-linejoin="round"/>
<polygon points="93.85,600.82 98.12,592.13 101.54,588.99 98.65,596.27" fill="#785a56" stroke="#785a56" stroke-width="0.6" stroke-linejoin="round"/>
<polygon points="89.53,609.60 93.85,600.82 98.65,596.27 95.78,603.50" fill="#7b6360" stroke="#7b6360" stroke-width="0.6" stroke-linejoin="round"/>
<polygon points="85.16,618.47 89.53,609.60 95.78,603.50 92.92,610.68" fill="#7f6b68" stroke="#7f6b68" stroke-width="0.6" stroke-linejoin="round"/>
<polygon points="80.75,627.43 85.16,618.47 92.92,610.68 90.09,617.81" fill="#827371" stroke="#827371" stroke-width="0.6" stroke-linejoin="round"/>
<polygon points="80.75,627.43 80.75,627.43 90.09,617.81 90.09,617.81" fill="#877d7c" stroke="#877d7c" stroke-width="0.6" stroke-linejoin="round"/>
<polygon points="129.47,569.17 150.37,567.63 145.33,568.60 129.47,569.17" fill="#89534d" stroke="#89534d" stroke-width="0.6" stroke-linejoin="round"/>
<polygon points="129.47,569.17 129.47,569.17 145.33,568.60 136.00,570.37" fill="#8d544d" stroke="#8d544d" stroke-width="0.6" stroke-linejoin="round"/>
<polygon points="136.00,570.37 136.00,570.37 136.00,570.37" fill="#925c55" stroke="#925c55" stroke-width="0.6" stroke-linejoin="round"/>
<polygon points="150.37,567.63 159.30,570.26 153.20,568.31" fill="#9a5b54" stroke="#9a5b54" stroke-width="0.6" stroke-linejoin="round"/>
<polygon points="159.30,570.26 176.50,575.31 155.86,568.95 153.20,568.31" fill="#9f5c55" stroke="#9f5c55" stroke-width="0.6" stroke-linejoin="round"/>
<polygon points="176.50,575.31 176.50,575.31 176.50,575.31" fill="#a5665e" stroke="#a5665e" stroke-width="0.6" stroke-linejoin="round"/>
<polygon points="105.35,578.08 109.46,569.08 106.55,575.00" fill="#6b443f" stroke="#6b443f" stroke-width="0.6" stroke-linejoin="round"/>
<polygon points="99.83,589.91 101.00,587.60 105.35,578.08 106.55,575.00 102.36,583.52" fill="#6f4944" stroke="#6f4944" stroke-width="0.6" stroke-linejoin="round"/>
<polygon points="95.95,597.55 99.83,589.91 102.36,583.52 98.12,592.13" fill="#724640" stroke="#724640" stroke-width="0.6" stroke-linejoin="round"/>
<polygon points="92.10,605.12 95.95,597.55 98.12,592.13 93.85,600.82" fill="#785a56" stroke="#785a56" stroke-width="0.6" stroke-linejoin="round"/>
<polygon points="88.28,612.62 92.10,605.12 93.85,600.82 89.53,609.60" fill="#7b6360" stroke="#7b6360" stroke-width="0.6" stroke-linejoin="round"/>
<polygon points="84.50,620.06 88.28,612.62 89.53,609.60 85.16,618.47" fill="#7f6b68" stroke="#7f6b68" stroke-width="0.6" stroke-linejoin="round"/>
<polygon points="80.75,627.43 84.50,620.06 85.16,618.47" fill="#827371" stroke="#827371" stroke-width="0.6" stroke-linejoin="round"/>
<polygon points="80.75,627.43 80.75,627.43 80.75,627.43" fill="#877d7c" stroke="#877d7c" stroke-width="0.6" stroke-linejoin="round"/>
<polygon points="172.07,582.67 172.07,582.67 176.50,575.31 176.50,575.31" fill="#b9685f" stroke="#b9685f" stroke-width="0.6" stroke-linejoin="round"/>
<polygon points="172.07,582.67 175.83,590.24 179.46,583.54 176.50,575.31" fill="#c0746a" stroke="#c0746a" stroke-width="0.6" stroke-linejoin="round"/>
<polygon points="175.83,590.24 179.55,597.72 182.43,591.82 179.46,583.54" fill="#c76e61" stroke="#c76e61" stroke-width="0.6" stroke-linejoin="round"/>
<polygon points="179.55,597.72 183.23,605.11 185.42,600.14 182.43,591.82" fill="#d3978f" stroke="#d3978f" stroke-width="0.6" stroke-linejoin="round"/>
<polygon points="183.23,605.11 186.87,612.42 188.42,608.50 185.42,600.14" fill="#d9a9a3" stroke="#d9a9a3" stroke-width="0.6" stroke-linejoin="round"/>
<polygon points="186.87,612.42 190.46,619.64 191.44,616.91 188.42,608.50" fill="#e1b9b3" stroke="#e1b9b3" stroke-width="0.6" stroke-linejoin="round"/>
<polygon points="190.46,619.64 194.02,626.79 194.48,625.36 191.44,616.91" fill="#e7c9c4" stroke="#e7c9c4" stroke-width="0.6" stroke-linejoin="round"/>
<polygon points="194.02,626.79 197.53,633.85 194.48,625.36" fill="#f1dddb" stroke="#f1dddb" stroke-width="0.6" stroke-linejoin="round"/>
<polygon points="122.12,572.05 129.47,569.17 129.47,569.17 113.97,570.14" fill="#915750" stroke="#915750" stroke-width="0.6" stroke-linejoin="round"/>
<polygon points="129.47,569.17 129.47,569.17 109.46,569.08 113.97,570.14" fill="#955750" stroke="#955750" stroke-width="0.6" stroke-linejoin="round"/>
<polygon points="150.37,567.63 157.50,572.58 159.30,570.26" fill="#ad655c" stroke="#ad655c" stroke-width="0.6" stroke-linejoin="round"/>
<polygon points="157.50,572.58 172.07,582.67 176.50,575.31 159.30,570.26" fill="#b2655d" stroke="#b2655d" stroke-width="0.6" stroke-linejoin="round"/>
<polygon points="172.07,582.67 172.07,582.67 176.50,575.31 176.50,575.31" fill="#b97167" stroke="#b97167" stroke-width="0.6" stroke-linejoin="round"/>
<polygon points="117.24,575.65 122.12,572.05 113.97,570.14" fill="#754944" stroke="#754944" stroke-width="0.6" stroke-linejoin="round"/>
<polygon points="107.62,582.73 117.24,575.65 113.97,570.14 109.46,569.08 105.35,578.08" fill="#784a44" stroke="#784a44" stroke-width="0.6" stroke-linejoin="round"/>
<polygon points="101.00,587.60 107.62,582.73 105.35,578.08" fill="#7c514b" stroke="#7c514b" stroke-width="0.6" stroke-linejoin="round"/>
<polygon points="122.12,572.05 150.37,567.63 129.47,569.17" fill="#8d554e" stroke="#8d554e" stroke-width="0.6" stroke-linejoin="round"/>
<polygon points="129.47,569.17 129.47,569.17 129.47,569.17" fill="#91554f" stroke="#91554f" stroke-width="0.6" stroke-linejoin="round"/>
<polygon points="172.07,582.67 172.07,582.67 172.07,582.67" fill="#b9685f" stroke="#b9685f" stroke-width="0.6" stroke-linejoin="round"/>
<polygon points="172.07,582.67 175.19,591.42 175.83,590.24" fill="#c0746a" stroke="#c0746a" stroke-width="0.6" stroke-linejoin="round"/>
<polygon points="175.19,591.42 178.33,600.22 179.55,597.72 175.83,590.24" fill="#c76e61" stroke="#c76e61" stroke-width="0.6" stroke-linejoin="round"/>
<polygon points="178.33,600.22 181.49,609.07 183.23,605.11 179.55,597.72" fill="#d3978f" stroke="#d3978f" stroke-width="0.6" stroke-linejoin="round"/>
<polygon points="181.49,609.07 184.67,617.96 186.87,612.42 183.23,605.11" fill="#d9a9a3" stroke="#d9a9a3" stroke-width="0.6" stroke-linejoin="round"/>
<polygon points="184.67,617.96 187.86,626.91 190.46,619.64 186.87,612.42" fill="#e1b9b3" stroke="#e1b9b3" stroke-width="0.6" stroke-linejoin="round"/>
<polygon points="187.86,626.91 191.07,635.90 194.02,626.79 190.46,619.64" fill="#e7c9c4" stroke="#e7c9c4" stroke-width="0.6" stroke-linejoin="round"/>
<polygon points="191.07,635.90 194.30,644.94 197.53,633.85 194.02,626.79" fill="#f1dddb" stroke="#f1dddb" stroke-width="0.6" stroke-linejoin="round"/>
<polygon points="91.54,592.65 101.00,587.60 99.83,589.91 90.12,597.25" fill="#6f4944" stroke="#6f4944" stroke-width="0.6" stroke-linejoin="round"/>
<polygon points="99.83,589.91 95.95,597.55 88.13,603.65 90.12,597.25" fill="#724640" stroke="#724640" stroke-width="0.6" stroke-linejoin="round"/>
<polygon points="95.95,597.55 92.10,605.12 86.20,609.87 88.13,603.65" fill="#785a56" stroke="#785a56" stroke-width="0.6" stroke-linejoin="round"/>
<polygon points="92.10,605.12 88.28,612.62 84.33,615.89 86.20,609.87" fill="#7b6360" stroke="#7b6360" stroke-width="0.6" stroke-linejoin="round"/>
<polygon points="88.28,612.62 84.50,620.06 82.52,621.75 84.33,615.89" fill="#7f6b68" stroke="#7f6b68" stroke-width="0.6" stroke-linejoin="round"/>
<polygon points="84.50,620.06 80.75,627.43 82.52,621.75" fill="#827371" stroke="#827371" stroke-width="0.6" stroke-linejoin="round"/>
<polygon points="80.75,627.43 80.75,627.43 80.75,627.43" fill="#877d7c" stroke="#877d7c" stroke-width="0.6" stroke-linejoin="round"/>
<polygon points="144.10,579.14 144.10,579.14 157.50,572.58 150.37,567.63" fill="#af655c" stroke="#af655c" stroke-width="0.6" stroke-linejoin="round"/>
<polygon points="144.10,579.14 172.07,582.67 157.50,572.58 144.10,579.14" fill="#b4665d" stroke="#b4665d" stroke-width="0.6" stroke-linejoin="round"/>
<polygon points="172.07,582.67 172.07,582.67 172.07,582.67" fill="#bb7268" stroke="#bb7268" stroke-width="0.6" stroke-linejoin="round"/>
<polygon points="122.12,572.05 144.10,579.14 150.37,567.63" fill="#a36058" stroke="#a36058" stroke-width="0.6" stroke-linejoin="round"/>
<polygon points="144.10,579.14 144.10,579.14 144.10,579.14" fill="#a86058" stroke="#a86058" stroke-width="0.6" stroke-linejoin="round"/>
<polygon points="89.08,598.41 91.54,592.65 90.12,597.25" fill="#6f4944" stroke="#6f4944" stroke-width="0.6" stroke-linejoin="round"/>
<polygon points="85.60,606.58 89.08,598.41 90.12,597.25 88.13,603.65" fill="#724640" stroke="#724640" stroke-width="0.6" stroke-linejoin="round"/>
<polygon points="82.14,614.68 85.60,606.58 88.13,603.65 86.20,609.87" fill="#785a56" stroke="#785a56" stroke-width="0.6" stroke-linejoin="round"/>
<polygon points="78.71,622.71 82.14,614.68 86.20,609.87 84.33,615.89" fill="#7b6360" stroke="#7b6360" stroke-width="0.6" stroke-linejoin="round"/>
<polygon points="75.31,630.68 78.71,622.71 84.33,615.89 82.52,621.75" fill="#7f6b68" stroke="#7f6b68" stroke-width="0.6" stroke-linejoin="round"/>
<polygon points="71.93,638.58 75.31,630.68 82.52,621.75 80.75,627.43 80.75,627.43" fill="#827371" stroke="#827371" stroke-width="0.6" stroke-linejoin="round"/>
<polygon points="70.26,642.51 71.93,638.58 80.75,627.43 80.75,627.43" fill="#877d7c" stroke="#877d7c" stroke-width="0.6" stroke-linejoin="round"/>
<polygon points="113.86,577.62 122.12,572.05 117.24,575.65" fill="#6e4641" stroke="#6e4641" stroke-width="0.6" stroke-linejoin="round"/>
<polygon points="96.81,589.10 113.86,577.62 117.24,575.65 107.62,582.73" fill="#714642" stroke="#714642" stroke-width="0.6" stroke-linejoin="round"/>
<polygon points="91.54,592.65 96.81,589.10 107.62,582.73 101.00,587.60" fill="#754d47" stroke="#754d47" stroke-width="0.6" stroke-linejoin="round"/>
<polygon points="172.07,582.67 172.07,582.67 172.07,582.67" fill="#b9685f" stroke="#b9685f" stroke-width="0.6" stroke-linejoin="round"/>
<polygon points="175.19,591.42 172.07,582.67 174.54,592.62" fill="#c0746a" stroke="#c0746a" stroke-width="0.6" stroke-linejoin="round"/>
<polygon points="178.33,600.22 175.19,591.42 174.54,592.62 177.07,602.81" fill="#c76e61" stroke="#c76e61" stroke-width="0.6" stroke-linejoin="round"/>
<polygon points="181.49,609.07 178.33,600.22 177.07,602.81 179.66,613.23" fill="#d3978f" stroke="#d3978f" stroke-width="0.6" stroke-linejoin="round"/>
<polygon points="184.67,617.96 181.49,609.07 179.66,613.23 182.31,623.90" fill="#d9a9a3" stroke="#d9a9a3" stroke-width="0.6" stroke-linejoin="round"/>
<polygon points="187.86,626.91 184.67,617.96 182.31,623.90 185.03,634.83" fill="#e1b9b3" stroke="#e1b9b3" stroke-width="0.6" stroke-linejoin="round"/>
<polygon points="191.07,635.90 187.86,626.91 185.03,634.83 187.81,646.02" fill="#e7c9c4" stroke="#e7c9c4" stroke-width="0.6" stroke-linejoin="round"/>
<polygon points="190.65,657.48 194.30,644.94 191.07,635.90 187.81,646.02" fill="#f1dddb" stroke="#f1dddb" stroke-width="0.6" stroke-linejoin="round"/>
<polygon points="144.10,579.14 144.10,579.14 144.10,579.14" fill="#af655c" stroke="#af655c" stroke-width="0.6" stroke-linejoin="round"/>
<polygon points="144.10,579.14 159.28,589.89 172.07,582.67 172.07,582.67" fill="#b4665d" stroke="#b4665d" stroke-width="0.6" stroke-linejoin="round"/>
<polygon points="159.28,589.89 167.04,595.39 172.07,582.67 172.07,582.67" fill="#bb7268" stroke="#bb7268" stroke-width="0.6" stroke-linejoin="round"/>
<polygon points="113.77,583.42 144.10,579.14 122.12,572.05" fill="#a36057" stroke="#a36057" stroke-width="0.6" stroke-linejoin="round"/>
<polygon points="144.10,579.14 144.10,579.14 144.10,579.14" fill="#a86058" stroke="#a86058" stroke-width="0.6" stroke-linejoin="round"/>
<polygon points="172.07,582.67 172.07,582.67 172.07,582.67" fill="#ba6960" stroke="#ba6960" stroke-width="0.6" stroke-linejoin="round"/>
<polygon points="167.04,595.39 168.82,600.08 174.54,592.62 172.07,582.67" fill="#c1756b" stroke="#c1756b" stroke-width="0.6" stroke-linejoin="round"/>
<polygon points="168.82,600.08 172.40,609.49 177.07,602.81 174.54,592.62" fill="#c96f62" stroke="#c96f62" stroke-width="0.6" stroke-linejoin="round"/>
<polygon points="172.40,609.49 176.01,618.97 179.66,613.23 177.07,602.81" fill="#d59890" stroke="#d59890" stroke-width="0.6" stroke-linejoin="round"/>
<polygon points="176.01,618.97 179.63,628.51 182.31,623.90 179.66,613.23" fill="#dbaaa4" stroke="#dbaaa4" stroke-width="0.6" stroke-linejoin="round"/>
<polygon points="179.63,628.51 183.28,638.10 185.03,634.83 182.31,623.90" fill="#e2bab5" stroke="#e2bab5" stroke-width="0.6" stroke-linejoin="round"/>
<polygon points="183.28,638.10 186.96,647.76 187.81,646.02 185.03,634.83" fill="#e9cbc6" stroke="#e9cbc6" stroke-width="0.6" stroke-linejoin="round"/>
<polygon points="186.96,647.76 190.65,657.48 187.81,646.02" fill="#f3dfdd" stroke="#f3dfdd" stroke-width="0.6" stroke-linejoin="round"/>
<polygon points="112.15,584.09 113.77,583.42 122.12,572.05 113.86,577.62" fill="#804e49" stroke="#804e49" stroke-width="0.6" stroke-linejoin="round"/>
<polygon points="96.22,590.71 112.15,584.09 113.86,577.62 96.81,589.10" fill="#834f49" stroke="#834f49" stroke-width="0.6" stroke-linejoin="round"/>
<polygon points="91.54,592.65 96.22,590.71 96.81,589.10" fill="#885750" stroke="#885750" stroke-width="0.6" stroke-linejoin="round"/>
<polygon points="88.19,599.41 91.54,592.65 89.08,598.41" fill="#6f4944" stroke="#6f4944" stroke-width="0.6" stroke-linejoin="round"/>
<polygon points="83.36,609.15 88.19,599.41 89.08,598.41 85.60,606.58" fill="#724640" stroke="#724640" stroke-width="0.6" stroke-linejoin="round"/>
<polygon points="78.48,619.01 83.36,609.15 85.60,606.58 82.14,614.68" fill="#785a56" stroke="#785a56" stroke-width="0.6" stroke-linejoin="round"/>
<polygon points="73.54,628.98 78.48,619.01 82.14,614.68 78.71,622.71" fill="#7b6360" stroke="#7b6360" stroke-width="0.6" stroke-linejoin="round"/>
<polygon points="68.54,639.06 73.54,628.98 78.71,622.71 75.31,630.68" fill="#7f6b68" stroke="#7f6b68" stroke-width="0.6" stroke-linejoin="round"/>
<polygon points="63.49,649.25 68.54,639.06 75.31,630.68 71.93,638.58" fill="#827371" stroke="#827371" stroke-width="0.6" stroke-linejoin="round"/>
<polygon points="58.38,659.57 63.49,649.25 71.93,638.58 70.26,642.51" fill="#877d7c" stroke="#877d7c" stroke-width="0.6" stroke-linejoin="round"/>
<polygon points="113.77,583.42 114.85,584.47 144.10,579.14 144.10,579.14" fill="#b1665d" stroke="#b1665d" stroke-width="0.6" stroke-linejoin="round"/>
<polygon points="114.85,584.47 125.76,595.11 140.63,592.13 144.10,579.14 144.10,579.14" fill="#b6675e" stroke="#b6675e" stroke-width="0.6" stroke-linejoin="round"/>
<polygon points="125.76,595.11 136.92,605.98 140.63,592.13" fill="#bd7369" stroke="#bd7369" stroke-width="0.6" stroke-linejoin="round"/>
<polygon points="136.92,605.98 136.92,605.98 136.92,605.98" fill="#c46d60" stroke="#c46d60" stroke-width="0.6" stroke-linejoin="round"/>
<polygon points="144.10,579.14 144.10,579.14 144.10,579.14" fill="#ae655c" stroke="#ae655c" stroke-width="0.6" stroke-linejoin="round"/>
<polygon points="159.28,589.89 144.10,579.14 149.14,591.49" fill="#b3665d" stroke="#b3665d" stroke-width="0.6" stroke-linejoin="round"/>
<polygon points="165.41,602.63 167.04,595.39 159.28,589.89 149.14,591.49 154.46,604.53" fill="#ba7167" stroke="#ba7167" stroke-width="0.6" stroke-linejoin="round"/>
<polygon points="161.97,617.95 165.41,602.63 154.46,604.53 160.08,618.31" fill="#c16b5f" stroke="#c16b5f" stroke-width="0.6" stroke-linejoin="round"/>
<polygon points="161.25,621.16 161.97,617.95 160.08,618.31" fill="#cc928b" stroke="#cc928b" stroke-width="0.6" stroke-linejoin="round"/>
<polygon points="113.37,584.38 113.77,583.42 112.15,584.09" fill="#814f49" stroke="#814f49" stroke-width="0.6" stroke-linejoin="round"/>
<polygon points="109.41,594.10 113.37,584.38 112.15,584.09 96.22,590.71" fill="#85504a" stroke="#85504a" stroke-width="0.6" stroke-linejoin="round"/>
<polygon points="105.41,603.91 109.41,594.10 96.22,590.71 91.54,592.65 90.46,599.77" fill="#8a5851" stroke="#8a5851" stroke-width="0.6" stroke-linejoin="round"/>
<polygon points="101.37,613.81 105.41,603.91 90.46,599.77 88.89,610.10" fill="#8e534b" stroke="#8e534b" stroke-width="0.6" stroke-linejoin="round"/>
<polygon points="97.29,623.80 101.37,613.81 88.89,610.10 87.29,620.62" fill="#966e69" stroke="#966e69" stroke-width="0.6" stroke-linejoin="round"/>
<polygon points="93.18,633.89 97.29,623.80 87.29,620.62 85.67,631.34" fill="#9a7a76" stroke="#9a7a76" stroke-width="0.6" stroke-linejoin="round"/>
<polygon points="89.02,644.07 93.18,633.89 85.67,631.34 84.01,642.26" fill="#9f8581" stroke="#9f8581" stroke-width="0.6" stroke-linejoin="round"/>
<polygon points="84.83,654.35 89.02,644.07 84.01,642.26 82.32,653.39" fill="#a3908d" stroke="#a3908d" stroke-width="0.6" stroke-linejoin="round"/>
<polygon points="80.59,664.73 84.83,654.35 82.32,653.39" fill="#aa9d9c" stroke="#aa9d9c" stroke-width="0.6" stroke-linejoin="round"/>
<polygon points="90.46,599.77 91.54,592.65 88.19,599.41" fill="#965e57" stroke="#965e57" stroke-width="0.6" stroke-linejoin="round"/>
<polygon points="88.89,610.10 90.46,599.77 88.19,599.41 83.36,609.15" fill="#9b5950" stroke="#9b5950" stroke-width="0.6" stroke-linejoin="round"/>
<polygon points="87.29,620.62 88.89,610.10 83.36,609.15 78.48,619.01" fill="#a47872" stroke="#a47872" stroke-width="0.6" stroke-linejoin="round"/>
<polygon points="85.67,631.34 87.29,620.62 78.48,619.01 73.54,628.98" fill="#a98581" stroke="#a98581" stroke-width="0.6" stroke-linejoin="round"/>
<polygon points="84.01,642.26 85.67,631.34 73.54,628.98 68.54,639.06" fill="#ae918d" stroke="#ae918d" stroke-width="0.6" stroke-linejoin="round"/>
<polygon points="82.32,653.39 84.01,642.26 68.54,639.06 63.49,649.25" fill="#b39d99" stroke="#b39d99" stroke-width="0.6" stroke-linejoin="round"/>
<polygon points="58.38,659.57 80.59,664.73 82.32,653.39 63.49,649.25" fill="#baacaa" stroke="#baacaa" stroke-width="0.6" stroke-linejoin="round"/>
<polygon points="144.10,579.14 144.10,579.14 144.10,579.14" fill="#aa635a" stroke="#aa635a" stroke-width="0.6" stroke-linejoin="round"/>
<polygon points="149.14,591.49 144.10,579.14 140.63,592.13" fill="#af645b" stroke="#af645b" stroke-width="0.6" stroke-linejoin="round"/>
<polygon points="136.92,605.98 136.92,605.98 154.46,604.53 149.14,591.49 140.63,592.13" fill="#b66f65" stroke="#b66f65" stroke-width="0.6" stroke-linejoin="round"/>
<polygon points="136.92,605.98 157.11,618.58 160.08,618.31 154.46,604.53 136.92,605.98" fill="#bd695d" stroke="#bd695d" stroke-width="0.6" stroke-linejoin="round"/>
<polygon points="157.11,618.58 161.25,621.16 160.08,618.31" fill="#c88f88" stroke="#c88f88" stroke-width="0.6" stroke-linejoin="round"/>
<polygon points="168.82,600.08 167.04,595.39 168.42,600.81" fill="#c0746a" stroke="#c0746a" stroke-width="0.6" stroke-linejoin="round"/>
<polygon points="172.40,609.49 168.82,600.08 168.42,600.81 171.23,611.85" fill="#c86e61" stroke="#c86e61" stroke-width="0.6" stroke-linejoin="round"/>
<polygon points="176.01,618.97 172.40,609.49 171.23,611.85 174.12,623.19" fill="#d4978f" stroke="#d4978f" stroke-width="0.6" stroke-linejoin="round"/>
<polygon points="179.63,628.51 176.01,618.97 174.12,623.19 177.09,634.84" fill="#daaaa3" stroke="#daaaa3" stroke-width="0.6" stroke-linejoin="round"/>
<polygon points="183.28,638.10 179.63,628.51 177.09,634.84 180.14,646.81" fill="#e1b9b4" stroke="#e1b9b4" stroke-width="0.6" stroke-linejoin="round"/>
<polygon points="186.96,647.76 183.28,638.10 180.14,646.81 183.27,659.12" fill="#e8c9c5" stroke="#e8c9c5" stroke-width="0.6" stroke-linejoin="round"/>
<polygon points="186.50,671.77 190.65,657.48 186.96,647.76 183.27,659.12" fill="#f2dedc" stroke="#f2dedc" stroke-width="0.6" stroke-linejoin="round"/>
<polygon points="168.42,600.81 167.04,595.39 165.41,602.63" fill="#c4766c" stroke="#c4766c" stroke-width="0.6" stroke-linejoin="round"/>
<polygon points="171.23,611.85 168.42,600.81 165.41,602.63 161.97,617.95" fill="#cb7063" stroke="#cb7063" stroke-width="0.6" stroke-linejoin="round"/>
<polygon points="161.25,621.16 165.37,629.43 174.12,623.19 171.23,611.85 161.97,617.95" fill="#d79a91" stroke="#d79a91" stroke-width="0.6" stroke-linejoin="round"/>
<polygon points="165.37,629.43 170.58,639.87 177.09,634.84 174.12,623.19" fill="#deaca6" stroke="#deaca6" stroke-width="0.6" stroke-linejoin="round"/>
<polygon points="170.58,639.87 175.83,650.40 180.14,646.81 177.09,634.84" fill="#e5bcb7" stroke="#e5bcb7" stroke-width="0.6" stroke-linejoin="round"/>
<polygon points="175.83,650.40 181.14,661.03 183.27,659.12 180.14,646.81" fill="#eccdc8" stroke="#eccdc8" stroke-width="0.6" stroke-linejoin="round"/>
<polygon points="181.14,661.03 186.50,671.77 183.27,659.12" fill="#f6e1e0" stroke="#f6e1e0" stroke-width="0.6" stroke-linejoin="round"/>
<polygon points="113.66,584.42 113.77,583.42 113.37,584.38" fill="#8a534d" stroke="#8a534d" stroke-width="0.6" stroke-linejoin="round"/>
<polygon points="112.51,594.57 113.66,584.42 113.37,584.38 109.41,594.10" fill="#8e544e" stroke="#8e544e" stroke-width="0.6" stroke-linejoin="round"/>
<polygon points="111.34,604.86 112.51,594.57 109.41,594.10 105.41,603.91" fill="#935d55" stroke="#935d55" stroke-width="0.6" stroke-linejoin="round"/>
<polygon points="110.15,615.32 111.34,604.86 105.41,603.91 101.37,613.81" fill="#98584f" stroke="#98584f" stroke-width="0.6" stroke-linejoin="round"/>
<polygon points="108.95,625.95 110.15,615.32 101.37,613.81 97.29,623.80" fill="#a17670" stroke="#a17670" stroke-width="0.6" stroke-linejoin="round"/>
<polygon points="107.73,636.74 108.95,625.95 97.29,623.80 93.18,633.89" fill="#a6837e" stroke="#a6837e" stroke-width="0.6" stroke-linejoin="round"/>
<polygon points="106.49,647.70 107.73,636.74 93.18,633.89 89.02,644.07" fill="#ab8e8a" stroke="#ab8e8a" stroke-width="0.6" stroke-linejoin="round"/>
<polygon points="105.23,658.83 106.49,647.70 89.02,644.07 84.83,654.35" fill="#af9a96" stroke="#af9a96" stroke-width="0.6" stroke-linejoin="round"/>
<polygon points="80.59,664.73 103.94,670.15 105.23,658.83 84.83,654.35" fill="#b7a8a7" stroke="#b7a8a7" stroke-width="0.6" stroke-linejoin="round"/>
<polygon points="114.85,584.47 113.77,583.42 113.94,584.46" fill="#9e5d55" stroke="#9e5d55" stroke-width="0.6" stroke-linejoin="round"/>
<polygon points="125.76,595.11 114.85,584.47 113.94,584.46 115.62,595.03" fill="#a35e56" stroke="#a35e56" stroke-width="0.6" stroke-linejoin="round"/>
<polygon points="136.92,605.98 136.92,605.98 125.76,595.11 115.62,595.03 117.34,605.83" fill="#a96860" stroke="#a96860" stroke-width="0.6" stroke-linejoin="round"/>
<polygon points="135.59,617.00 136.92,605.98 136.92,605.98 117.34,605.83 119.10,616.87" fill="#af6358" stroke="#af6358" stroke-width="0.6" stroke-linejoin="round"/>
<polygon points="134.24,628.26 135.59,617.00 119.10,616.87 120.90,628.15" fill="#b9867f" stroke="#b9867f" stroke-width="0.6" stroke-linejoin="round"/>
<polygon points="132.85,639.77 134.24,628.26 120.90,628.15 122.74,639.68" fill="#bf9590" stroke="#bf9590" stroke-width="0.6" stroke-linejoin="round"/>
<polygon points="131.44,651.53 132.85,639.77 122.74,639.68 124.62,651.46" fill="#c5a39e" stroke="#c5a39e" stroke-width="0.6" stroke-linejoin="round"/>
<polygon points="129.99,663.55 131.44,651.53 124.62,651.46 126.55,663.52" fill="#cbb1ad" stroke="#cbb1ad" stroke-width="0.6" stroke-linejoin="round"/>
<polygon points="128.51,675.85 129.99,663.55 126.55,663.52" fill="#d3c2c0" stroke="#d3c2c0" stroke-width="0.6" stroke-linejoin="round"/>
<polygon points="113.94,584.46 113.77,583.42 113.66,584.42" fill="#8a534d" stroke="#8a534d" stroke-width="0.6" stroke-linejoin="round"/>
<polygon points="115.62,595.03 113.94,584.46 113.66,584.42 112.51,594.57" fill="#8e544e" stroke="#8e544e" stroke-width="0.6" stroke-linejoin="round"/>
<polygon points="117.34,605.83 115.62,595.03 112.51,594.57 111.34,604.86" fill="#935d55" stroke="#935d55" stroke-width="0.6" stroke-linejoin="round"/>
<polygon points="119.10,616.87 117.34,605.83 111.34,604.86 110.15,615.32" fill="#98584f" stroke="#98584f" stroke-width="0.6" stroke-linejoin="round"/>
<polygon points="120.90,628.15 119.10,616.87 110.15,615.32 108.95,625.95" fill="#a17670" stroke="#a17670" stroke-width="0.6" stroke-linejoin="round"/>
<polygon points="122.74,639.68 120.90,628.15 108.95,625.95 107.73,636.74" fill="#a6837e" stroke="#a6837e" stroke-width="0.6" stroke-linejoin="round"/>
<polygon points="124.62,651.46 122.74,639.68 107.73,636.74 106.49,647.70" fill="#ab8e8a" stroke="#ab8e8a" stroke-width="0.6" stroke-linejoin="round"/>
<polygon points="126.55,663.52 124.62,651.46 106.49,647.70 105.23,658.83" fill="#af9a96" stroke="#af9a96" stroke-width="0.6" stroke-linejoin="round"/>
<polygon points="103.94,670.15 128.51,675.85 126.55,663.52 105.23,658.83" fill="#b7a8a7" stroke="#b7a8a7" stroke-width="0.6" stroke-linejoin="round"/>
<polygon points="136.92,605.98 136.92,605.98 136.92,605.98" fill="#a7675f" stroke="#a7675f" stroke-width="0.6" stroke-linejoin="round"/>
<polygon points="157.11,618.58 136.92,605.98 139.62,617.69" fill="#ae6257" stroke="#ae6257" stroke-width="0.6" stroke-linejoin="round"/>
<polygon points="160.17,630.71 161.25,621.16 157.11,618.58 139.62,617.69 142.39,629.74" fill="#b8857e" stroke="#b8857e" stroke-width="0.6" stroke-linejoin="round"/>
<polygon points="158.79,642.96 160.17,630.71 142.39,629.74 145.26,642.17" fill="#bd948f" stroke="#bd948f" stroke-width="0.6" stroke-linejoin="round"/>
<polygon points="157.37,655.56 158.79,642.96 145.26,642.17 148.21,654.99" fill="#c3a19d" stroke="#c3a19d" stroke-width="0.6" stroke-linejoin="round"/>
<polygon points="155.90,668.52 157.37,655.56 148.21,654.99 151.26,668.21" fill="#c9afab" stroke="#c9afab" stroke-width="0.6" stroke-linejoin="round"/>
<polygon points="154.40,681.86 155.90,668.52 151.26,668.21" fill="#d1c0bf" stroke="#d1c0bf" stroke-width="0.6" stroke-linejoin="round"/>
<polygon points="136.92,605.98 136.92,605.98 136.92,605.98" fill="#985f58" stroke="#985f58" stroke-width="0.6" stroke-linejoin="round"/>
<polygon points="139.62,617.69 136.92,605.98 135.59,617.00" fill="#9d5a51" stroke="#9d5a51" stroke-width="0.6" stroke-linejoin="round"/>
<polygon points="142.39,629.74 139.62,617.69 135.59,617.00 134.24,628.26" fill="#a67973" stroke="#a67973" stroke-width="0.6" stroke-linejoin="round"/>
<polygon points="145.26,642.17 142.39,629.74 134.24,628.26 132.85,639.77" fill="#ab8782" stroke="#ab8782" stroke-width="0.6" stroke-linejoin="round"/>
<polygon points="148.21,654.99 145.26,642.17 132.85,639.77 131.44,651.53" fill="#b0928e" stroke="#b0928e" stroke-width="0.6" stroke-linejoin="round"/>
<polygon points="151.26,668.21 148.21,654.99 131.44,651.53 129.99,663.55" fill="#b59f9b" stroke="#b59f9b" stroke-width="0.6" stroke-linejoin="round"/>
<polygon points="128.51,675.85 154.40,681.86 151.26,668.21 129.99,663.55" fill="#bdaeac" stroke="#bdaeac" stroke-width="0.6" stroke-linejoin="round"/>
<polygon points="165.37,629.43 161.25,621.16 164.40,631.47" fill="#d59890" stroke="#d59890" stroke-width="0.6" stroke-linejoin="round"/>
<polygon points="170.58,639.87 165.37,629.43 164.40,631.47 168.47,644.82" fill="#dcaba4" stroke="#dcaba4" stroke-width="0.6" stroke-linejoin="round"/>
<polygon points="175.83,650.40 170.58,639.87 168.47,644.82 172.71,658.70" fill="#e3bbb5" stroke="#e3bbb5" stroke-width="0.6" stroke-linejoin="round"/>
<polygon points="181.14,661.03 175.83,650.40 172.71,658.70 177.12,673.15" fill="#eacbc7" stroke="#eacbc7" stroke-width="0.6" stroke-linejoin="round"/>
<polygon points="181.71,688.20 186.50,671.77 181.14,661.03 177.12,673.15" fill="#f4dfde" stroke="#f4dfde" stroke-width="0.6" stroke-linejoin="round"/>
<polygon points="164.40,631.47 161.25,621.16 160.17,630.71" fill="#aa7c75" stroke="#aa7c75" stroke-width="0.6" stroke-linejoin="round"/>
<polygon points="168.47,644.82 164.40,631.47 160.17,630.71 158.79,642.96" fill="#af8a85" stroke="#af8a85" stroke-width="0.6" stroke-linejoin="round"/>
<polygon points="172.71,658.70 168.47,644.82 158.79,642.96 157.37,655.56" fill="#b59692" stroke="#b59692" stroke-width="0.6" stroke-linejoin="round"/>
<polygon points="177.12,673.15 172.71,658.70 157.37,655.56 155.90,668.52" fill="#baa29f" stroke="#baa29f" stroke-width="0.6" stroke-linejoin="round"/>
<polygon points="154.40,681.86 181.71,688.20 177.12,673.15 155.90,668.52" fill="#c1b2b0" stroke="#c1b2b0" stroke-width="0.6" stroke-linejoin="round"/>
<path d="M58.55 568.25L182.58 584.38L201.10 548.33" fill="none" stroke="#bdbdbd" stroke-width="0.5"/>
<path d="M58.50 564.80L58.50 660.10L179.30 689.10L201.40 622.30" fill="none" stroke="#1a1a1a" stroke-width="1.0"/>
<line x1="55.50" y1="567.30" x2="58.50" y2="567.30" stroke="#1a1a1a" stroke-width="0.9"/>
<text x="51.90" y="569.90" font-size="7.3" text-anchor="end" textLength="10.60" lengthAdjust="spacingAndGlyphs" >0.0</text>
<line x1="55.50" y1="576.58" x2="58.50" y2="576.58" stroke="#1a1a1a" stroke-width="0.9"/>
<text x="51.90" y="579.18" font-size="7.3" text-anchor="end" textLength="10.60" lengthAdjust="spacingAndGlyphs" >0.1</text>
<line x1="55.50" y1="585.86" x2="58.50" y2="585.86" stroke="#1a1a1a" stroke-width="0.9"/>
<text x="51.90" y="588.46" font-size="7.3" text-anchor="end" textLength="10.60" lengthAdjust="spacingAndGlyphs" >0.2</text>
<line x1="55.50" y1="595.14" x2="58.50" y2="595.14" stroke="#1a1a1a" stroke-width="0.9"/>
<text x="51.90" y="597.74" font-size="7.3" text-anchor="end" textLength="10.60" lengthAdjust="spacingAndGlyphs" >0.3</text>
<line x1="55.50" y1="604.42" x2="58.50" y2="604.42" stroke="#1a1a1a" stroke-width="0.9"/>
<text x="51.90" y="607.02" font-size="7.3" text-anchor="end" textLength="10.60" lengthAdjust="spacingAndGlyphs" >0.4</text>
<line x1="55.50" y1="613.70" x2="58.50" y2="613.70" stroke="#1a1a1a" stroke-width="0.9"/>
<text x="51.90" y="616.30" font-size="7.3" text-anchor="end" textLength="10.60" lengthAdjust="spacingAndGlyphs" >0.5</text>
<line x1="55.50" y1="622.98" x2="58.50" y2="622.98" stroke="#1a1a1a" stroke-width="0.9"/>
<text x="51.90" y="625.58" font-size="7.3" text-anchor="end" textLength="10.60" lengthAdjust="spacingAndGlyphs" >0.6</text>
<line x1="55.50" y1="632.26" x2="58.50" y2="632.26" stroke="#1a1a1a" stroke-width="0.9"/>
<text x="51.90" y="634.86" font-size="7.3" text-anchor="end" textLength="10.60" lengthAdjust="spacingAndGlyphs" >0.7</text>
<line x1="55.50" y1="641.54" x2="58.50" y2="641.54" stroke="#1a1a1a" stroke-width="0.9"/>
<text x="51.90" y="644.14" font-size="7.3" text-anchor="end" textLength="10.60" lengthAdjust="spacingAndGlyphs" >0.8</text>
<line x1="55.50" y1="650.82" x2="58.50" y2="650.82" stroke="#1a1a1a" stroke-width="0.9"/>
<text x="51.90" y="653.42" font-size="7.3" text-anchor="end" textLength="10.60" lengthAdjust="spacingAndGlyphs" >0.9</text>
<line x1="55.50" y1="660.10" x2="58.50" y2="660.10" stroke="#1a1a1a" stroke-width="0.9"/>
<text x="51.90" y="662.70" font-size="7.3" text-anchor="end" textLength="10.60" lengthAdjust="spacingAndGlyphs" >1.0</text>
<text x="33.10" y="616.30" font-size="8.6" text-anchor="middle" textLength="7.80" lengthAdjust="spacingAndGlyphs" >CI</text>
<line x1="58.50" y1="660.10" x2="58.00" y2="662.90" stroke="#1a1a1a" stroke-width="0.9"/>
<text x="54.00" y="673.50" font-size="7.8" text-anchor="middle" textLength="13.50" lengthAdjust="spacingAndGlyphs" >0.25</text>
<line x1="82.66" y1="665.90" x2="82.16" y2="668.70" stroke="#1a1a1a" stroke-width="0.9"/>
<text x="81.80" y="678.90" font-size="7.8" text-anchor="middle" textLength="13.50" lengthAdjust="spacingAndGlyphs" >0.79</text>
<line x1="106.82" y1="671.70" x2="106.32" y2="674.50" stroke="#1a1a1a" stroke-width="0.9"/>
<text x="105.20" y="685.10" font-size="7.8" text-anchor="middle" textLength="17.50" lengthAdjust="spacingAndGlyphs" >0.025</text>
<line x1="130.98" y1="677.50" x2="130.48" y2="680.30" stroke="#1a1a1a" stroke-width="0.9"/>
<text x="130.20" y="690.50" font-size="7.8" text-anchor="middle" textLength="17.50" lengthAdjust="spacingAndGlyphs" >0.008</text>
<line x1="155.14" y1="683.30" x2="154.64" y2="686.10" stroke="#1a1a1a" stroke-width="0.9"/>
<text x="155.00" y="696.40" font-size="7.8" text-anchor="middle" textLength="17.50" lengthAdjust="spacingAndGlyphs" >0.003</text>
<line x1="179.30" y1="689.10" x2="178.80" y2="691.90" stroke="#1a1a1a" stroke-width="0.9"/>
<text x="178.70" y="702.30" font-size="7.8" text-anchor="middle" textLength="4.00" lengthAdjust="spacingAndGlyphs" >0</text>
<line x1="179.30" y1="689.10" x2="182.30" y2="689.10" stroke="#1a1a1a" stroke-width="0.9"/>
<text x="186.00" y="692.90" font-size="7.8" textLength="4.00" lengthAdjust="spacingAndGlyphs" >0</text>
<line x1="183.72" y1="675.74" x2="186.72" y2="675.74" stroke="#1a1a1a" stroke-width="0.9"/>
<text x="189.80" y="679.50" font-size="7.8" textLength="13.50" lengthAdjust="spacingAndGlyphs" >0.02</text>
<line x1="188.14" y1="662.38" x2="191.14" y2="662.38" stroke="#1a1a1a" stroke-width="0.9"/>
<text x="193.70" y="666.30" font-size="7.8" textLength="17.50" lengthAdjust="spacingAndGlyphs" >0.063</text>
<line x1="192.56" y1="649.02" x2="195.56" y2="649.02" stroke="#1a1a1a" stroke-width="0.9"/>
<text x="198.50" y="654.10" font-size="7.8" textLength="9.50" lengthAdjust="spacingAndGlyphs" >0.2</text>
<line x1="196.98" y1="635.66" x2="199.98" y2="635.66" stroke="#1a1a1a" stroke-width="0.9"/>
<text x="202.30" y="640.60" font-size="7.8" textLength="17.50" lengthAdjust="spacingAndGlyphs" >0.632</text>
<line x1="201.40" y1="622.30" x2="204.40" y2="622.30" stroke="#1a1a1a" stroke-width="0.9"/>
<text x="208.00" y="627.10" font-size="7.8" textLength="4.00" lengthAdjust="spacingAndGlyphs" >2</text>
<text x="112.50" y="702.30" font-size="8.8" text-anchor="middle" textLength="62.30" lengthAdjust="spacingAndGlyphs" >[A419259] (µM)</text>
<text x="245.50" y="662.30" font-size="8.8" text-anchor="middle" textLength="49.00" lengthAdjust="spacingAndGlyphs" >[DD-03-171]</text>
<text x="245.30" y="673.30" font-size="8.8" text-anchor="middle" textLength="19.00" lengthAdjust="spacingAndGlyphs" >(µM)</text>
<text x="280.00" y="563.00" font-size="7.6" textLength="73.80" lengthAdjust="spacingAndGlyphs" >Combination Index (CI)</text>
<line x1="280" y1="564.8" x2="353.8" y2="564.8" stroke="#444" stroke-width="0.5"/>
<rect x="280" y="570.80" width="5" height="4.8" fill="#9a4c44"/>
<text x="287.70" y="575.40" font-size="7.6" textLength="18.50" lengthAdjust="spacingAndGlyphs" >0 - 0.1</text>
<rect x="280" y="581.37" width="5" height="4.8" fill="#a24f45"/>
<text x="287.70" y="585.97" font-size="7.6" textLength="24.60" lengthAdjust="spacingAndGlyphs" >0.1 - 0.2</text>
<rect x="280" y="591.94" width="5" height="4.8" fill="#a85046"/>
<text x="287.70" y="596.54" font-size="7.6" textLength="24.60" lengthAdjust="spacingAndGlyphs" >0.2 - 0.3</text>
<rect x="280" y="602.51" width="5" height="4.8" fill="#b05d52"/>
<text x="287.70" y="607.11" font-size="7.6" textLength="24.60" lengthAdjust="spacingAndGlyphs" >0.3 - 0.4</text>
<rect x="280" y="613.08" width="5" height="4.8" fill="#b85648"/>
<text x="287.70" y="617.68" font-size="7.6" textLength="24.60" lengthAdjust="spacingAndGlyphs" >0.4 - 0.5</text>
<rect x="280" y="623.65" width="5" height="4.8" fill="#c5837a"/>
<text x="287.70" y="628.25" font-size="7.6" textLength="24.60" lengthAdjust="spacingAndGlyphs" >0.5 - 0.6</text>
<rect x="280" y="634.22" width="5" height="4.8" fill="#cc9790"/>
<text x="287.70" y="638.82" font-size="7.6" textLength="24.60" lengthAdjust="spacingAndGlyphs" >0.6 - 0.7</text>
<rect x="280" y="644.79" width="5" height="4.8" fill="#d4a8a2"/>
<text x="287.70" y="649.39" font-size="7.6" textLength="24.60" lengthAdjust="spacingAndGlyphs" >0.7 - 0.8</text>
<rect x="280" y="655.36" width="5" height="4.8" fill="#dbbab5"/>
<text x="287.70" y="659.96" font-size="7.6" textLength="24.60" lengthAdjust="spacingAndGlyphs" >0.8 - 0.9</text>
<rect x="280" y="665.93" width="5" height="4.8" fill="#e6d0ce"/>
<text x="287.70" y="670.53" font-size="7.6" textLength="18.50" lengthAdjust="spacingAndGlyphs" >0.9 - 1</text>
<line x1="322.6" y1="569" x2="322.6" y2="577" stroke="#5a5a5a" stroke-width="1.3"/>
<text x="325.20" y="575.10" font-size="7.9" textLength="70.20" lengthAdjust="spacingAndGlyphs" >very strong synergism</text>
<line x1="322.6" y1="581" x2="322.6" y2="596.3" stroke="#5a5a5a" stroke-width="1.3"/>
<text x="325.20" y="590.50" font-size="7.9" textLength="54.80" lengthAdjust="spacingAndGlyphs" >strong synergism</text>
<line x1="322.6" y1="601.5" x2="322.6" y2="638.5" stroke="#5a5a5a" stroke-width="1.3"/>
<text x="325.20" y="622.80" font-size="7.9" textLength="32.60" lengthAdjust="spacingAndGlyphs" >synergism</text>
<line x1="322.6" y1="644.6" x2="322.6" y2="661.5" stroke="#5a5a5a" stroke-width="1.3"/>
<text x="325.20" y="654.50" font-size="7.9" textLength="86.20" lengthAdjust="spacingAndGlyphs" >moderate/slight synergism</text>
<line x1="322.6" y1="664.6" x2="322.6" y2="671.4" stroke="#5a5a5a" stroke-width="1.3"/>
<text x="325.20" y="670.20" font-size="7.9" textLength="47.10" lengthAdjust="spacingAndGlyphs" >nearly additive</text>
<rect x="0" y="0" width="520" height="1" fill="#000"/>
<rect x="0" y="0" width="1.2" height="713" fill="#000"/>
<rect x="518.2" y="0" width="1.8" height="713" fill="#4a4a4a"/>
<rect x="0" y="711.3" width="520" height="1.7" fill="#4a4a4a"/>
</svg></body></html>
